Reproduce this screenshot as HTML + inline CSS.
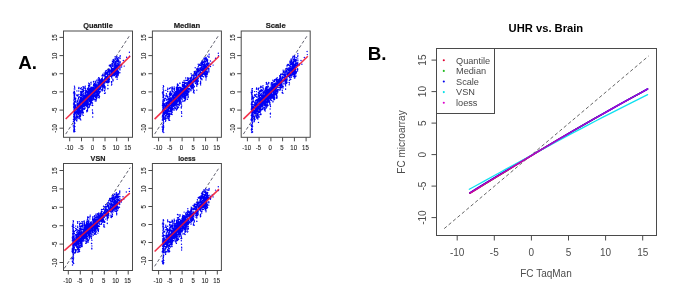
<!DOCTYPE html>
<html lang="en"><head><meta charset="utf-8"><title>Normalization comparison</title>
<style>html,body{margin:0;padding:0;background:#fff}svg{display:block}text{font-family:"Liberation Sans",Arial,sans-serif}.ax{stroke:#4a4a4a;stroke-width:1;fill:none}.tl{font-size:6.5px;fill:#222;stroke:#222;stroke-width:0.1}.tt{font-size:8px;font-weight:bold;fill:#222;stroke:#222;stroke-width:0.2}.bl{font-size:9.2px;fill:#484848}.ba{font-size:10px;fill:#4c4c4c}</style></head><body>
<svg width="685" height="296" viewBox="0 0 685 296">
<rect width="685" height="296" fill="#fff"/>
<g>
<line x1="65.7" y1="134.1" x2="130.3" y2="34.5" stroke="#505060" stroke-width="0.9" stroke-dasharray="3.2 2.2"/>
<path d="M90.2 103.0h0M90.4 99.8h0M90.3 104.3h0M90.6 99.3h0M97.4 87.1h0M97.3 89.8h0M97.6 87.7h0M97.5 88.2h0M94.3 89.2h0M94.1 89.5h0M94.4 85.5h0M94.5 89.3h0M79.7 101.8h0M80.0 100.6h0M79.8 105.8h0M80.1 101.3h0M81.9 108.1h0M81.8 109.1h0M81.9 110.1h0M81.9 108.3h0M96.9 84.6h0M97.0 80.3h0M96.9 81.0h0M96.8 80.3h0M74.3 111.5h0M74.0 107.3h0M74.0 104.4h0M74.1 111.4h0M95.4 92.4h0M95.4 93.1h0M95.5 95.0h0M95.5 89.7h0M94.9 95.9h0M95.0 95.6h0M94.9 96.4h0M95.0 95.9h0M86.3 95.2h0M86.1 91.2h0M86.3 97.0h0M86.2 98.9h0M82.0 91.2h0M81.9 94.8h0M81.9 93.3h0M81.8 96.1h0M81.3 87.8h0M81.2 93.3h0M81.3 92.0h0M81.2 98.4h0M80.6 108.3h0M80.7 107.5h0M80.7 107.7h0M80.6 106.2h0M85.8 101.5h0M85.6 97.6h0M85.6 103.5h0M85.7 102.4h0M87.1 96.1h0M87.2 99.4h0M87.2 95.4h0M87.4 95.6h0M88.6 95.2h0M88.5 93.0h0M88.6 97.8h0M88.5 95.6h0M100.2 91.1h0M100.2 92.1h0M100.2 92.0h0M100.4 89.0h0M94.8 85.7h0M94.7 83.7h0M94.9 90.2h0M94.8 86.4h0M90.3 102.8h0M90.0 95.9h0M90.4 100.9h0M90.4 101.5h0M100.0 84.7h0M100.1 82.4h0M100.1 83.4h0M100.0 83.6h0M79.7 115.9h0M79.5 108.6h0M79.6 110.3h0M79.7 110.3h0M78.2 103.1h0M78.0 105.8h0M78.2 106.2h0M78.1 103.5h0M90.0 96.5h0M90.1 99.4h0M90.0 97.0h0M89.9 96.7h0M75.0 112.8h0M75.3 112.0h0M74.9 114.4h0M75.1 110.6h0M74.9 116.7h0M74.9 111.6h0M74.8 106.5h0M74.8 112.3h0M87.5 99.6h0M87.6 93.8h0M87.4 95.9h0M87.4 99.0h0M86.3 101.0h0M86.3 104.4h0M86.2 106.1h0M86.1 103.5h0M98.1 88.1h0M98.1 89.9h0M98.1 90.5h0M98.0 89.3h0M90.5 103.8h0M90.5 100.2h0M90.4 99.9h0M90.5 102.1h0M87.5 106.1h0M87.4 106.4h0M87.5 103.5h0M87.3 99.9h0M87.0 103.7h0M87.0 105.8h0M87.0 102.2h0M87.1 106.4h0M80.3 88.7h0M74.4 120.5h0M74.3 117.1h0M74.2 121.2h0M74.3 117.7h0M78.9 94.5h0M78.9 87.5h0M79.2 96.6h0M79.0 97.3h0M92.2 102.6h0M92.2 100.4h0M92.3 104.9h0M92.2 102.9h0M79.3 103.8h0M79.1 107.9h0M79.1 101.7h0M79.3 102.1h0M83.8 104.1h0M83.7 102.8h0M83.7 105.4h0M83.7 104.0h0M74.0 109.0h0M74.2 110.7h0M74.1 109.4h0M74.1 110.9h0M95.8 85.7h0M95.9 84.9h0M95.8 88.4h0M95.8 85.4h0M77.9 96.1h0M78.0 95.7h0M78.2 99.9h0M77.9 100.0h0M81.0 99.9h0M81.1 100.2h0M81.1 106.3h0M81.0 105.4h0M87.4 100.3h0M87.3 95.2h0M87.4 98.8h0M87.6 101.0h0M96.3 89.9h0M96.3 90.5h0M96.1 90.8h0M96.2 94.5h0M90.7 93.4h0M90.7 97.9h0M90.7 95.6h0M90.7 98.2h0M93.4 98.0h0M93.4 97.6h0M93.3 96.9h0M93.3 95.5h0M76.4 107.8h0M76.3 109.2h0M76.4 112.8h0M76.4 107.9h0M88.1 95.1h0M88.2 97.2h0M88.0 89.8h0M88.4 90.9h0M87.4 101.7h0M87.3 103.1h0M87.2 104.8h0M87.3 104.4h0M96.7 91.2h0M96.8 92.5h0M96.9 92.5h0M96.9 94.3h0M83.4 101.6h0M83.5 97.4h0M83.3 98.0h0M83.5 100.3h0M89.6 97.9h0M89.6 97.2h0M89.7 94.2h0M89.6 98.8h0M75.7 112.3h0M75.4 117.2h0M75.7 113.0h0M75.4 112.3h0M84.2 99.5h0M84.0 103.7h0M84.0 103.2h0M84.1 98.0h0M82.5 106.0h0M82.3 106.7h0M82.5 105.8h0M82.4 105.3h0M77.9 103.4h0M77.9 103.8h0M77.9 106.9h0M77.7 106.4h0M95.6 89.3h0M95.5 90.6h0M95.4 90.5h0M95.3 88.0h0M83.8 95.1h0M83.8 87.0h0M84.0 88.5h0M83.9 90.5h0M99.6 88.7h0M99.6 87.8h0M99.8 87.9h0M99.7 89.2h0M89.4 99.2h0M89.6 99.1h0M89.5 94.4h0M89.5 97.4h0M89.8 99.7h0M89.7 98.2h0M89.7 100.4h0M89.8 97.2h0M90.7 92.0h0M90.8 87.3h0M90.8 94.9h0M90.7 90.4h0M91.8 98.6h0M91.6 101.6h0M91.5 99.8h0M91.7 100.4h0M77.8 110.2h0M77.8 108.5h0M77.9 116.5h0M77.8 107.9h0M85.4 92.2h0M85.5 88.8h0M85.5 90.3h0M85.5 88.4h0M80.3 100.4h0M80.2 98.9h0M80.1 100.9h0M80.2 103.9h0M84.7 101.5h0M84.5 101.6h0M84.6 99.3h0M84.7 108.0h0M76.6 116.2h0M76.4 112.7h0M76.7 118.8h0M76.5 117.3h0M99.4 91.3h0M99.4 93.0h0M99.5 96.4h0M99.4 92.1h0M79.6 105.2h0M79.7 105.5h0M79.5 106.8h0M79.5 107.4h0M81.9 89.5h0M81.9 95.2h0M82.0 102.1h0M81.7 95.6h0M97.0 88.0h0M96.9 86.4h0M96.8 87.8h0M96.9 89.5h0M91.5 89.9h0M91.3 93.4h0M91.3 91.3h0M91.4 93.3h0M77.5 101.9h0M77.5 95.1h0M77.3 105.9h0M77.4 100.9h0M96.3 94.0h0M96.1 95.6h0M96.1 92.8h0M96.3 95.9h0M98.9 79.3h0M97.6 95.3h0M97.7 93.6h0M97.8 92.2h0M97.7 91.9h0M88.9 87.0h0M88.9 90.0h0M88.8 85.7h0M88.9 91.2h0M77.7 113.3h0M78.0 112.9h0M77.8 113.5h0M77.7 111.2h0M78.9 112.4h0M79.0 114.1h0M78.8 108.6h0M78.9 111.1h0M98.3 93.7h0M98.4 94.8h0M98.3 94.4h0M98.3 95.4h0M88.3 104.8h0M88.4 102.6h0M88.5 107.7h0M88.4 107.5h0M78.8 91.0h0M78.6 97.4h0M78.8 91.1h0M78.7 88.5h0M97.2 96.4h0M97.0 96.5h0M97.1 95.3h0M97.3 91.8h0M90.9 97.6h0M90.8 95.5h0M90.9 93.3h0M90.8 96.9h0M88.9 98.2h0M88.9 94.0h0M89.0 98.1h0M89.0 97.0h0M83.8 103.6h0M83.8 102.7h0M83.9 100.4h0M83.9 101.9h0M84.7 97.7h0M84.9 96.1h0M84.8 99.1h0M84.7 100.1h0M80.4 100.2h0M80.3 104.4h0M80.2 97.1h0M80.3 104.2h0M74.8 113.1h0M74.9 107.3h0M74.7 109.4h0M75.0 113.0h0M96.8 97.0h0M97.1 97.0h0M96.9 98.0h0M96.9 97.5h0M86.2 105.5h0M86.3 103.2h0M86.3 102.1h0M86.4 102.4h0M88.4 103.1h0M88.4 99.1h0M88.3 97.5h0M88.4 97.2h0M82.4 102.1h0M82.4 103.0h0M82.4 102.4h0M82.4 104.6h0M93.7 92.5h0M93.7 87.9h0M93.7 92.8h0M93.6 92.2h0M74.7 105.5h0M74.4 107.5h0M74.5 115.3h0M74.7 107.1h0M83.5 103.8h0M83.7 104.0h0M83.8 100.2h0M83.6 101.1h0M75.0 114.6h0M74.5 112.1h0M74.9 111.8h0M74.9 112.9h0M77.3 104.1h0M77.1 103.6h0M77.2 105.0h0M77.1 105.5h0M99.5 81.7h0M99.3 81.3h0M99.4 82.5h0M99.5 78.3h0M91.1 97.6h0M91.2 98.9h0M91.3 98.7h0M91.1 98.1h0M87.6 92.0h0M87.7 88.4h0M87.7 93.4h0M87.6 92.4h0M97.0 80.9h0M96.8 84.6h0M97.0 84.6h0M96.9 84.3h0M83.1 101.3h0M82.9 99.4h0M82.9 102.6h0M82.9 99.3h0M89.5 89.4h0M89.6 86.1h0M89.7 85.8h0M89.6 89.6h0M91.9 89.1h0M91.9 93.5h0M92.0 94.8h0M91.9 95.7h0M83.4 96.8h0M83.4 99.9h0M83.2 102.3h0M83.2 99.8h0M87.7 101.9h0M87.6 96.8h0M87.6 98.5h0M87.7 96.8h0M94.0 96.3h0M94.0 99.8h0M94.0 95.7h0M93.9 98.3h0M78.0 111.1h0M77.9 114.1h0M77.9 108.3h0M77.7 112.1h0M98.5 85.8h0M98.4 86.4h0M98.5 86.6h0M98.5 84.9h0M74.1 113.2h0M74.3 114.7h0M74.1 112.7h0M74.1 113.5h0M93.8 92.1h0M93.7 92.8h0M93.8 93.2h0M93.9 92.9h0M95.1 89.7h0M95.4 87.7h0M95.3 90.0h0M95.4 85.9h0M77.6 109.0h0M77.4 106.9h0M77.4 104.7h0M77.7 105.8h0M85.0 104.0h0M84.8 102.4h0M85.0 99.7h0M84.9 101.4h0M95.2 81.2h0M95.4 82.0h0M74.3 98.6h0M74.3 97.0h0M74.3 96.2h0M74.4 95.3h0M90.3 91.9h0M90.4 93.9h0M90.4 93.1h0M90.4 92.2h0M87.4 96.5h0M87.6 97.4h0M87.3 98.9h0M87.3 94.6h0M93.1 90.8h0M93.1 95.0h0M93.1 92.2h0M92.9 93.0h0M80.0 101.7h0M79.8 107.7h0M79.8 106.6h0M79.8 105.7h0M79.1 106.0h0M79.2 107.4h0M79.2 102.2h0M79.2 105.6h0M83.6 93.1h0M83.5 90.6h0M83.6 95.3h0M83.4 91.5h0M78.5 105.6h0M78.7 107.7h0M78.5 111.8h0M78.6 107.3h0M83.0 86.8h0M83.0 89.0h0M83.2 87.3h0M98.6 97.3h0M99.0 97.4h0M99.1 95.4h0M98.9 93.8h0M89.0 99.8h0M89.1 101.0h0M89.2 98.7h0M88.9 104.2h0M82.9 106.3h0M82.9 107.3h0M82.9 106.2h0M82.9 103.2h0M81.1 107.1h0M81.0 110.9h0M81.1 111.3h0M81.0 105.2h0M98.9 86.4h0M99.0 85.7h0M99.0 84.8h0M98.9 89.4h0M85.8 102.6h0M85.6 102.5h0M85.5 102.1h0M85.7 105.7h0M99.7 83.6h0M99.8 83.8h0M99.7 80.5h0M99.8 81.5h0M87.5 99.6h0M87.4 97.9h0M87.5 97.7h0M87.7 102.6h0M87.4 103.2h0M87.7 99.6h0M87.7 104.3h0M87.5 100.6h0M97.4 86.6h0M97.7 91.3h0M97.5 93.1h0M97.7 91.5h0M93.5 87.5h0M93.5 88.1h0M93.5 85.5h0M93.5 81.5h0M89.3 95.4h0M89.3 96.3h0M89.2 97.1h0M89.2 98.3h0M85.3 86.1h0M85.2 96.2h0M85.1 93.1h0M85.1 87.3h0M97.1 85.0h0M97.0 80.6h0M97.0 80.8h0M97.0 83.1h0M84.7 103.7h0M84.8 105.4h0M84.9 101.1h0M84.8 102.5h0M98.4 90.6h0M98.2 87.5h0M98.5 90.4h0M98.3 89.6h0M75.8 98.3h0M75.7 102.1h0M75.5 99.0h0M75.7 100.3h0M85.3 100.8h0M85.4 95.3h0M85.1 98.9h0M85.4 100.1h0M87.6 98.2h0M87.7 96.5h0M87.4 96.4h0M87.6 99.6h0M99.0 81.1h0M80.6 98.2h0M80.6 95.6h0M80.6 95.6h0M80.6 93.1h0M95.2 89.0h0M95.1 87.9h0M95.0 89.7h0M95.0 85.1h0M91.9 91.8h0M91.8 90.0h0M91.7 93.9h0M91.7 91.2h0M92.8 93.8h0M92.8 88.8h0M92.8 91.4h0M92.7 93.7h0M90.7 94.0h0M90.5 93.9h0M90.4 97.6h0M90.4 93.3h0M99.4 79.4h0M99.6 80.0h0M99.6 80.8h0M82.7 112.8h0M82.7 110.7h0M82.6 109.7h0M82.8 108.6h0M84.4 102.1h0M84.6 97.3h0M84.3 97.8h0M84.4 100.0h0M79.4 109.4h0M79.2 103.9h0M79.1 103.9h0M79.2 108.1h0M75.3 110.5h0M75.3 106.3h0M75.3 113.4h0M75.4 111.8h0M79.6 105.2h0M79.6 106.2h0M79.5 105.8h0M79.5 109.5h0M98.1 79.0h0M96.0 86.2h0M95.9 89.6h0M95.9 89.0h0M96.1 88.7h0M76.9 104.6h0M77.0 106.7h0M76.9 110.5h0M77.0 106.7h0M89.9 95.6h0M89.9 98.6h0M89.8 96.9h0M89.8 94.1h0M86.6 92.2h0M86.4 96.5h0M86.6 91.7h0M86.6 91.9h0M89.5 93.8h0M89.8 92.8h0M89.6 93.3h0M89.6 90.4h0M91.3 98.7h0M91.2 99.1h0M91.3 96.8h0M91.3 100.8h0M82.2 108.0h0M82.1 106.1h0M82.1 108.0h0M82.0 108.6h0M99.1 96.1h0M99.2 97.3h0M99.2 97.9h0M86.2 102.4h0M86.3 100.4h0M86.3 99.5h0M86.3 97.4h0M90.5 91.4h0M90.5 93.1h0M90.5 93.4h0M90.5 93.0h0M90.6 92.9h0M90.7 92.5h0M90.9 93.3h0M90.6 94.9h0M78.7 110.2h0M78.7 112.2h0M78.6 113.6h0M78.9 111.7h0M75.6 105.0h0M75.6 111.6h0M75.7 105.3h0M75.8 107.0h0M84.7 99.2h0M84.9 98.1h0M84.8 99.4h0M84.8 100.9h0M94.1 92.9h0M94.0 96.0h0M94.2 91.7h0M94.1 93.2h0M95.4 89.6h0M95.5 87.6h0M95.5 95.9h0M95.4 88.2h0M93.2 94.0h0M93.3 92.8h0M93.2 93.2h0M93.1 92.0h0M76.8 116.3h0M76.8 120.9h0M76.9 119.8h0M98.0 92.1h0M97.8 87.4h0M98.0 89.1h0M98.0 89.0h0M95.1 94.6h0M95.0 87.8h0M95.2 93.1h0M95.0 96.5h0M96.9 87.8h0M96.9 87.6h0M97.0 87.4h0M97.1 87.8h0M87.8 99.5h0M87.7 96.0h0M87.6 99.2h0M87.6 100.1h0M97.9 85.2h0M98.0 85.8h0M97.9 82.5h0M98.0 82.2h0M75.2 113.5h0M75.1 113.8h0M75.2 111.5h0M75.1 107.7h0M74.6 115.4h0M74.7 114.4h0M74.8 113.7h0M74.8 118.5h0M74.4 110.1h0M74.6 110.9h0M74.4 112.8h0M74.6 109.5h0M80.6 102.8h0M80.5 100.7h0M80.7 105.9h0M80.5 104.0h0M80.4 100.0h0M80.3 108.4h0M80.5 102.7h0M80.5 104.5h0M78.9 117.0h0M78.8 118.3h0M79.0 118.1h0M78.8 114.8h0M88.8 96.6h0M89.0 98.8h0M89.0 95.6h0M88.9 97.1h0M74.8 117.1h0M74.9 115.7h0M75.0 119.3h0M75.0 113.7h0M89.6 94.8h0M89.3 96.4h0M89.5 96.7h0M89.4 99.9h0M78.4 98.5h0M78.3 106.1h0M78.4 103.7h0M78.2 100.0h0M91.6 94.2h0M91.7 90.7h0M91.7 91.8h0M91.7 93.5h0M74.6 102.1h0M74.6 97.7h0M74.5 99.2h0M74.4 94.4h0M82.1 101.9h0M82.0 107.3h0M82.2 104.6h0M82.1 104.1h0M98.7 80.9h0M98.6 80.8h0M98.6 77.6h0M88.0 91.0h0M88.1 89.0h0M88.1 88.0h0M88.0 89.5h0M95.3 100.9h0M95.4 94.9h0M95.2 97.3h0M95.2 101.1h0M91.2 91.9h0M91.2 88.2h0M91.2 93.6h0M91.3 89.4h0M90.2 96.2h0M89.8 94.5h0M90.0 100.3h0M90.0 99.7h0M79.0 110.3h0M78.9 106.8h0M78.9 107.0h0M79.1 111.0h0M89.0 93.6h0M89.0 92.4h0M89.0 92.1h0M89.1 93.9h0M75.0 112.6h0M75.1 108.8h0M75.0 113.7h0M75.0 112.1h0M95.0 86.6h0M94.9 86.8h0M95.0 86.8h0M94.9 85.0h0M99.2 85.7h0M99.1 85.1h0M99.1 83.0h0M99.2 84.1h0M96.5 96.3h0M96.2 100.9h0M96.6 97.5h0M96.4 98.7h0M75.3 119.2h0M75.2 118.8h0M83.0 106.1h0M82.7 107.6h0M82.8 104.9h0M82.9 105.8h0M82.2 99.3h0M82.3 105.9h0M82.3 107.0h0M82.5 104.1h0M76.8 95.5h0M76.9 95.6h0M77.0 94.8h0M76.9 90.9h0M90.3 92.4h0M90.5 93.2h0M90.4 95.1h0M90.5 89.2h0M95.0 86.2h0M95.0 88.0h0M95.0 86.9h0M94.9 87.9h0M82.1 97.9h0M82.2 102.1h0M82.2 104.6h0M82.1 103.5h0M96.6 92.6h0M96.6 92.2h0M96.8 90.1h0M96.8 88.8h0M94.9 86.8h0M94.9 87.2h0M94.9 89.6h0M95.0 91.2h0M77.4 104.6h0M77.3 107.7h0M77.3 109.6h0M77.3 107.2h0M94.0 88.7h0M94.2 93.0h0M94.0 88.0h0M94.2 89.5h0M117.9 64.0h0M118.0 63.8h0M117.9 60.1h0M118.0 60.8h0M104.2 75.7h0M104.2 75.1h0M104.2 73.0h0M111.7 84.1h0M111.8 81.8h0M111.5 85.1h0M111.7 77.9h0M112.9 63.2h0M113.1 64.8h0M112.8 65.4h0M112.9 66.3h0M112.3 61.1h0M112.6 61.5h0M112.3 63.6h0M102.1 78.4h0M102.0 79.5h0M102.1 75.4h0M102.2 79.7h0M113.4 62.3h0M113.5 60.0h0M113.4 66.0h0M113.5 61.6h0M112.8 79.3h0M112.9 74.6h0M113.1 80.8h0M112.9 80.0h0M116.7 67.5h0M116.6 66.7h0M116.6 67.6h0M116.8 70.4h0M116.2 70.6h0M116.2 75.8h0M116.3 71.2h0M116.3 73.8h0M107.0 81.1h0M106.6 77.3h0M106.8 81.6h0M106.9 78.7h0M114.6 64.5h0M114.6 67.6h0M114.7 67.3h0M114.8 66.5h0M117.5 69.8h0M117.4 69.7h0M117.7 74.3h0M117.7 69.1h0M118.1 65.5h0M117.9 68.4h0M118.2 68.8h0M118.1 66.5h0M100.9 83.5h0M100.9 82.8h0M100.6 87.8h0M100.7 87.7h0M113.4 69.8h0M113.2 72.6h0M113.1 68.6h0M113.3 72.2h0M104.5 85.9h0M104.5 88.0h0M104.5 87.0h0M104.5 85.4h0M111.5 75.5h0M111.5 75.8h0M111.4 71.4h0M111.5 74.7h0M107.9 85.4h0M107.9 88.7h0M107.9 85.1h0M107.9 85.4h0M105.5 87.1h0M105.4 87.0h0M105.3 93.0h0M105.3 88.9h0M109.5 74.4h0M109.4 81.6h0M109.4 79.5h0M109.2 77.1h0M113.2 59.4h0M113.5 62.4h0M113.5 60.4h0M107.9 72.4h0M107.8 74.8h0M107.8 80.3h0M107.7 75.4h0M102.8 86.4h0M102.8 84.9h0M103.0 84.0h0M102.9 79.6h0M113.6 74.8h0M113.5 74.9h0M113.4 73.9h0M113.5 73.9h0M116.8 57.0h0M116.9 57.9h0M116.9 56.4h0M116.7 57.6h0M107.8 82.2h0M107.8 80.4h0M107.7 79.6h0M107.9 80.3h0M111.0 65.5h0M111.0 65.0h0M110.8 66.9h0M111.1 66.6h0M104.6 80.6h0M104.5 82.4h0M104.5 78.2h0M104.5 78.3h0M105.3 74.6h0M105.0 76.3h0M105.2 76.7h0M105.4 77.3h0M106.8 73.2h0M106.9 71.9h0M106.8 76.5h0M106.7 72.9h0M109.4 73.0h0M109.4 69.1h0M109.3 65.7h0M109.4 65.2h0M102.0 86.0h0M102.0 87.0h0M101.7 89.8h0M101.8 86.3h0M115.1 56.7h0M115.4 61.5h0M115.3 58.1h0M115.4 59.3h0M111.7 72.3h0M111.7 76.3h0M111.8 73.8h0M111.8 76.8h0M106.2 79.8h0M106.2 81.5h0M106.3 82.3h0M106.3 78.6h0M101.7 78.9h0M101.6 81.8h0M101.8 79.2h0M101.8 83.3h0M115.5 67.7h0M115.5 65.6h0M115.4 74.5h0M115.6 69.2h0M102.9 85.6h0M102.9 86.2h0M102.8 88.5h0M102.8 85.0h0M103.0 83.8h0M102.9 89.9h0M103.0 87.0h0M102.8 86.1h0M105.6 76.5h0M105.6 78.7h0M105.7 72.5h0M105.7 74.8h0M106.3 70.4h0M116.8 73.6h0M117.0 72.4h0M116.7 71.8h0M116.9 73.4h0M112.9 71.0h0M112.6 71.4h0M112.5 74.6h0M112.6 71.5h0M104.1 81.9h0M104.0 80.8h0M104.0 81.0h0M104.0 81.3h0M108.9 82.2h0M109.2 80.3h0M108.9 81.6h0M108.9 79.8h0M117.9 72.1h0M117.9 70.5h0M117.9 70.9h0M118.0 73.2h0M107.8 77.0h0M107.6 79.1h0M107.8 73.7h0M107.7 77.8h0M114.4 71.8h0M114.3 70.6h0M114.4 68.8h0M114.4 71.1h0M102.2 89.6h0M102.0 90.8h0M102.2 89.3h0M102.2 90.9h0M114.7 66.1h0M114.7 66.3h0M114.7 64.1h0M114.9 63.5h0M115.5 69.2h0M115.7 70.5h0M115.6 69.8h0M115.7 69.0h0M116.8 58.4h0M116.7 60.5h0M116.8 61.9h0M116.7 58.9h0M113.9 73.3h0M113.8 71.5h0M113.8 70.6h0M113.6 69.3h0M107.6 75.5h0M107.8 76.8h0M107.6 78.6h0M107.6 79.6h0M101.6 83.0h0M101.4 84.7h0M101.6 85.7h0M101.5 82.6h0M110.7 75.3h0M110.5 75.2h0M110.7 75.2h0M110.5 74.0h0M115.5 71.9h0M115.5 72.4h0M115.5 73.9h0M115.4 70.6h0M104.1 79.8h0M103.8 82.6h0M104.1 83.2h0M104.0 85.4h0M105.5 73.8h0M105.4 71.2h0M105.5 73.0h0M111.0 71.6h0M111.1 69.6h0M110.9 71.3h0M110.9 70.1h0M115.1 58.8h0M115.4 59.1h0M118.1 75.6h0M118.3 72.3h0M118.3 74.2h0M118.0 75.7h0M102.9 85.9h0M102.7 85.8h0M102.9 85.8h0M102.7 81.5h0M103.8 87.3h0M104.0 83.1h0M104.0 86.2h0M104.1 86.4h0M116.4 67.3h0M116.3 70.9h0M116.2 68.7h0M116.2 66.6h0M113.1 75.7h0M113.0 73.9h0M113.1 75.4h0M112.9 72.1h0M114.7 73.0h0M114.6 75.1h0M114.9 68.7h0M114.7 71.3h0M120.1 58.6h0M120.2 55.8h0M120.0 58.0h0M120.1 56.4h0M118.8 64.0h0M119.1 65.5h0M119.1 62.8h0M118.9 65.5h0M117.1 79.2h0M117.2 76.9h0M117.1 74.3h0M117.1 77.6h0M115.7 62.9h0M115.7 61.9h0M115.8 62.6h0M115.9 66.8h0M108.1 70.3h0M108.0 71.2h0M108.2 70.6h0M108.1 71.7h0M113.2 72.8h0M113.1 71.1h0M113.1 72.9h0M113.2 72.7h0M115.5 73.1h0M115.6 77.0h0M115.6 74.4h0M115.6 73.4h0M115.4 63.2h0M115.4 63.3h0M115.5 62.1h0M115.4 63.9h0M114.7 71.7h0M114.6 71.4h0M114.8 69.4h0M114.6 74.0h0M109.2 80.1h0M109.0 80.5h0M109.2 78.5h0M109.0 79.6h0M107.9 77.5h0M107.7 74.5h0M107.8 76.1h0M107.9 74.6h0M108.6 78.7h0M108.6 79.5h0M108.6 82.2h0M108.4 82.6h0M100.9 82.5h0M101.0 82.7h0M100.8 83.1h0M101.0 84.3h0M117.0 66.9h0M117.0 68.4h0M117.1 63.8h0M117.1 65.3h0M111.3 73.2h0M110.9 72.8h0M111.2 71.6h0M111.2 74.7h0M107.8 79.2h0M107.8 82.9h0M108.0 81.8h0M107.9 81.1h0M114.4 69.6h0M114.7 66.0h0M114.6 65.8h0M114.7 65.8h0M107.9 88.4h0M116.9 67.2h0M116.7 68.4h0M116.8 66.8h0M116.8 60.6h0M118.6 61.1h0M118.5 60.2h0M118.7 61.8h0M118.6 61.9h0M108.0 75.2h0M107.9 76.4h0M108.1 76.5h0M108.0 77.7h0M102.7 84.4h0M102.9 82.9h0M103.0 81.6h0M103.1 80.9h0M115.4 66.6h0M115.4 70.6h0M115.4 70.2h0M115.5 71.8h0M120.0 65.5h0M120.0 68.0h0M120.0 65.6h0M120.1 61.6h0M103.2 83.0h0M103.0 82.0h0M103.3 83.9h0M103.1 85.3h0M114.5 75.1h0M114.5 75.6h0M114.6 73.3h0M114.6 71.6h0M116.7 76.9h0M116.7 75.6h0M116.6 75.2h0M116.9 75.8h0M118.7 57.7h0M102.9 83.8h0M102.7 80.8h0M102.7 83.8h0M102.7 81.0h0M102.1 75.9h0M102.2 75.8h0M119.9 68.1h0M119.9 69.4h0M120.1 64.0h0M120.1 67.1h0M102.6 83.5h0M102.4 78.2h0M102.6 80.9h0M102.6 81.7h0M103.8 81.8h0M103.7 80.6h0M103.7 81.2h0M103.7 82.4h0M111.8 69.3h0M111.8 68.3h0M111.8 68.8h0M111.7 71.9h0M109.2 72.1h0M109.2 74.6h0M109.1 71.7h0M109.2 75.0h0M115.4 65.5h0M115.3 68.0h0M115.3 67.6h0M115.2 68.7h0M104.1 86.5h0M103.9 84.5h0M104.1 84.4h0M104.2 83.3h0M118.7 73.1h0M118.6 72.6h0M118.6 71.8h0M118.5 71.9h0M115.7 72.6h0M115.5 72.1h0M115.4 70.2h0M115.5 71.4h0M101.4 83.0h0M101.5 85.8h0M101.7 85.6h0M101.6 84.5h0M101.0 79.4h0M106.4 73.8h0M106.4 77.7h0M106.5 72.3h0M106.6 74.0h0M106.5 82.6h0M106.5 81.1h0M106.6 77.4h0M106.6 77.8h0M109.4 72.9h0M109.3 74.0h0M109.3 70.7h0M109.5 70.2h0M101.4 79.2h0M101.3 81.8h0M101.4 81.0h0M101.6 79.6h0M98.6 91.9h0M98.7 85.4h0M98.6 84.0h0M98.6 88.9h0M91.1 91.4h0M91.2 92.0h0M91.4 88.6h0M91.1 92.6h0M93.1 98.6h0M92.8 98.5h0M92.9 99.6h0M93.0 97.9h0M101.2 81.4h0M101.2 81.3h0M101.0 81.1h0M101.2 80.0h0M88.4 96.3h0M88.8 95.9h0M88.5 92.2h0M88.5 93.9h0M86.1 99.9h0M86.1 99.0h0M86.1 103.1h0M86.3 98.4h0M81.7 113.0h0M81.8 110.4h0M81.7 112.0h0M81.7 107.5h0M90.0 105.3h0M89.8 104.9h0M89.8 103.1h0M90.0 103.8h0M98.3 89.1h0M98.3 89.4h0M98.5 87.4h0M98.3 88.5h0M95.4 95.4h0M95.2 99.3h0M95.5 96.7h0M95.4 96.8h0M84.1 99.8h0M84.1 104.5h0M84.1 103.7h0M84.2 102.0h0M84.8 104.9h0M84.5 103.4h0M84.7 104.0h0M84.5 109.2h0M86.6 94.3h0M86.5 98.4h0M86.9 97.0h0M86.7 99.3h0M91.4 93.5h0M91.3 90.1h0M91.5 94.0h0M91.2 92.7h0M88.5 90.2h0M88.7 91.9h0M88.4 93.6h0M88.5 92.0h0M91.0 99.8h0M90.9 97.1h0M90.9 98.9h0M91.0 97.1h0M91.4 95.9h0M91.5 97.4h0M91.4 96.4h0M91.4 95.1h0M87.9 93.8h0M88.1 92.8h0M88.0 91.3h0M87.9 99.2h0M89.2 98.9h0M89.5 97.4h0M89.5 96.1h0M89.4 98.7h0M90.7 92.1h0M90.8 94.8h0M91.0 96.4h0M90.8 93.6h0M89.1 89.3h0M89.2 93.0h0M89.3 91.9h0M89.2 91.1h0M92.6 97.1h0M92.6 95.6h0M92.8 93.7h0M92.7 96.4h0M100.7 82.3h0M100.5 86.7h0M100.6 80.3h0M100.7 82.7h0M93.1 96.5h0M93.2 96.1h0M93.2 93.6h0M93.2 96.8h0M90.1 95.1h0M90.0 92.8h0M89.9 88.4h0M90.0 94.1h0M80.0 100.5h0M79.7 102.3h0M79.7 100.1h0M79.9 102.1h0M91.9 102.2h0M91.9 99.9h0M91.8 99.9h0M92.0 103.0h0M78.3 104.8h0M78.4 111.4h0M78.2 108.3h0M78.3 109.2h0M81.3 98.7h0M81.4 100.4h0M81.3 98.9h0M81.4 101.1h0M93.8 82.9h0M93.7 84.5h0M93.8 86.0h0M93.7 85.0h0M88.8 93.0h0M88.8 97.9h0M88.8 96.5h0M88.8 92.7h0M79.6 106.2h0M79.6 101.1h0M79.5 104.4h0M79.6 102.7h0M87.4 107.7h0M87.5 109.3h0M87.5 110.2h0M87.5 111.1h0M85.5 100.7h0M85.5 97.5h0M85.7 99.6h0M85.7 100.0h0M93.5 91.9h0M93.5 93.4h0M93.5 96.4h0M93.5 91.2h0M102.9 75.0h0M102.8 79.8h0M102.9 76.1h0M102.9 74.2h0M91.0 99.8h0M91.0 97.8h0M90.9 98.0h0M90.9 102.7h0M85.2 102.6h0M85.1 102.0h0M85.1 100.6h0M85.1 101.8h0M82.7 101.7h0M82.7 100.4h0M82.8 100.8h0M82.8 99.0h0M89.6 84.9h0M89.3 83.7h0M88.5 107.1h0M83.1 91.4h0M83.0 90.1h0M83.0 89.6h0M83.0 94.3h0M90.4 101.3h0M90.4 100.0h0M90.3 103.3h0M90.3 104.6h0M82.9 98.8h0M83.0 99.9h0M82.9 96.5h0M83.0 99.5h0M96.0 85.2h0M96.3 87.6h0M96.4 89.9h0M96.3 88.5h0M95.9 92.5h0M95.8 89.2h0M95.9 89.3h0M95.8 88.0h0M96.1 99.8h0M96.1 99.6h0M96.2 96.5h0M86.7 110.8h0M86.9 103.6h0M86.8 102.1h0M86.8 111.7h0M92.6 90.2h0M92.7 91.0h0M92.8 87.3h0M92.6 89.0h0M89.0 99.8h0M89.1 96.3h0M89.0 98.2h0M89.0 98.1h0M87.4 103.8h0M87.3 98.5h0M87.4 105.1h0M87.4 100.1h0M82.2 104.4h0M81.9 100.2h0M81.9 102.7h0M82.0 100.5h0M81.1 94.3h0M81.3 97.4h0M81.2 95.6h0M81.4 94.8h0M94.5 92.4h0M94.4 93.7h0M94.3 95.5h0M94.4 95.6h0M88.6 87.7h0M88.5 85.8h0M88.6 85.2h0M88.6 83.1h0M91.0 84.1h0M91.1 84.0h0M91.1 82.2h0M90.9 82.6h0M95.6 91.4h0M95.5 90.7h0M95.6 90.7h0M95.5 90.0h0M79.6 109.0h0M79.5 107.3h0M79.6 103.8h0M79.5 109.1h0M84.9 102.8h0M85.2 103.2h0M85.1 104.1h0M85.2 105.5h0M90.7 92.7h0M90.8 94.1h0M90.9 96.3h0M90.7 94.1h0M92.1 105.2h0M92.1 103.2h0M87.4 103.6h0M87.5 105.5h0M87.5 102.1h0M87.6 103.7h0M95.5 83.9h0M95.7 82.6h0M95.7 87.0h0M95.8 85.2h0M90.9 94.5h0M91.0 98.5h0M90.9 96.0h0M91.0 97.5h0M82.6 102.9h0M82.5 100.2h0M82.6 101.9h0M82.4 103.1h0M84.2 102.7h0M84.3 102.3h0M84.2 99.9h0M84.3 101.6h0M94.2 91.8h0M94.2 90.1h0M94.3 90.3h0M94.4 89.7h0M92.4 88.1h0M92.4 89.3h0M92.4 91.7h0M92.5 91.2h0M78.5 110.3h0M78.4 113.3h0M78.4 106.2h0M78.7 109.4h0M97.4 92.6h0M97.6 93.2h0M97.7 88.8h0M97.6 91.4h0M93.1 93.8h0M93.2 94.3h0M93.3 94.6h0M93.3 96.1h0M87.6 89.6h0M87.4 91.4h0M87.3 89.1h0M87.5 89.3h0M88.1 100.8h0M88.0 102.4h0M88.0 97.5h0M88.2 103.9h0M83.0 102.2h0M83.1 100.7h0M83.0 103.4h0M83.1 103.4h0M104.6 91.0h0M104.7 90.4h0M104.5 93.4h0M104.5 90.5h0M88.5 95.7h0M88.7 97.0h0M88.6 96.1h0M88.7 98.4h0M98.9 90.6h0M99.0 94.1h0M99.1 92.4h0M99.0 91.5h0M85.9 101.4h0M85.9 102.4h0M85.8 103.7h0M85.7 104.5h0M90.7 93.3h0M90.7 90.2h0M90.7 91.8h0M90.4 93.8h0M79.7 110.7h0M79.7 115.7h0M79.8 115.2h0M80.0 113.0h0M87.5 101.4h0M87.4 105.1h0M87.4 105.6h0M87.5 102.0h0M95.4 90.4h0M95.5 91.9h0M95.5 84.5h0M95.2 87.3h0M82.3 98.0h0M82.4 95.8h0M82.3 98.3h0M82.3 92.2h0M95.9 92.5h0M95.9 90.9h0M96.1 89.7h0M95.9 90.8h0M91.6 87.2h0M91.4 93.9h0M91.6 92.6h0M91.5 89.4h0M83.4 105.2h0M83.6 104.4h0M83.6 105.7h0M83.4 101.2h0M86.8 97.4h0M86.8 95.1h0M86.7 94.1h0M86.8 95.4h0M86.8 98.4h0M86.9 99.1h0M86.8 100.4h0M86.9 101.1h0M89.5 95.1h0M89.3 93.8h0M89.3 93.0h0M89.3 96.0h0M86.5 90.8h0M86.5 94.0h0M86.6 94.7h0M86.5 96.9h0M84.7 99.8h0M84.8 96.3h0M84.8 97.8h0M84.7 95.4h0M87.9 93.1h0M88.1 90.3h0M87.8 93.9h0M87.9 93.7h0M83.8 108.4h0M83.6 106.4h0M83.6 105.3h0M83.5 106.1h0M82.1 105.2h0M82.1 102.8h0M82.1 105.1h0M82.1 101.9h0M89.5 107.1h0M89.3 105.9h0M94.9 91.0h0M94.9 87.5h0M94.8 91.1h0M94.8 90.6h0M80.6 110.7h0M80.5 116.4h0M80.7 111.8h0M80.6 115.6h0M89.7 95.2h0M89.6 94.3h0M89.7 95.5h0M89.6 100.9h0M85.8 101.7h0M85.9 101.7h0M85.8 105.0h0M85.9 98.1h0M83.8 102.9h0M83.9 99.4h0M83.8 103.0h0M83.9 96.7h0M86.7 100.8h0M86.6 99.9h0M86.7 103.5h0M86.7 100.4h0M85.1 104.0h0M85.2 103.1h0M85.2 108.0h0M85.1 108.3h0M91.8 90.9h0M91.9 94.2h0M91.9 92.3h0M92.0 91.6h0M88.3 93.0h0M88.3 91.1h0M88.4 93.4h0M88.3 89.2h0M85.2 92.3h0M85.4 97.2h0M85.4 93.9h0M85.3 94.0h0M93.1 96.2h0M93.0 93.1h0M93.2 90.8h0M93.1 94.1h0M88.8 91.0h0M88.7 93.0h0M88.8 93.7h0M88.7 94.5h0M89.3 91.5h0M89.2 93.5h0M89.3 91.4h0M89.4 89.5h0M83.3 101.7h0M83.2 104.0h0M83.3 108.9h0M83.2 103.2h0M88.9 107.0h0M88.9 104.2h0M89.0 100.5h0M89.2 101.4h0M95.3 87.7h0M95.2 86.3h0M95.3 87.4h0M95.4 90.0h0M84.3 101.4h0M84.4 104.7h0M84.5 105.7h0M84.4 106.3h0M89.5 95.0h0M89.4 95.2h0M89.5 94.1h0M89.3 96.3h0M79.6 104.8h0M79.6 107.3h0M79.5 108.7h0M79.8 111.6h0M93.4 97.2h0M93.4 93.8h0M93.5 89.8h0M93.3 96.8h0M83.2 115.4h0M83.2 112.0h0M83.2 113.1h0M83.3 112.5h0M79.1 106.6h0M79.2 110.3h0M79.1 108.3h0M79.2 104.6h0M89.4 89.4h0M89.3 92.8h0M89.4 94.2h0M89.3 92.3h0M96.1 96.4h0M96.3 96.0h0M96.2 97.4h0M96.2 97.5h0M80.8 88.6h0M80.8 92.5h0M80.6 94.8h0M80.7 91.5h0M83.2 101.0h0M83.3 100.3h0M83.2 101.2h0M83.4 102.6h0M85.4 92.9h0M85.2 94.0h0M85.3 93.3h0M85.2 93.8h0M83.0 107.1h0M83.1 106.0h0M83.1 109.5h0M82.9 106.6h0M116.4 76.1h0M116.4 73.5h0M116.4 73.5h0M116.5 75.7h0M112.1 72.5h0M112.3 73.7h0M112.1 75.3h0M112.2 72.0h0M112.5 69.7h0M112.6 68.6h0M112.5 70.7h0M112.5 70.3h0M117.0 68.9h0M117.0 71.2h0M117.2 68.3h0M117.1 69.7h0M112.2 63.2h0M112.3 65.0h0M112.4 66.6h0M112.5 64.8h0M116.7 67.6h0M116.7 65.9h0M116.4 70.0h0M116.6 67.3h0M111.7 71.1h0M111.7 71.3h0M111.7 74.1h0M111.6 75.3h0M110.9 70.8h0M110.9 72.1h0M110.8 76.2h0M110.7 76.0h0M108.8 69.5h0M108.5 69.5h0M108.7 69.9h0M108.8 71.2h0M121.5 64.6h0M121.6 67.0h0M121.6 65.0h0M121.7 65.0h0M114.0 60.2h0M114.1 62.7h0M114.0 61.2h0M113.9 60.4h0M116.0 65.0h0M115.9 63.0h0M115.9 64.4h0M116.1 65.7h0M114.9 69.0h0M114.9 67.2h0M114.9 66.4h0M114.8 65.9h0M115.4 68.2h0M115.7 67.1h0M115.5 67.6h0M115.6 68.7h0M115.2 63.4h0M115.1 63.0h0M115.1 60.9h0M115.2 67.6h0M111.4 67.5h0M111.3 70.8h0M111.5 69.8h0M111.4 68.5h0M109.6 75.8h0M109.6 70.1h0M109.5 71.7h0M109.4 72.8h0M111.5 68.8h0M111.4 64.9h0M111.4 69.5h0M111.5 69.3h0M110.3 71.0h0M110.4 75.1h0M110.4 75.3h0M110.4 76.2h0M117.7 58.4h0M117.7 60.2h0M117.8 61.2h0M117.5 60.2h0M118.0 66.8h0M117.9 68.3h0M117.8 67.3h0M117.9 66.6h0M111.6 82.6h0M111.7 77.6h0M111.8 84.2h0M111.4 81.7h0M110.1 66.1h0M110.2 65.1h0M113.8 67.9h0M113.7 70.6h0M113.7 70.8h0M113.9 73.6h0M120.0 69.9h0M119.9 72.7h0M119.9 69.0h0M120.0 68.3h0M104.9 83.1h0M105.1 79.4h0M105.3 81.6h0M105.3 81.7h0M116.9 71.3h0M117.1 71.2h0M116.9 70.5h0M116.8 67.2h0M118.7 61.5h0M118.7 64.8h0M118.5 65.4h0M118.9 64.8h0M74.7 96.9h0M74.2 93.6h0M74.5 98.2h0M74.1 107.6h0M73.6 116.7h0M74.4 115.8h0M74.4 91.5h0M74.1 106.5h0M74.1 99.7h0M74.4 127.0h0M74.1 117.7h0M74.4 104.6h0M74.2 98.3h0M73.4 119.5h0M74.2 106.2h0M74.1 117.9h0M74.0 130.8h0M74.4 119.7h0M74.1 105.8h0M74.5 113.4h0M74.7 110.1h0M74.3 101.6h0M73.7 114.6h0M74.0 132.1h0M74.6 129.4h0M74.2 126.2h0M74.0 92.1h0M74.2 109.0h0M74.5 118.8h0M74.4 112.1h0M74.5 108.7h0M74.0 130.3h0M74.2 127.2h0M74.2 125.0h0M74.3 106.9h0M73.5 92.9h0M74.2 99.1h0M73.8 106.5h0M74.8 123.5h0M74.9 117.7h0M74.9 126.5h0M74.6 92.5h0M74.1 115.9h0M74.6 126.7h0M74.2 92.4h0M74.5 126.5h0M73.9 100.3h0M74.1 123.8h0M74.4 128.1h0M74.9 114.8h0M74.3 121.0h0M75.1 93.9h0M75.3 101.5h0M73.8 102.6h0M74.3 101.1h0M73.9 114.6h0M74.2 119.4h0M74.1 98.0h0M74.3 128.5h0M74.6 95.7h0M74.6 114.6h0M74.4 105.9h0M74.3 92.3h0M74.3 104.3h0M74.3 95.3h0M74.5 96.0h0M74.3 119.3h0M74.5 122.4h0M73.8 131.5h0M74.6 114.6h0M74.9 131.4h0M74.3 125.9h0M73.8 119.8h0M74.8 89.0h0M74.2 115.9h0M73.2 125.9h0M74.2 94.5h0M74.5 104.9h0M74.4 115.9h0M74.7 112.6h0M74.5 115.1h0M74.3 88.9h0M73.5 104.0h0M73.9 105.6h0M74.3 117.9h0M74.5 130.2h0M73.9 103.0h0M74.0 127.2h0M74.5 123.3h0M73.6 130.0h0M73.6 107.6h0M74.2 131.2h0M74.4 92.9h0M74.1 101.1h0M73.4 121.4h0M74.3 104.8h0M73.8 92.6h0M74.5 98.1h0M74.2 113.9h0M74.4 114.8h0M74.5 104.0h0M74.1 95.2h0M74.6 115.0h0M74.7 112.2h0M74.4 86.1h0M74.8 106.5h0M74.0 108.1h0M74.6 123.2h0M74.4 119.3h0M73.9 128.0h0M74.2 91.3h0M74.1 117.2h0M74.1 118.7h0M74.3 104.4h0M74.7 87.2h0M74.2 98.7h0M74.3 102.9h0M73.7 114.8h0M74.3 111.5h0M74.7 107.1h0M80.1 102.7h0M80.3 116.5h0M80.2 107.3h0M80.3 113.4h0M79.8 108.5h0M80.2 109.8h0M80.2 118.9h0M80.0 104.0h0M80.2 112.2h0M79.8 116.2h0M80.7 115.1h0M80.4 100.7h0M80.8 101.9h0M80.0 108.2h0M79.9 113.3h0M80.3 105.6h0M79.8 117.6h0M80.3 100.9h0M80.1 118.4h0M80.2 119.2h0M80.3 113.0h0M80.3 111.0h0M80.8 119.9h0M80.4 114.0h0M79.9 101.0h0M80.5 105.2h0M82.1 114.3h0M82.4 100.3h0M82.1 108.9h0M82.2 98.6h0M82.7 109.7h0M82.3 109.7h0M82.2 106.3h0M82.3 105.6h0M82.3 112.0h0M82.7 107.3h0M82.1 104.2h0M82.1 110.4h0M82.5 102.2h0M82.0 105.0h0M82.3 103.4h0M82.6 104.3h0M82.4 110.6h0M82.3 104.0h0M82.2 111.8h0M82.2 112.1h0M76.8 112.7h0M77.0 119.1h0M77.4 117.5h0M77.3 111.2h0M76.8 102.1h0M76.7 120.5h0M77.2 112.0h0M76.3 120.5h0M76.8 111.0h0M76.9 110.5h0M76.6 112.6h0M76.6 120.6h0M77.1 109.1h0M76.4 112.1h0M76.6 111.2h0M76.7 108.4h0M77.0 104.6h0M76.5 114.7h0M77.3 104.7h0M76.9 118.4h0M76.9 113.9h0M76.8 117.1h0M92.6 103.1h0M92.8 105.6h0M92.4 110.0h0M92.6 112.2h0M92.8 113.5h0M92.7 117.1h0M92.7 117.0h0M129.4 52.2h0M129.6 56.3h0M126.6 57.3h0M117.2 59.0h0M118.1 59.7h0M116.2 61.7h0M118.8 60.3h0M117.4 61.9h0M120.2 62.3h0M124.2 66.1h0M123.3 60.5h0" stroke="#0000f4" stroke-width="1.4" stroke-linecap="round" fill="none"/>
<line x1="65.7" y1="119.0" x2="130.1" y2="56.1" stroke="#f01430" stroke-width="1.55" stroke-opacity="0.88"/>
<rect class="ax" x="63.5" y="31" width="69" height="106.3"/>
<path class="ax" d="M69.7 137.3v4M63.5 128.2h-4M81.5 137.3v4M63.5 110.1h-4M93.2 137.3v4M63.5 91.9h-4M105.0 137.3v4M63.5 73.7h-4M116.7 137.3v4M63.5 55.6h-4M128.4 137.3v4M63.5 37.4h-4"/>
<text class="tl" transform="translate(69.0 149.8) scale(0.93 1)" text-anchor="middle">-10</text>
<text class="tl" transform="translate(57.0 128.5) rotate(-90) scale(0.93 1)" text-anchor="middle">-10</text>
<text class="tl" transform="translate(80.8 149.8) scale(0.93 1)" text-anchor="middle">-5</text>
<text class="tl" transform="translate(57.0 110.4) rotate(-90) scale(0.93 1)" text-anchor="middle">-5</text>
<text class="tl" transform="translate(92.5 149.8) scale(0.93 1)" text-anchor="middle">0</text>
<text class="tl" transform="translate(57.0 92.2) rotate(-90) scale(0.93 1)" text-anchor="middle">0</text>
<text class="tl" transform="translate(104.2 149.8) scale(0.93 1)" text-anchor="middle">5</text>
<text class="tl" transform="translate(57.0 74.0) rotate(-90) scale(0.93 1)" text-anchor="middle">5</text>
<text class="tl" transform="translate(116.0 149.8) scale(0.93 1)" text-anchor="middle">10</text>
<text class="tl" transform="translate(57.0 55.9) rotate(-90) scale(0.93 1)" text-anchor="middle">10</text>
<text class="tl" transform="translate(127.7 149.8) scale(0.93 1)" text-anchor="middle">15</text>
<text class="tl" transform="translate(57.0 37.7) rotate(-90) scale(0.93 1)" text-anchor="middle">15</text>
<text class="tt" x="98.0" y="27.8" text-anchor="middle" textLength="29.5" lengthAdjust="spacingAndGlyphs">Quantile</text></g>
<g>
<line x1="154.6" y1="134.1" x2="219.2" y2="34.5" stroke="#505060" stroke-width="0.9" stroke-dasharray="3.2 2.2"/>
<path d="M179.1 102.1h0M179.3 104.2h0M179.2 104.8h0M179.5 98.3h0M186.3 87.0h0M186.2 88.4h0M186.5 88.9h0M186.4 87.8h0M183.2 88.7h0M183.0 89.0h0M183.3 85.1h0M183.4 89.3h0M168.6 101.2h0M168.9 102.7h0M168.7 106.1h0M169.0 102.9h0M170.8 105.8h0M170.7 108.8h0M170.8 110.2h0M170.8 108.9h0M185.8 83.1h0M185.9 83.0h0M185.8 80.5h0M185.7 78.0h0M163.2 110.7h0M162.9 107.4h0M162.9 103.6h0M163.0 109.1h0M184.3 89.6h0M184.3 95.9h0M184.4 94.6h0M184.4 92.5h0M183.8 94.2h0M183.9 95.5h0M183.8 97.3h0M183.9 95.8h0M175.2 93.5h0M175.0 93.2h0M175.2 94.6h0M175.1 99.1h0M170.9 94.9h0M170.8 93.5h0M170.8 93.2h0M170.7 94.6h0M170.2 87.7h0M170.1 94.0h0M170.2 91.4h0M170.1 95.9h0M169.5 106.6h0M169.6 106.2h0M169.6 106.8h0M169.5 104.4h0M174.7 101.1h0M174.5 98.2h0M174.5 104.0h0M174.6 102.0h0M176.0 96.0h0M176.1 98.6h0M176.1 95.6h0M176.3 95.3h0M177.5 96.8h0M177.4 92.4h0M177.5 95.4h0M177.4 95.1h0M189.1 91.0h0M189.1 91.9h0M189.1 90.8h0M189.3 89.2h0M183.7 86.0h0M183.6 82.1h0M183.8 88.7h0M183.7 86.4h0M179.2 103.3h0M178.9 97.2h0M179.3 100.2h0M179.3 100.3h0M188.9 85.3h0M189.0 82.5h0M189.0 83.5h0M188.9 82.4h0M168.6 115.2h0M168.4 107.2h0M168.5 110.4h0M168.6 111.5h0M167.1 102.4h0M166.9 107.3h0M167.1 106.7h0M167.0 102.5h0M178.9 95.6h0M179.0 97.9h0M178.9 97.4h0M178.8 97.9h0M163.9 114.5h0M164.2 111.9h0M163.8 115.0h0M164.0 108.3h0M163.8 116.4h0M163.8 111.3h0M163.7 107.9h0M163.7 111.7h0M176.4 100.8h0M176.5 93.4h0M176.3 96.1h0M176.3 99.8h0M175.2 101.0h0M175.2 104.1h0M175.1 104.8h0M175.0 101.3h0M187.0 87.7h0M187.0 91.8h0M187.0 88.6h0M186.9 91.1h0M179.4 102.0h0M179.4 101.2h0M179.3 101.6h0M179.4 103.6h0M176.4 105.2h0M176.3 105.6h0M176.4 101.8h0M176.2 99.5h0M175.9 102.4h0M175.9 104.2h0M175.9 103.1h0M176.0 106.8h0M169.2 88.6h0M163.3 118.3h0M163.2 116.0h0M163.1 119.3h0M163.2 118.0h0M167.8 96.5h0M167.8 89.5h0M168.1 98.0h0M167.9 98.0h0M181.1 102.6h0M181.1 102.5h0M181.2 106.9h0M181.1 102.2h0M168.2 105.1h0M168.0 107.0h0M168.0 102.0h0M168.2 101.2h0M172.7 102.7h0M172.6 103.2h0M172.6 104.3h0M172.6 105.1h0M162.9 109.5h0M163.1 107.8h0M163.0 109.2h0M163.0 111.0h0M184.7 87.5h0M184.8 85.5h0M184.7 88.5h0M184.7 85.8h0M166.8 96.0h0M166.9 95.2h0M167.1 100.0h0M166.8 99.4h0M169.9 100.1h0M170.0 98.7h0M170.0 107.7h0M169.9 102.8h0M176.3 100.4h0M176.2 95.1h0M176.3 98.8h0M176.5 99.4h0M185.2 91.8h0M185.2 90.0h0M185.0 90.9h0M185.1 95.2h0M179.6 94.4h0M179.6 97.6h0M179.6 96.6h0M179.6 95.1h0M182.3 99.9h0M182.3 97.1h0M182.2 96.5h0M182.2 94.2h0M165.3 105.8h0M165.2 110.7h0M165.3 112.5h0M165.3 106.4h0M177.0 95.9h0M177.1 93.9h0M176.9 90.1h0M177.3 90.3h0M176.3 100.4h0M176.2 103.4h0M176.1 105.1h0M176.2 104.3h0M185.6 90.9h0M185.7 93.5h0M185.8 92.8h0M185.8 95.4h0M172.3 102.2h0M172.4 96.1h0M172.2 97.1h0M172.4 101.7h0M178.5 98.5h0M178.5 98.3h0M178.6 93.4h0M178.5 99.8h0M164.6 110.3h0M164.3 117.5h0M164.6 114.2h0M164.3 110.6h0M173.1 100.0h0M172.9 103.2h0M172.9 102.4h0M173.0 100.1h0M171.4 107.7h0M171.2 105.3h0M171.4 103.6h0M171.3 105.5h0M166.8 103.2h0M166.8 103.5h0M166.8 106.9h0M166.6 104.8h0M184.5 90.6h0M184.4 91.9h0M184.3 92.0h0M184.2 86.9h0M172.7 91.7h0M172.7 87.9h0M172.9 88.9h0M172.8 89.0h0M188.5 88.5h0M188.5 89.2h0M188.7 86.2h0M188.6 89.3h0M178.3 98.4h0M178.5 96.9h0M178.4 94.1h0M178.4 97.7h0M178.7 99.3h0M178.6 98.6h0M178.6 97.5h0M178.7 97.9h0M179.6 91.6h0M179.7 87.3h0M179.7 94.8h0M179.6 91.2h0M180.7 98.0h0M180.5 100.3h0M180.4 97.8h0M180.6 97.5h0M166.7 112.6h0M166.7 110.1h0M166.8 116.0h0M166.7 109.1h0M174.3 92.9h0M174.4 88.4h0M174.4 89.7h0M174.4 90.2h0M169.2 101.2h0M169.1 100.3h0M169.0 99.9h0M169.1 101.8h0M173.6 103.0h0M173.4 103.0h0M173.5 98.5h0M173.6 106.2h0M165.5 115.5h0M165.3 113.2h0M165.6 118.4h0M165.4 116.2h0M188.3 92.4h0M188.3 91.3h0M188.4 96.8h0M188.3 94.0h0M168.5 104.8h0M168.6 106.7h0M168.4 106.2h0M168.4 105.6h0M170.8 92.2h0M170.8 94.9h0M170.9 98.6h0M170.6 95.6h0M185.9 88.5h0M185.8 88.0h0M185.7 88.1h0M185.8 90.4h0M180.4 91.0h0M180.2 93.9h0M180.2 91.4h0M180.3 92.4h0M166.4 102.8h0M166.4 93.7h0M166.2 103.8h0M166.3 100.0h0M185.2 94.4h0M185.0 93.5h0M185.0 93.6h0M185.2 93.1h0M187.8 78.0h0M186.5 95.3h0M186.6 94.4h0M186.7 90.0h0M186.6 90.9h0M177.8 87.4h0M177.8 88.4h0M177.7 85.8h0M177.8 91.2h0M166.6 113.1h0M166.9 113.3h0M166.7 114.5h0M166.6 111.3h0M167.8 114.7h0M167.9 113.5h0M167.7 108.0h0M167.8 109.9h0M187.2 93.4h0M187.3 94.9h0M187.2 94.0h0M187.2 94.2h0M177.2 105.1h0M177.3 102.2h0M177.4 108.5h0M177.3 107.0h0M167.7 88.1h0M167.5 97.0h0M167.7 91.5h0M167.6 89.6h0M186.1 93.2h0M185.9 96.9h0M186.0 93.2h0M186.2 93.4h0M179.8 96.8h0M179.7 94.8h0M179.8 94.8h0M179.7 97.9h0M177.8 98.8h0M177.8 95.1h0M177.9 96.5h0M177.9 96.1h0M172.7 104.4h0M172.7 104.9h0M172.8 100.1h0M172.8 99.8h0M173.6 95.8h0M173.8 97.1h0M173.7 99.8h0M173.6 98.4h0M169.3 100.0h0M169.2 103.9h0M169.1 98.0h0M169.2 104.5h0M163.7 112.6h0M163.8 109.2h0M163.6 109.7h0M163.9 111.9h0M185.7 99.3h0M186.0 97.0h0M185.8 97.3h0M185.8 98.1h0M175.1 105.3h0M175.2 103.2h0M175.2 100.4h0M175.3 102.3h0M177.3 101.1h0M177.3 97.9h0M177.2 100.1h0M177.3 96.7h0M171.3 104.7h0M171.3 103.5h0M171.3 103.9h0M171.3 102.9h0M182.6 93.2h0M182.6 89.5h0M182.6 91.8h0M182.5 90.7h0M163.6 106.7h0M163.3 108.3h0M163.4 114.7h0M163.6 108.3h0M172.4 103.6h0M172.6 104.2h0M172.7 101.5h0M172.5 101.1h0M163.9 116.7h0M163.4 112.5h0M163.8 112.9h0M163.8 115.3h0M166.2 103.8h0M166.0 104.5h0M166.1 104.6h0M166.0 105.6h0M188.4 79.6h0M188.2 81.0h0M188.3 82.4h0M188.4 78.6h0M180.0 98.5h0M180.1 98.3h0M180.2 99.7h0M180.0 97.3h0M176.5 91.3h0M176.6 87.5h0M176.6 95.2h0M176.5 91.5h0M185.9 80.1h0M185.7 83.3h0M185.9 86.0h0M185.8 83.0h0M172.0 101.2h0M171.8 98.5h0M171.8 103.9h0M171.8 99.4h0M178.4 90.2h0M178.5 87.4h0M178.6 87.6h0M178.5 90.1h0M180.8 87.6h0M180.8 92.7h0M180.9 94.1h0M180.8 96.1h0M172.3 96.5h0M172.3 99.8h0M172.1 99.7h0M172.1 101.7h0M176.6 99.8h0M176.5 97.5h0M176.5 99.1h0M176.6 94.5h0M182.9 96.4h0M182.9 101.5h0M182.9 96.4h0M182.8 96.5h0M166.9 111.8h0M166.8 111.9h0M166.8 109.9h0M166.6 112.1h0M187.4 82.9h0M187.3 84.1h0M187.4 86.2h0M187.4 87.3h0M163.0 111.7h0M163.2 114.1h0M163.0 111.3h0M163.0 112.8h0M182.7 93.7h0M182.6 94.4h0M182.7 92.9h0M182.8 93.2h0M184.0 87.4h0M184.3 89.5h0M184.2 88.5h0M184.3 86.4h0M166.5 111.2h0M166.3 107.7h0M166.3 104.7h0M166.6 105.9h0M173.9 104.7h0M173.7 101.4h0M173.9 99.8h0M173.8 104.8h0M184.1 80.4h0M184.3 82.1h0M163.2 96.4h0M163.2 95.6h0M163.2 94.0h0M163.3 94.2h0M179.2 90.5h0M179.3 93.4h0M179.3 91.8h0M179.3 92.4h0M176.3 96.1h0M176.5 98.0h0M176.2 98.3h0M176.2 95.9h0M182.0 91.6h0M182.0 93.9h0M182.0 92.1h0M181.8 93.3h0M168.9 102.8h0M168.7 105.6h0M168.7 107.3h0M168.7 104.7h0M168.0 105.0h0M168.1 108.8h0M168.1 103.8h0M168.1 106.1h0M172.5 91.0h0M172.4 91.9h0M172.5 95.6h0M172.3 91.0h0M167.4 106.8h0M167.6 107.8h0M167.4 110.2h0M167.5 109.8h0M171.9 89.2h0M171.9 87.8h0M172.1 86.9h0M187.5 99.2h0M187.9 95.7h0M188.0 95.6h0M187.8 95.1h0M177.9 100.2h0M178.0 98.1h0M178.1 97.7h0M177.8 104.8h0M171.8 105.8h0M171.8 107.5h0M171.8 103.9h0M171.8 100.9h0M170.0 107.4h0M169.9 111.2h0M170.0 108.8h0M169.9 105.4h0M187.8 86.7h0M187.9 85.7h0M187.9 84.4h0M187.8 88.0h0M174.7 101.4h0M174.5 103.2h0M174.4 103.8h0M174.6 107.7h0M188.6 82.6h0M188.7 83.3h0M188.6 82.0h0M188.7 82.2h0M176.4 100.6h0M176.3 96.3h0M176.4 99.3h0M176.6 101.2h0M176.3 105.1h0M176.6 98.0h0M176.6 103.2h0M176.4 100.5h0M186.3 88.7h0M186.6 91.6h0M186.4 92.6h0M186.6 91.5h0M182.4 86.7h0M182.4 84.2h0M182.4 85.5h0M182.4 85.4h0M178.2 95.9h0M178.2 93.8h0M178.1 97.6h0M178.1 95.1h0M174.2 87.0h0M174.1 93.9h0M174.0 91.9h0M174.0 89.1h0M186.0 86.4h0M185.9 83.0h0M185.9 82.9h0M185.9 83.3h0M173.6 104.1h0M173.7 105.5h0M173.8 102.1h0M173.7 103.9h0M187.3 90.1h0M187.1 88.4h0M187.4 90.2h0M187.2 88.2h0M164.7 98.7h0M164.6 104.2h0M164.4 100.9h0M164.6 99.9h0M174.2 101.4h0M174.3 94.6h0M174.0 97.1h0M174.3 97.5h0M176.5 98.2h0M176.6 97.1h0M176.3 95.7h0M176.5 97.8h0M187.9 79.3h0M169.5 99.3h0M169.5 96.3h0M169.5 94.2h0M169.5 94.0h0M184.1 89.3h0M184.0 87.9h0M183.9 88.5h0M183.9 82.5h0M180.8 92.3h0M180.7 92.2h0M180.6 94.1h0M180.6 91.2h0M181.7 94.6h0M181.7 90.7h0M181.7 90.4h0M181.6 96.2h0M179.6 94.3h0M179.4 94.6h0M179.3 95.3h0M179.3 95.2h0M188.3 81.1h0M188.5 81.9h0M188.5 78.3h0M171.6 113.1h0M171.6 109.1h0M171.5 108.9h0M171.7 111.9h0M173.3 99.9h0M173.5 98.2h0M173.2 98.8h0M173.3 98.5h0M168.3 110.2h0M168.1 103.2h0M168.0 106.3h0M168.1 109.9h0M164.2 109.0h0M164.2 105.9h0M164.2 112.3h0M164.3 109.9h0M168.5 104.0h0M168.5 106.6h0M168.4 105.3h0M168.4 108.0h0M187.0 80.4h0M184.9 87.2h0M184.8 91.5h0M184.8 87.0h0M185.0 89.4h0M165.8 106.9h0M165.9 107.2h0M165.8 110.3h0M165.9 107.1h0M178.8 96.2h0M178.8 97.2h0M178.7 97.2h0M178.7 94.9h0M175.5 94.4h0M175.3 99.6h0M175.5 93.4h0M175.5 91.8h0M178.4 93.5h0M178.7 93.5h0M178.5 92.5h0M178.5 91.0h0M180.2 98.6h0M180.1 100.4h0M180.2 98.2h0M180.2 99.5h0M171.1 107.3h0M171.0 107.2h0M171.0 108.0h0M170.9 106.3h0M188.0 95.6h0M188.1 97.3h0M188.1 97.5h0M175.1 100.5h0M175.2 102.9h0M175.2 99.3h0M175.2 97.9h0M179.4 93.1h0M179.4 92.5h0M179.4 93.7h0M179.4 93.3h0M179.5 92.7h0M179.6 92.9h0M179.8 93.8h0M179.5 96.1h0M167.6 111.3h0M167.6 113.7h0M167.5 113.1h0M167.8 111.9h0M164.5 105.2h0M164.5 110.1h0M164.6 105.3h0M164.7 107.8h0M173.6 100.5h0M173.8 97.1h0M173.7 99.9h0M173.7 102.6h0M183.0 93.2h0M182.9 94.0h0M183.1 91.8h0M183.0 93.1h0M184.3 89.1h0M184.4 87.8h0M184.4 93.0h0M184.3 88.9h0M182.1 96.1h0M182.2 92.0h0M182.1 95.2h0M182.0 92.2h0M165.7 117.1h0M165.7 118.8h0M165.8 120.2h0M186.9 91.2h0M186.7 85.9h0M186.9 89.3h0M186.9 90.7h0M184.0 94.4h0M183.9 88.5h0M184.1 94.2h0M183.9 97.2h0M185.8 88.2h0M185.8 87.7h0M185.9 89.9h0M186.0 87.6h0M176.7 99.9h0M176.6 96.0h0M176.5 99.6h0M176.5 101.6h0M186.8 84.5h0M186.9 85.4h0M186.8 82.7h0M186.9 83.0h0M164.1 112.4h0M164.0 112.2h0M164.1 112.8h0M164.0 106.2h0M163.5 117.5h0M163.6 114.9h0M163.7 111.9h0M163.7 117.1h0M163.3 111.4h0M163.5 110.9h0M163.3 112.2h0M163.5 110.1h0M169.5 103.9h0M169.4 101.1h0M169.6 104.1h0M169.4 103.7h0M169.3 99.7h0M169.2 107.0h0M169.4 103.6h0M169.4 103.7h0M167.8 118.6h0M167.7 117.6h0M167.9 117.6h0M167.7 116.6h0M177.7 96.0h0M177.9 98.2h0M177.9 95.1h0M177.8 98.2h0M163.7 116.5h0M163.8 116.3h0M163.9 117.3h0M163.9 113.9h0M178.5 96.5h0M178.2 97.2h0M178.4 97.1h0M178.3 100.2h0M167.3 99.7h0M167.2 106.8h0M167.3 102.5h0M167.1 99.8h0M180.5 94.6h0M180.6 90.2h0M180.6 91.9h0M180.6 92.6h0M163.5 100.9h0M163.5 97.2h0M163.4 99.8h0M163.3 97.1h0M171.0 100.9h0M170.9 107.6h0M171.1 104.1h0M171.0 104.3h0M187.6 80.3h0M187.5 80.6h0M187.5 78.0h0M176.9 91.1h0M177.0 89.6h0M177.0 86.3h0M176.9 92.5h0M184.2 101.0h0M184.3 96.4h0M184.1 97.4h0M184.1 100.6h0M180.1 92.1h0M180.1 89.6h0M180.1 92.8h0M180.2 89.8h0M179.1 96.9h0M178.7 94.8h0M178.9 99.3h0M178.9 98.9h0M167.9 108.1h0M167.8 105.0h0M167.8 109.3h0M168.0 110.5h0M177.9 91.6h0M177.9 92.5h0M177.9 92.7h0M178.0 92.6h0M163.9 112.9h0M164.0 110.8h0M163.9 114.2h0M163.9 111.5h0M183.9 85.4h0M183.8 86.1h0M183.9 88.7h0M183.8 86.3h0M188.1 86.4h0M188.0 86.5h0M188.0 84.3h0M188.1 85.3h0M185.4 96.5h0M185.1 99.9h0M185.5 96.3h0M185.3 98.7h0M164.2 118.9h0M164.1 119.2h0M171.9 105.4h0M171.6 107.1h0M171.7 104.3h0M171.8 105.7h0M171.1 99.7h0M171.2 106.0h0M171.2 107.9h0M171.4 102.4h0M165.7 98.2h0M165.8 96.0h0M165.9 96.2h0M165.8 90.4h0M179.2 91.9h0M179.4 93.8h0M179.3 95.6h0M179.4 92.7h0M183.9 87.2h0M183.9 88.6h0M183.9 84.2h0M183.8 89.7h0M171.0 98.8h0M171.1 103.1h0M171.1 105.3h0M171.0 103.8h0M185.5 92.7h0M185.5 93.2h0M185.7 90.5h0M185.7 89.3h0M183.8 86.2h0M183.8 88.5h0M183.8 91.2h0M183.9 91.8h0M166.3 107.0h0M166.2 108.2h0M166.2 110.4h0M166.2 105.6h0M182.9 86.7h0M183.1 91.5h0M182.9 89.6h0M183.1 89.4h0M206.8 64.5h0M206.9 63.1h0M206.8 58.8h0M206.9 59.8h0M193.1 75.7h0M193.1 75.8h0M193.1 75.0h0M200.6 84.9h0M200.7 82.3h0M200.4 83.5h0M200.6 76.9h0M201.8 63.6h0M202.0 64.2h0M201.7 64.4h0M201.8 64.7h0M201.2 63.0h0M201.5 62.3h0M201.2 62.5h0M191.0 78.9h0M190.9 79.5h0M191.0 77.5h0M191.1 78.7h0M202.3 63.0h0M202.4 64.8h0M202.3 66.2h0M202.4 61.8h0M201.7 78.9h0M201.8 74.1h0M202.0 79.8h0M201.8 78.6h0M205.6 68.0h0M205.5 66.6h0M205.5 69.0h0M205.7 69.9h0M205.1 70.1h0M205.1 73.9h0M205.2 71.5h0M205.2 74.3h0M195.9 80.7h0M195.5 79.5h0M195.7 81.1h0M195.8 78.9h0M203.5 64.7h0M203.5 68.6h0M203.6 68.4h0M203.7 65.6h0M206.4 71.6h0M206.3 69.1h0M206.6 74.5h0M206.6 67.5h0M207.0 66.9h0M206.8 66.4h0M207.1 69.9h0M207.0 66.7h0M189.8 85.5h0M189.8 81.7h0M189.5 88.4h0M189.6 85.1h0M202.3 68.8h0M202.1 72.1h0M202.0 67.5h0M202.2 72.9h0M193.4 84.6h0M193.4 87.4h0M193.4 88.1h0M193.4 85.2h0M200.4 76.2h0M200.4 74.8h0M200.3 72.7h0M200.4 75.7h0M196.8 83.6h0M196.8 90.1h0M196.8 84.5h0M196.8 85.8h0M194.4 86.7h0M194.3 86.1h0M194.2 93.0h0M194.2 90.5h0M198.4 75.3h0M198.3 81.2h0M198.3 78.6h0M198.1 78.2h0M202.1 61.0h0M202.4 63.8h0M202.4 61.6h0M196.8 71.4h0M196.7 75.0h0M196.7 80.1h0M196.6 75.5h0M191.7 85.3h0M191.7 85.7h0M191.9 85.0h0M191.8 80.2h0M202.5 74.9h0M202.4 74.7h0M202.3 73.5h0M202.4 76.1h0M205.7 59.4h0M205.8 57.9h0M205.8 57.8h0M205.6 58.0h0M196.7 82.5h0M196.7 80.2h0M196.6 79.9h0M196.8 81.4h0M199.9 64.9h0M199.9 64.5h0M199.7 68.3h0M200.0 64.3h0M193.5 80.6h0M193.4 82.0h0M193.4 77.8h0M193.4 79.1h0M194.2 75.8h0M193.9 76.8h0M194.1 76.8h0M194.3 78.4h0M195.7 74.4h0M195.8 72.1h0M195.7 75.2h0M195.6 73.6h0M198.3 71.8h0M198.3 69.1h0M198.2 64.3h0M198.3 66.5h0M190.9 86.3h0M190.9 87.3h0M190.6 89.6h0M190.7 86.2h0M204.0 58.9h0M204.3 60.7h0M204.2 57.9h0M204.3 59.2h0M200.6 71.8h0M200.6 75.1h0M200.7 72.1h0M200.7 77.8h0M195.1 79.3h0M195.1 81.8h0M195.2 82.8h0M195.2 78.0h0M190.6 82.0h0M190.5 83.1h0M190.7 78.6h0M190.7 82.8h0M204.4 69.1h0M204.4 68.8h0M204.3 73.5h0M204.5 68.9h0M191.8 86.8h0M191.8 85.9h0M191.7 88.1h0M191.7 85.1h0M191.9 84.6h0M191.8 85.8h0M191.9 85.8h0M191.7 85.6h0M194.5 78.3h0M194.5 81.6h0M194.6 73.5h0M194.6 74.9h0M195.2 67.8h0M205.7 71.0h0M205.9 72.5h0M205.6 71.5h0M205.8 72.9h0M201.8 72.8h0M201.5 70.2h0M201.4 72.8h0M201.5 72.8h0M193.0 83.9h0M192.9 79.9h0M192.9 78.7h0M192.9 82.7h0M197.8 84.3h0M198.1 78.8h0M197.8 83.8h0M197.8 77.5h0M206.8 71.5h0M206.8 68.7h0M206.8 69.3h0M206.9 74.3h0M196.7 77.4h0M196.5 74.8h0M196.7 75.5h0M196.6 77.2h0M203.3 71.5h0M203.2 68.7h0M203.3 67.9h0M203.3 69.7h0M191.1 90.0h0M190.9 90.7h0M191.1 89.9h0M191.1 88.8h0M203.6 65.4h0M203.6 64.4h0M203.6 66.7h0M203.8 61.7h0M204.4 67.9h0M204.6 68.7h0M204.5 69.8h0M204.6 70.4h0M205.7 59.2h0M205.6 60.9h0M205.7 61.9h0M205.6 58.7h0M202.8 74.5h0M202.7 70.8h0M202.7 69.8h0M202.5 67.8h0M196.5 76.6h0M196.7 77.8h0M196.5 80.5h0M196.5 80.5h0M190.5 80.7h0M190.3 82.5h0M190.5 86.4h0M190.4 83.1h0M199.6 76.3h0M199.4 75.8h0M199.6 75.7h0M199.4 75.3h0M204.4 71.4h0M204.4 73.9h0M204.4 74.1h0M204.3 70.1h0M193.0 83.2h0M192.7 83.0h0M193.0 84.8h0M192.9 85.0h0M194.4 72.6h0M194.3 71.4h0M194.4 72.3h0M199.9 72.9h0M200.0 68.7h0M199.8 69.6h0M199.8 70.5h0M204.0 58.4h0M204.3 58.5h0M207.0 73.0h0M207.2 74.5h0M207.2 74.2h0M206.9 76.2h0M191.8 85.8h0M191.6 85.1h0M191.8 84.9h0M191.6 82.1h0M192.7 87.8h0M192.9 84.3h0M192.9 88.7h0M193.0 85.8h0M205.3 67.3h0M205.2 70.4h0M205.1 70.7h0M205.1 66.4h0M202.0 75.2h0M201.9 74.5h0M202.0 76.4h0M201.8 70.3h0M203.6 73.9h0M203.5 76.9h0M203.8 71.2h0M203.6 74.1h0M209.0 57.2h0M209.1 54.2h0M208.9 57.3h0M209.0 56.1h0M207.7 65.4h0M208.0 68.2h0M208.0 63.4h0M207.8 64.4h0M206.0 79.9h0M206.1 78.0h0M206.0 75.0h0M206.0 76.9h0M204.6 61.3h0M204.6 61.0h0M204.7 63.0h0M204.8 65.2h0M197.0 70.5h0M196.9 71.6h0M197.1 69.5h0M197.0 68.7h0M202.1 73.2h0M202.0 72.9h0M202.0 67.4h0M202.1 73.3h0M204.4 72.6h0M204.5 74.7h0M204.5 72.1h0M204.5 74.2h0M204.3 62.8h0M204.3 64.7h0M204.4 61.2h0M204.3 64.6h0M203.6 72.1h0M203.5 70.0h0M203.7 71.6h0M203.5 70.7h0M198.1 80.4h0M197.9 78.3h0M198.1 80.1h0M197.9 77.8h0M196.8 77.2h0M196.6 72.8h0M196.7 75.3h0M196.8 74.9h0M197.5 79.6h0M197.5 79.3h0M197.5 82.7h0M197.3 81.3h0M189.8 81.1h0M189.9 82.3h0M189.7 83.1h0M189.9 84.3h0M205.9 66.3h0M205.9 67.1h0M206.0 65.2h0M206.0 65.3h0M200.2 73.0h0M199.8 73.5h0M200.1 72.7h0M200.1 74.7h0M196.7 79.2h0M196.7 81.6h0M196.9 81.4h0M196.8 83.0h0M203.3 71.8h0M203.6 65.8h0M203.5 66.5h0M203.6 67.7h0M196.8 86.2h0M205.8 64.7h0M205.6 66.9h0M205.7 66.5h0M205.7 61.4h0M207.5 60.8h0M207.4 61.5h0M207.6 62.6h0M207.5 61.0h0M196.9 73.1h0M196.8 73.4h0M197.0 76.7h0M196.9 75.4h0M191.6 84.6h0M191.8 81.8h0M191.9 80.1h0M192.0 80.6h0M204.3 67.3h0M204.3 69.7h0M204.3 70.4h0M204.4 72.2h0M208.9 65.7h0M208.9 70.0h0M208.9 64.1h0M209.0 62.9h0M192.1 84.8h0M191.9 84.0h0M192.2 86.9h0M192.0 86.5h0M203.4 74.0h0M203.4 76.7h0M203.5 72.8h0M203.5 73.0h0M205.6 75.3h0M205.6 75.4h0M205.5 75.1h0M205.8 74.4h0M207.6 56.1h0M191.8 83.0h0M191.6 82.7h0M191.6 86.0h0M191.6 81.4h0M191.0 77.9h0M191.1 73.8h0M208.8 68.2h0M208.8 69.0h0M209.0 63.2h0M209.0 64.0h0M191.5 81.8h0M191.3 77.2h0M191.5 81.6h0M191.5 81.0h0M192.7 84.0h0M192.6 79.4h0M192.6 82.1h0M192.6 82.1h0M200.7 68.8h0M200.7 68.1h0M200.7 65.6h0M200.6 72.6h0M198.1 71.7h0M198.1 72.1h0M198.0 72.2h0M198.1 74.3h0M204.3 65.9h0M204.2 67.1h0M204.2 67.9h0M204.1 69.0h0M193.0 86.1h0M192.8 82.9h0M193.0 86.8h0M193.1 85.4h0M207.6 73.0h0M207.5 72.0h0M207.5 72.2h0M207.4 72.1h0M204.6 73.5h0M204.4 69.7h0M204.3 71.3h0M204.4 73.0h0M190.3 80.3h0M190.4 83.8h0M190.6 83.4h0M190.5 85.8h0M189.9 78.2h0M195.3 73.3h0M195.3 78.2h0M195.4 71.8h0M195.5 74.7h0M195.4 83.5h0M195.4 80.8h0M195.5 79.7h0M195.5 77.1h0M198.3 72.0h0M198.2 74.3h0M198.2 68.2h0M198.4 70.9h0M190.3 80.1h0M190.2 81.7h0M190.3 81.1h0M190.5 79.7h0M187.5 90.5h0M187.6 86.2h0M187.5 84.5h0M187.5 87.4h0M180.0 91.2h0M180.1 88.7h0M180.3 89.6h0M180.0 90.3h0M182.0 98.7h0M181.7 98.3h0M181.8 99.1h0M181.9 97.1h0M190.1 82.9h0M190.1 81.4h0M189.9 80.9h0M190.1 80.7h0M177.3 93.1h0M177.7 95.7h0M177.4 95.8h0M177.4 95.5h0M175.0 102.3h0M175.0 98.1h0M175.0 103.0h0M175.2 98.3h0M170.6 114.1h0M170.7 109.5h0M170.6 110.0h0M170.6 110.0h0M178.9 104.6h0M178.7 107.1h0M178.7 101.8h0M178.9 104.6h0M187.2 89.1h0M187.2 88.6h0M187.4 87.9h0M187.2 88.7h0M184.3 94.2h0M184.1 98.4h0M184.4 96.1h0M184.3 94.6h0M173.0 101.5h0M173.0 104.2h0M173.0 102.0h0M173.1 101.7h0M173.7 105.5h0M173.4 104.6h0M173.6 104.5h0M173.4 108.6h0M175.5 95.1h0M175.4 95.8h0M175.8 97.2h0M175.6 98.4h0M180.3 93.8h0M180.2 91.5h0M180.4 92.9h0M180.1 94.8h0M177.4 88.6h0M177.6 93.3h0M177.3 96.1h0M177.4 90.9h0M179.9 99.9h0M179.8 98.0h0M179.8 97.6h0M179.9 95.2h0M180.3 95.7h0M180.4 95.6h0M180.3 95.7h0M180.3 93.4h0M176.8 94.8h0M177.0 92.9h0M176.9 92.6h0M176.8 100.1h0M178.1 99.5h0M178.4 96.7h0M178.4 95.5h0M178.3 99.8h0M179.6 92.6h0M179.7 94.7h0M179.9 95.8h0M179.7 93.5h0M178.0 90.2h0M178.1 92.8h0M178.2 90.8h0M178.1 92.5h0M181.5 96.0h0M181.5 95.4h0M181.7 94.5h0M181.6 95.9h0M189.6 80.7h0M189.4 85.0h0M189.5 81.2h0M189.6 82.2h0M182.0 96.5h0M182.1 94.5h0M182.1 93.5h0M182.1 95.8h0M179.0 93.4h0M178.9 92.7h0M178.8 88.7h0M178.9 95.5h0M168.9 101.0h0M168.6 102.9h0M168.6 102.3h0M168.8 103.2h0M180.8 101.9h0M180.8 101.5h0M180.7 101.5h0M180.9 103.2h0M167.2 105.4h0M167.3 111.6h0M167.1 106.6h0M167.2 110.1h0M170.2 98.9h0M170.3 101.3h0M170.2 97.6h0M170.3 101.4h0M182.7 82.4h0M182.6 82.5h0M182.7 84.8h0M182.6 85.7h0M177.7 93.1h0M177.7 97.3h0M177.7 95.7h0M177.7 92.2h0M168.5 105.3h0M168.5 99.3h0M168.4 103.6h0M168.5 102.4h0M176.3 109.5h0M176.4 110.0h0M176.4 109.5h0M176.4 109.2h0M174.4 100.2h0M174.4 98.3h0M174.6 97.6h0M174.6 97.1h0M182.4 92.2h0M182.4 91.8h0M182.4 96.6h0M182.4 91.7h0M191.8 75.2h0M191.7 77.8h0M191.8 76.1h0M191.8 76.1h0M179.9 99.7h0M179.9 96.8h0M179.8 97.4h0M179.8 103.0h0M174.1 101.0h0M174.0 100.8h0M174.0 98.4h0M174.0 102.0h0M171.6 99.7h0M171.6 100.4h0M171.7 100.3h0M171.7 98.9h0M178.5 85.1h0M178.2 85.2h0M177.4 108.7h0M172.0 93.7h0M171.9 90.8h0M171.9 88.6h0M171.9 94.6h0M179.3 101.6h0M179.3 100.7h0M179.2 103.1h0M179.2 105.4h0M171.8 98.7h0M171.9 101.3h0M171.8 97.6h0M171.9 100.6h0M184.9 83.7h0M185.2 87.5h0M185.3 87.4h0M185.2 88.4h0M184.8 91.1h0M184.7 91.0h0M184.8 88.7h0M184.7 90.5h0M185.0 99.2h0M185.0 100.8h0M185.1 95.5h0M175.6 108.4h0M175.8 103.0h0M175.7 103.9h0M175.7 107.9h0M181.5 90.1h0M181.6 89.7h0M181.7 88.3h0M181.5 88.8h0M177.9 98.5h0M178.0 96.1h0M177.9 96.7h0M177.9 98.0h0M176.3 104.2h0M176.2 100.8h0M176.3 105.2h0M176.3 100.8h0M171.1 105.3h0M170.8 100.1h0M170.8 104.1h0M170.9 100.9h0M170.0 94.3h0M170.2 99.2h0M170.1 95.4h0M170.3 98.2h0M183.4 93.8h0M183.3 93.0h0M183.2 94.8h0M183.3 97.1h0M177.5 87.3h0M177.4 84.5h0M177.5 85.3h0M177.5 83.9h0M179.9 83.4h0M180.0 83.2h0M180.0 83.2h0M179.8 83.3h0M184.5 91.0h0M184.4 90.7h0M184.5 90.0h0M184.4 93.7h0M168.5 108.1h0M168.4 108.8h0M168.5 104.8h0M168.4 110.8h0M173.8 103.4h0M174.1 101.6h0M174.0 102.8h0M174.1 106.1h0M179.6 92.4h0M179.7 92.8h0M179.8 96.3h0M179.6 93.6h0M181.0 104.3h0M181.0 103.8h0M176.3 102.7h0M176.4 104.1h0M176.4 101.8h0M176.5 104.1h0M184.4 84.5h0M184.6 82.2h0M184.6 83.8h0M184.7 84.3h0M179.8 92.6h0M179.9 98.9h0M179.8 93.3h0M179.9 97.5h0M171.5 101.6h0M171.4 102.5h0M171.5 102.7h0M171.3 104.6h0M173.1 101.1h0M173.2 102.8h0M173.1 100.7h0M173.2 100.2h0M183.1 91.7h0M183.1 89.3h0M183.2 89.4h0M183.3 89.3h0M181.3 89.1h0M181.3 88.8h0M181.3 91.9h0M181.4 89.4h0M167.4 109.5h0M167.3 113.6h0M167.3 106.3h0M167.6 111.6h0M186.3 91.2h0M186.5 91.3h0M186.6 90.6h0M186.5 92.3h0M182.0 91.9h0M182.1 94.2h0M182.2 96.7h0M182.2 97.3h0M176.5 88.7h0M176.3 87.8h0M176.2 91.3h0M176.4 89.8h0M177.0 101.5h0M176.9 102.1h0M176.9 96.1h0M177.1 103.8h0M171.9 102.7h0M172.0 99.7h0M171.9 102.4h0M172.0 104.8h0M193.5 90.0h0M193.6 91.5h0M193.4 92.6h0M193.4 89.9h0M177.4 97.7h0M177.6 96.4h0M177.5 93.8h0M177.6 97.4h0M187.8 91.2h0M187.9 92.7h0M188.0 92.6h0M187.9 91.7h0M174.8 100.3h0M174.8 102.2h0M174.7 102.5h0M174.6 103.1h0M179.6 93.3h0M179.6 91.6h0M179.6 90.8h0M179.3 92.7h0M168.6 110.9h0M168.6 115.3h0M168.7 116.3h0M168.9 113.5h0M176.4 102.0h0M176.3 105.5h0M176.3 105.4h0M176.4 100.5h0M184.3 89.7h0M184.4 91.7h0M184.4 84.9h0M184.1 87.5h0M171.2 98.6h0M171.3 94.5h0M171.2 98.3h0M171.2 94.2h0M184.8 90.4h0M184.8 92.7h0M185.0 90.5h0M184.8 90.7h0M180.5 87.5h0M180.3 93.3h0M180.5 93.5h0M180.4 90.2h0M172.3 105.2h0M172.5 101.9h0M172.5 104.3h0M172.3 101.5h0M175.7 98.0h0M175.7 95.4h0M175.6 95.4h0M175.7 96.5h0M175.7 99.2h0M175.8 100.2h0M175.7 100.0h0M175.8 101.5h0M178.4 95.0h0M178.2 95.0h0M178.2 92.3h0M178.2 96.7h0M175.4 92.6h0M175.4 92.5h0M175.5 93.4h0M175.4 95.7h0M173.6 97.5h0M173.7 94.7h0M173.7 98.3h0M173.6 94.7h0M176.8 92.7h0M177.0 89.6h0M176.7 92.7h0M176.8 93.5h0M172.7 109.3h0M172.5 107.2h0M172.5 103.2h0M172.4 107.3h0M171.0 105.3h0M171.0 100.9h0M171.0 103.6h0M171.0 101.6h0M178.4 104.5h0M178.2 107.5h0M183.8 90.9h0M183.8 87.9h0M183.7 90.4h0M183.7 90.4h0M169.5 113.3h0M169.4 114.5h0M169.6 114.0h0M169.5 115.4h0M178.6 95.6h0M178.5 93.0h0M178.6 95.6h0M178.5 100.4h0M174.7 100.0h0M174.8 100.4h0M174.7 105.3h0M174.8 98.8h0M172.7 103.3h0M172.8 97.5h0M172.7 102.3h0M172.8 96.3h0M175.6 101.7h0M175.5 100.5h0M175.6 102.3h0M175.6 101.9h0M174.0 105.6h0M174.1 106.8h0M174.1 109.0h0M174.0 110.2h0M180.7 87.8h0M180.8 93.0h0M180.8 92.3h0M180.9 91.1h0M177.2 94.4h0M177.2 91.7h0M177.3 91.4h0M177.2 88.7h0M174.1 93.0h0M174.3 98.9h0M174.3 95.7h0M174.2 94.8h0M182.0 94.1h0M181.9 95.0h0M182.1 89.4h0M182.0 94.5h0M177.7 91.4h0M177.6 93.1h0M177.7 92.3h0M177.6 94.3h0M178.2 91.5h0M178.1 95.0h0M178.2 94.3h0M178.3 89.3h0M172.2 101.3h0M172.1 104.7h0M172.2 108.2h0M172.1 105.4h0M177.8 107.8h0M177.8 106.6h0M177.9 101.2h0M178.1 100.5h0M184.2 85.9h0M184.1 84.9h0M184.2 87.0h0M184.3 88.9h0M173.2 101.2h0M173.3 106.3h0M173.4 106.2h0M173.3 105.1h0M178.4 93.7h0M178.3 96.5h0M178.4 94.4h0M178.2 96.1h0M168.5 105.0h0M168.5 108.7h0M168.4 110.2h0M168.7 111.3h0M182.3 97.3h0M182.3 94.1h0M182.4 88.6h0M182.2 96.6h0M172.1 114.5h0M172.1 110.5h0M172.1 112.0h0M172.2 112.2h0M168.0 107.3h0M168.1 111.6h0M168.0 107.9h0M168.1 104.3h0M178.3 89.8h0M178.2 93.5h0M178.3 90.9h0M178.2 91.5h0M185.0 94.5h0M185.2 97.4h0M185.1 98.5h0M185.1 97.6h0M169.7 88.4h0M169.7 93.0h0M169.5 94.7h0M169.6 88.6h0M172.1 99.9h0M172.2 100.8h0M172.1 101.1h0M172.3 103.2h0M174.3 93.8h0M174.1 94.4h0M174.2 94.1h0M174.1 92.9h0M171.9 108.6h0M172.0 106.1h0M172.0 110.0h0M171.8 106.2h0M205.3 76.6h0M205.3 71.5h0M205.3 73.6h0M205.4 75.4h0M201.0 72.9h0M201.2 75.0h0M201.0 75.6h0M201.1 72.9h0M201.4 70.1h0M201.5 67.6h0M201.4 70.4h0M201.4 69.3h0M205.9 71.3h0M205.9 72.2h0M206.1 69.4h0M206.0 67.9h0M201.1 63.6h0M201.2 63.5h0M201.3 67.1h0M201.4 65.7h0M205.6 66.5h0M205.6 66.1h0M205.3 71.1h0M205.5 67.3h0M200.6 69.6h0M200.6 72.8h0M200.6 72.8h0M200.5 75.9h0M199.8 71.8h0M199.8 72.3h0M199.7 75.1h0M199.6 75.7h0M197.7 70.7h0M197.4 68.3h0M197.6 69.8h0M197.7 71.3h0M210.4 61.0h0M210.5 66.5h0M210.5 64.3h0M210.6 64.4h0M202.9 62.2h0M203.0 62.5h0M202.9 61.9h0M202.8 62.5h0M204.9 64.6h0M204.8 64.2h0M204.8 66.5h0M205.0 67.9h0M203.8 69.4h0M203.8 67.3h0M203.8 65.6h0M203.7 66.9h0M204.3 69.1h0M204.6 66.8h0M204.4 67.5h0M204.5 68.5h0M204.1 63.0h0M204.0 62.8h0M204.0 61.0h0M204.1 67.0h0M200.3 67.9h0M200.2 71.7h0M200.4 70.0h0M200.3 69.0h0M198.5 74.4h0M198.5 69.7h0M198.4 71.5h0M198.3 70.8h0M200.4 68.5h0M200.3 65.3h0M200.3 69.0h0M200.4 68.9h0M199.2 70.3h0M199.3 73.7h0M199.3 74.5h0M199.3 76.9h0M206.6 60.9h0M206.6 59.1h0M206.7 60.2h0M206.4 60.7h0M206.9 66.8h0M206.8 68.1h0M206.7 65.1h0M206.8 66.7h0M200.5 81.2h0M200.6 78.8h0M200.7 83.6h0M200.3 83.3h0M199.0 65.4h0M199.1 65.4h0M202.7 68.1h0M202.6 69.5h0M202.6 69.9h0M202.8 73.1h0M208.9 68.5h0M208.8 71.1h0M208.8 70.0h0M208.9 71.9h0M193.8 81.6h0M194.0 79.2h0M194.2 81.1h0M194.2 80.8h0M205.8 72.2h0M206.0 73.3h0M205.8 72.3h0M205.7 67.3h0M207.6 63.1h0M207.6 64.3h0M207.4 65.4h0M207.8 64.1h0M163.6 97.7h0M163.1 93.9h0M163.4 97.6h0M163.0 109.5h0M162.5 115.7h0M163.3 115.9h0M163.3 91.2h0M163.0 106.2h0M163.0 97.3h0M163.3 128.3h0M163.0 116.0h0M163.3 104.4h0M163.1 97.6h0M162.3 116.9h0M163.1 105.2h0M163.0 117.7h0M162.9 130.7h0M163.3 121.1h0M163.0 104.7h0M163.4 113.5h0M163.6 111.5h0M163.2 101.5h0M162.6 114.1h0M162.9 130.4h0M163.5 127.4h0M163.1 124.8h0M162.9 91.8h0M163.1 109.0h0M163.4 117.7h0M163.3 110.7h0M163.4 108.8h0M162.9 128.9h0M163.1 125.9h0M163.1 124.8h0M163.2 106.6h0M162.4 92.8h0M163.1 100.3h0M162.7 104.1h0M163.7 122.8h0M163.8 119.0h0M163.8 127.0h0M163.5 92.8h0M163.0 117.2h0M163.5 125.4h0M163.1 94.0h0M163.4 126.7h0M162.8 101.3h0M163.0 124.5h0M163.3 128.6h0M163.8 115.3h0M163.2 120.3h0M164.0 95.3h0M164.2 103.5h0M162.7 102.9h0M163.2 101.6h0M162.8 115.6h0M163.1 120.6h0M163.0 97.8h0M163.2 129.8h0M163.5 96.5h0M163.5 112.8h0M163.3 105.1h0M163.2 94.0h0M163.2 105.0h0M163.2 94.2h0M163.4 97.3h0M163.2 117.6h0M163.4 122.9h0M162.7 131.8h0M163.5 114.4h0M163.8 132.6h0M163.2 125.3h0M162.7 118.6h0M163.7 90.8h0M163.1 114.2h0M162.1 126.9h0M163.1 95.4h0M163.4 104.1h0M163.3 115.2h0M163.6 109.7h0M163.4 114.5h0M163.2 89.2h0M162.4 105.2h0M162.8 106.9h0M163.2 120.1h0M163.4 129.8h0M162.8 103.7h0M162.9 127.2h0M163.4 123.6h0M162.5 129.7h0M162.5 110.2h0M163.1 131.6h0M163.3 93.0h0M163.0 101.8h0M162.3 119.9h0M163.2 103.8h0M162.7 93.3h0M163.4 98.1h0M163.1 113.7h0M163.3 117.7h0M163.4 105.9h0M163.0 94.7h0M163.5 114.6h0M163.6 112.0h0M163.3 85.6h0M163.7 103.2h0M162.9 108.0h0M163.5 121.2h0M163.3 117.8h0M162.8 128.3h0M163.1 87.8h0M163.0 117.7h0M163.0 120.6h0M163.2 105.1h0M163.6 86.5h0M163.1 99.8h0M163.2 102.5h0M162.6 116.0h0M163.2 111.6h0M163.6 106.5h0M169.0 103.3h0M169.2 116.9h0M169.1 107.7h0M169.2 115.3h0M168.7 109.0h0M169.1 108.9h0M169.1 118.0h0M168.9 104.1h0M169.1 112.9h0M168.7 115.2h0M169.6 116.2h0M169.3 102.5h0M169.7 102.7h0M168.9 110.6h0M168.8 114.4h0M169.2 105.4h0M168.7 120.1h0M169.2 103.8h0M169.0 119.0h0M169.1 119.5h0M169.2 113.1h0M169.2 111.4h0M169.7 120.4h0M169.3 113.2h0M168.8 102.5h0M169.4 104.3h0M171.0 114.2h0M171.3 101.9h0M171.0 108.3h0M171.1 100.0h0M171.6 110.5h0M171.2 109.7h0M171.1 105.9h0M171.2 106.0h0M171.2 109.7h0M171.6 105.3h0M171.0 105.7h0M171.0 112.0h0M171.4 102.5h0M170.9 103.2h0M171.2 102.7h0M171.5 104.9h0M171.3 111.3h0M171.2 103.6h0M171.1 113.5h0M171.1 110.9h0M165.7 113.2h0M165.9 118.2h0M166.3 118.3h0M166.2 111.2h0M165.7 103.3h0M165.6 119.2h0M166.1 113.6h0M165.2 119.0h0M165.7 111.2h0M165.8 110.6h0M165.5 111.8h0M165.5 121.2h0M166.0 108.6h0M165.3 111.2h0M165.5 110.6h0M165.6 108.6h0M165.9 105.7h0M165.4 113.5h0M166.2 103.3h0M165.8 117.5h0M165.8 112.8h0M165.7 118.8h0M181.5 104.1h0M181.7 106.0h0M181.3 108.0h0M181.5 111.8h0M181.7 113.2h0M181.6 116.1h0M181.6 116.2h0M218.3 53.2h0M218.5 55.7h0M215.5 58.3h0M206.1 57.5h0M207.0 59.4h0M205.1 61.5h0M207.7 59.9h0M206.3 63.6h0M209.1 63.1h0M213.1 65.1h0M212.2 62.1h0" stroke="#0000f4" stroke-width="1.4" stroke-linecap="round" fill="none"/>
<line x1="154.6" y1="119.1" x2="219.0" y2="56.2" stroke="#f01430" stroke-width="1.55" stroke-opacity="0.88"/>
<rect class="ax" x="152.4" y="31" width="69" height="106.3"/>
<path class="ax" d="M158.6 137.3v4M152.4 128.2h-4M170.3 137.3v4M152.4 110.1h-4M182.1 137.3v4M152.4 91.9h-4M193.8 137.3v4M152.4 73.7h-4M205.6 137.3v4M152.4 55.6h-4M217.3 137.3v4M152.4 37.4h-4"/>
<text class="tl" transform="translate(157.9 149.8) scale(0.93 1)" text-anchor="middle">-10</text>
<text class="tl" transform="translate(145.9 128.5) rotate(-90) scale(0.93 1)" text-anchor="middle">-10</text>
<text class="tl" transform="translate(169.7 149.8) scale(0.93 1)" text-anchor="middle">-5</text>
<text class="tl" transform="translate(145.9 110.4) rotate(-90) scale(0.93 1)" text-anchor="middle">-5</text>
<text class="tl" transform="translate(181.4 149.8) scale(0.93 1)" text-anchor="middle">0</text>
<text class="tl" transform="translate(145.9 92.2) rotate(-90) scale(0.93 1)" text-anchor="middle">0</text>
<text class="tl" transform="translate(193.2 149.8) scale(0.93 1)" text-anchor="middle">5</text>
<text class="tl" transform="translate(145.9 74.0) rotate(-90) scale(0.93 1)" text-anchor="middle">5</text>
<text class="tl" transform="translate(204.9 149.8) scale(0.93 1)" text-anchor="middle">10</text>
<text class="tl" transform="translate(145.9 55.9) rotate(-90) scale(0.93 1)" text-anchor="middle">10</text>
<text class="tl" transform="translate(216.7 149.8) scale(0.93 1)" text-anchor="middle">15</text>
<text class="tl" transform="translate(145.9 37.7) rotate(-90) scale(0.93 1)" text-anchor="middle">15</text>
<text class="tt" x="186.9" y="27.8" text-anchor="middle" textLength="26.5" lengthAdjust="spacingAndGlyphs">Median</text></g>
<g>
<line x1="243.4" y1="134.1" x2="308.0" y2="34.5" stroke="#505060" stroke-width="0.9" stroke-dasharray="3.2 2.2"/>
<path d="M267.9 100.7h0M268.1 99.8h0M268.0 105.2h0M268.3 99.4h0M275.1 87.2h0M275.0 90.4h0M275.3 89.1h0M275.2 87.6h0M272.0 87.6h0M271.8 89.3h0M272.1 87.1h0M272.2 88.4h0M257.4 101.9h0M257.7 100.9h0M257.5 106.7h0M257.8 102.3h0M259.6 106.5h0M259.5 108.6h0M259.6 110.1h0M259.6 107.9h0M274.6 86.1h0M274.7 84.1h0M274.6 79.7h0M274.5 80.9h0M252.0 109.5h0M251.7 106.6h0M251.7 104.9h0M251.8 109.5h0M273.1 90.6h0M273.1 94.2h0M273.2 95.7h0M273.2 90.0h0M272.6 94.9h0M272.7 96.1h0M272.6 95.3h0M272.7 97.0h0M264.0 93.8h0M263.8 93.7h0M264.0 97.8h0M263.9 97.0h0M259.7 92.0h0M259.6 93.8h0M259.6 96.2h0M259.5 95.5h0M259.0 87.9h0M258.9 93.2h0M259.0 92.0h0M258.9 98.4h0M258.3 107.6h0M258.4 108.7h0M258.4 106.5h0M258.3 105.0h0M263.5 102.7h0M263.3 97.2h0M263.3 103.0h0M263.4 101.3h0M264.8 95.3h0M264.9 98.8h0M264.9 95.1h0M265.1 96.6h0M266.3 97.0h0M266.2 91.8h0M266.3 96.8h0M266.2 96.0h0M277.9 91.9h0M277.9 90.9h0M277.9 90.8h0M278.1 90.6h0M272.5 85.0h0M272.4 82.6h0M272.6 88.3h0M272.5 85.8h0M268.0 102.5h0M267.7 97.1h0M268.1 100.8h0M268.1 100.8h0M277.7 85.3h0M277.8 81.1h0M277.8 83.7h0M277.7 82.5h0M257.4 115.2h0M257.2 108.4h0M257.3 111.4h0M257.4 110.5h0M255.9 103.3h0M255.7 107.4h0M255.9 105.5h0M255.8 104.6h0M267.7 97.3h0M267.8 98.3h0M267.7 96.0h0M267.6 98.1h0M252.7 112.0h0M253.0 112.5h0M252.6 115.1h0M252.8 109.5h0M252.6 114.9h0M252.6 112.1h0M252.5 108.3h0M252.5 113.1h0M265.2 101.0h0M265.3 94.3h0M265.1 95.7h0M265.1 97.8h0M264.0 99.7h0M264.0 104.0h0M263.9 104.3h0M263.8 102.6h0M275.8 86.0h0M275.8 88.1h0M275.8 85.9h0M275.7 89.0h0M268.2 101.3h0M268.2 100.9h0M268.1 100.3h0M268.2 102.3h0M265.2 106.3h0M265.1 104.5h0M265.2 103.1h0M265.0 99.1h0M264.7 103.1h0M264.7 107.5h0M264.7 102.3h0M264.8 105.8h0M258.0 88.9h0M252.1 119.4h0M252.0 117.3h0M251.9 120.8h0M252.0 119.6h0M256.6 94.3h0M256.6 87.9h0M256.9 97.3h0M256.7 99.8h0M269.9 103.6h0M269.9 98.6h0M270.0 104.3h0M269.9 102.5h0M257.0 104.6h0M256.8 107.1h0M256.8 102.3h0M257.0 100.2h0M261.5 102.9h0M261.4 105.3h0M261.4 106.7h0M261.4 104.8h0M251.7 109.9h0M251.9 109.8h0M251.8 109.7h0M251.8 108.6h0M273.5 86.5h0M273.6 87.0h0M273.5 88.5h0M273.5 87.1h0M255.6 96.2h0M255.7 95.6h0M255.9 100.3h0M255.6 100.8h0M258.7 100.2h0M258.8 100.0h0M258.8 106.2h0M258.7 104.5h0M265.1 100.5h0M265.0 95.8h0M265.1 98.7h0M265.3 100.6h0M274.0 92.5h0M274.0 90.8h0M273.8 90.7h0M273.9 95.4h0M268.4 92.2h0M268.4 98.0h0M268.4 96.3h0M268.4 97.7h0M271.1 98.7h0M271.1 96.8h0M271.0 98.1h0M271.0 95.6h0M254.1 108.3h0M254.0 110.4h0M254.1 112.8h0M254.1 105.4h0M265.8 96.9h0M265.9 96.5h0M265.7 90.2h0M266.1 89.2h0M265.1 102.4h0M265.0 104.6h0M264.9 105.2h0M265.0 103.5h0M274.4 92.3h0M274.5 94.8h0M274.6 94.0h0M274.6 93.5h0M261.1 100.9h0M261.2 95.9h0M261.0 97.5h0M261.2 100.9h0M267.3 97.8h0M267.3 97.5h0M267.4 95.1h0M267.3 99.3h0M253.4 112.5h0M253.1 116.4h0M253.4 114.9h0M253.1 111.2h0M261.9 99.2h0M261.7 103.6h0M261.7 103.3h0M261.8 100.7h0M260.2 106.2h0M260.0 105.0h0M260.2 105.7h0M260.1 107.1h0M255.6 103.8h0M255.6 104.7h0M255.6 108.2h0M255.4 107.1h0M273.3 89.1h0M273.2 91.2h0M273.1 90.0h0M273.0 87.5h0M261.5 93.9h0M261.5 87.0h0M261.7 90.0h0M261.6 90.7h0M277.3 89.4h0M277.3 87.3h0M277.5 86.3h0M277.4 90.3h0M267.1 98.6h0M267.3 98.3h0M267.2 94.2h0M267.2 95.4h0M267.5 99.6h0M267.4 98.3h0M267.4 100.7h0M267.5 98.3h0M268.4 93.1h0M268.5 86.2h0M268.5 93.9h0M268.4 89.4h0M269.5 97.2h0M269.3 98.3h0M269.2 98.3h0M269.4 101.2h0M255.5 111.8h0M255.5 111.5h0M255.6 116.1h0M255.5 109.8h0M263.1 92.4h0M263.2 88.2h0M263.2 91.6h0M263.2 89.3h0M258.0 99.6h0M257.9 98.9h0M257.8 101.2h0M257.9 105.3h0M262.4 102.1h0M262.2 100.9h0M262.3 98.5h0M262.4 108.6h0M254.3 116.8h0M254.1 113.2h0M254.4 120.0h0M254.2 116.0h0M277.1 92.7h0M277.1 93.4h0M277.2 97.0h0M277.1 91.1h0M257.3 104.8h0M257.4 106.0h0M257.2 105.7h0M257.2 107.1h0M259.6 91.0h0M259.6 98.1h0M259.7 100.3h0M259.4 96.1h0M274.7 88.7h0M274.6 86.1h0M274.5 88.1h0M274.6 89.5h0M269.2 91.2h0M269.0 95.3h0M269.0 91.9h0M269.1 94.5h0M255.2 101.3h0M255.2 94.7h0M255.0 105.5h0M255.1 102.4h0M274.0 94.3h0M273.8 96.2h0M273.8 93.3h0M274.0 94.7h0M276.6 79.4h0M275.3 94.6h0M275.4 93.1h0M275.5 90.3h0M275.4 92.4h0M266.6 86.7h0M266.6 88.9h0M266.5 87.1h0M266.6 89.4h0M255.4 112.7h0M255.7 112.7h0M255.5 113.9h0M255.4 112.0h0M256.6 114.9h0M256.7 112.7h0M256.5 107.4h0M256.6 110.4h0M276.0 93.4h0M276.1 95.0h0M276.0 94.9h0M276.0 94.4h0M266.0 105.4h0M266.1 102.3h0M266.2 108.0h0M266.1 104.6h0M256.5 89.2h0M256.3 96.6h0M256.5 91.6h0M256.4 89.1h0M274.9 93.7h0M274.7 96.6h0M274.8 94.1h0M275.0 93.5h0M268.6 98.5h0M268.5 93.5h0M268.6 93.4h0M268.5 95.4h0M266.6 99.9h0M266.6 93.9h0M266.7 97.9h0M266.7 97.5h0M261.5 101.3h0M261.5 103.6h0M261.6 100.6h0M261.6 100.1h0M262.4 95.3h0M262.6 95.9h0M262.5 102.1h0M262.4 98.8h0M258.1 102.0h0M258.0 105.3h0M257.9 96.9h0M258.0 105.2h0M252.5 114.9h0M252.6 109.4h0M252.4 109.8h0M252.7 109.8h0M274.5 99.5h0M274.8 98.8h0M274.6 98.9h0M274.6 97.5h0M263.9 105.0h0M264.0 103.2h0M264.0 103.8h0M264.1 103.3h0M266.1 104.7h0M266.1 98.3h0M266.0 99.6h0M266.1 99.7h0M260.1 103.0h0M260.1 101.9h0M260.1 102.7h0M260.1 104.4h0M271.4 92.8h0M271.4 88.1h0M271.4 93.9h0M271.3 89.7h0M252.4 105.1h0M252.1 110.0h0M252.2 113.6h0M252.4 106.5h0M261.2 104.7h0M261.4 102.9h0M261.5 101.6h0M261.3 103.2h0M252.7 117.5h0M252.2 111.2h0M252.6 113.8h0M252.6 113.9h0M255.0 104.4h0M254.8 104.3h0M254.9 103.9h0M254.8 105.5h0M277.2 80.8h0M277.0 83.2h0M277.1 82.4h0M277.2 77.7h0M268.8 99.3h0M268.9 98.6h0M269.0 99.8h0M268.8 97.1h0M265.3 92.2h0M265.4 88.5h0M265.4 92.5h0M265.3 92.6h0M274.7 83.5h0M274.5 84.8h0M274.7 85.2h0M274.6 81.5h0M260.8 101.0h0M260.6 99.0h0M260.6 103.0h0M260.6 98.8h0M267.2 90.6h0M267.3 86.4h0M267.4 86.3h0M267.3 89.8h0M269.6 90.7h0M269.6 92.2h0M269.7 93.6h0M269.6 95.6h0M261.1 94.1h0M261.1 99.7h0M260.9 101.8h0M260.9 100.6h0M265.4 100.7h0M265.3 95.5h0M265.3 99.2h0M265.4 94.2h0M271.7 97.6h0M271.7 100.5h0M271.7 96.6h0M271.6 98.1h0M255.7 110.6h0M255.6 113.1h0M255.6 110.0h0M255.4 112.4h0M276.2 84.9h0M276.1 84.9h0M276.2 86.4h0M276.2 85.2h0M251.8 111.9h0M252.0 114.7h0M251.8 112.7h0M251.8 114.4h0M271.5 93.0h0M271.4 96.5h0M271.5 91.6h0M271.6 94.2h0M272.8 88.8h0M273.1 88.0h0M273.0 88.9h0M273.1 84.2h0M255.3 109.2h0M255.1 107.2h0M255.1 102.3h0M255.4 107.4h0M262.7 107.0h0M262.5 103.0h0M262.7 100.7h0M262.6 102.9h0M272.9 80.3h0M273.1 83.2h0M252.0 97.2h0M252.0 94.9h0M252.0 96.8h0M252.1 95.1h0M268.0 90.7h0M268.1 91.5h0M268.1 92.6h0M268.1 92.2h0M265.1 98.0h0M265.3 96.0h0M265.0 97.4h0M265.0 97.2h0M270.8 93.2h0M270.8 95.6h0M270.8 93.1h0M270.6 93.2h0M257.7 101.8h0M257.5 105.1h0M257.5 106.1h0M257.5 105.6h0M256.8 105.9h0M256.9 107.5h0M256.9 104.3h0M256.9 106.0h0M261.3 91.3h0M261.2 93.1h0M261.3 95.2h0M261.1 89.6h0M256.2 107.8h0M256.4 106.6h0M256.2 111.3h0M256.3 107.0h0M260.7 86.8h0M260.7 90.3h0M260.9 86.2h0M276.3 97.7h0M276.7 97.0h0M276.8 98.4h0M276.6 98.0h0M266.7 99.3h0M266.8 99.3h0M266.9 98.9h0M266.6 104.0h0M260.6 107.7h0M260.6 107.7h0M260.6 105.8h0M260.6 102.8h0M258.8 106.5h0M258.7 111.8h0M258.8 108.0h0M258.7 108.1h0M276.6 84.1h0M276.7 86.9h0M276.7 84.5h0M276.6 87.7h0M263.5 102.6h0M263.3 102.8h0M263.2 103.1h0M263.4 107.8h0M277.4 83.1h0M277.5 82.1h0M277.4 82.2h0M277.5 83.6h0M265.2 99.8h0M265.1 95.7h0M265.2 96.7h0M265.4 99.9h0M265.1 103.8h0M265.4 99.3h0M265.4 105.5h0M265.2 98.3h0M275.1 88.8h0M275.4 91.6h0M275.2 92.3h0M275.4 91.5h0M271.2 86.4h0M271.2 85.2h0M271.2 84.3h0M271.2 83.1h0M267.0 94.9h0M267.0 96.7h0M266.9 96.3h0M266.9 98.9h0M263.0 85.8h0M262.9 94.9h0M262.8 90.5h0M262.8 87.3h0M274.8 87.2h0M274.7 80.0h0M274.7 80.7h0M274.7 84.7h0M262.4 104.9h0M262.5 106.2h0M262.6 104.7h0M262.5 103.3h0M276.1 90.4h0M275.9 86.6h0M276.2 90.1h0M276.0 87.4h0M253.5 97.7h0M253.4 101.4h0M253.2 100.0h0M253.4 98.5h0M263.0 103.0h0M263.1 96.9h0M262.8 98.8h0M263.1 97.9h0M265.3 100.3h0M265.4 97.6h0M265.1 96.2h0M265.3 98.5h0M276.7 79.9h0M258.3 99.9h0M258.3 95.0h0M258.3 94.4h0M258.3 92.7h0M272.9 89.5h0M272.8 85.9h0M272.7 89.0h0M272.7 84.9h0M269.6 93.3h0M269.5 90.2h0M269.4 92.7h0M269.4 92.4h0M270.5 90.4h0M270.5 90.5h0M270.5 90.5h0M270.4 92.9h0M268.4 95.2h0M268.2 94.7h0M268.1 96.6h0M268.1 95.4h0M277.1 81.2h0M277.3 81.1h0M277.3 79.4h0M260.4 114.0h0M260.4 110.1h0M260.3 109.5h0M260.5 110.1h0M262.1 102.1h0M262.3 100.5h0M262.0 96.8h0M262.1 99.1h0M257.1 108.0h0M256.9 102.1h0M256.8 102.9h0M256.9 108.8h0M253.0 110.3h0M253.0 106.8h0M253.0 111.2h0M253.1 108.5h0M257.3 105.3h0M257.3 106.2h0M257.2 105.2h0M257.2 108.0h0M275.8 79.2h0M273.7 86.7h0M273.6 89.3h0M273.6 87.5h0M273.8 87.9h0M254.6 106.9h0M254.7 107.5h0M254.6 111.2h0M254.7 107.3h0M267.6 95.4h0M267.6 97.9h0M267.5 98.2h0M267.5 95.3h0M264.3 91.4h0M264.1 97.3h0M264.3 91.7h0M264.3 91.1h0M267.2 94.5h0M267.5 93.3h0M267.3 92.8h0M267.3 90.9h0M269.0 98.8h0M268.9 98.1h0M269.0 94.9h0M269.0 101.9h0M259.9 108.0h0M259.8 105.3h0M259.8 105.7h0M259.7 107.1h0M276.8 98.0h0M276.9 96.7h0M276.9 95.8h0M263.9 101.5h0M264.0 101.1h0M264.0 97.0h0M264.0 99.9h0M268.2 94.5h0M268.2 93.7h0M268.2 93.8h0M268.2 94.8h0M268.3 91.4h0M268.4 93.7h0M268.6 94.2h0M268.3 96.4h0M256.4 111.3h0M256.4 113.1h0M256.3 113.0h0M256.6 112.9h0M253.3 104.6h0M253.3 110.1h0M253.4 107.6h0M253.5 106.8h0M262.4 98.7h0M262.6 98.0h0M262.5 99.4h0M262.5 101.9h0M271.8 93.1h0M271.7 95.7h0M271.9 91.7h0M271.8 94.6h0M273.1 87.4h0M273.2 89.6h0M273.2 96.6h0M273.1 88.6h0M270.9 95.7h0M271.0 92.2h0M270.9 93.6h0M270.8 92.4h0M254.5 117.7h0M254.5 119.5h0M254.6 120.0h0M275.7 91.8h0M275.5 86.2h0M275.7 89.8h0M275.7 89.9h0M272.8 94.4h0M272.7 88.9h0M272.9 95.5h0M272.7 97.2h0M274.6 87.8h0M274.6 88.1h0M274.7 87.3h0M274.8 88.0h0M265.5 99.8h0M265.4 97.8h0M265.3 99.9h0M265.3 100.7h0M275.6 85.5h0M275.7 83.5h0M275.6 84.4h0M275.7 83.0h0M252.9 111.6h0M252.8 110.9h0M252.9 112.1h0M252.8 107.8h0M252.3 117.6h0M252.4 114.1h0M252.5 113.6h0M252.5 117.6h0M252.1 109.8h0M252.3 111.4h0M252.1 113.1h0M252.3 110.6h0M258.3 103.3h0M258.2 102.0h0M258.4 104.6h0M258.2 101.6h0M258.1 98.9h0M258.0 107.2h0M258.2 102.9h0M258.2 103.4h0M256.6 118.0h0M256.5 116.2h0M256.7 117.5h0M256.5 116.5h0M266.5 95.1h0M266.7 98.8h0M266.7 97.0h0M266.6 97.8h0M252.5 116.0h0M252.6 115.8h0M252.7 118.0h0M252.7 115.3h0M267.3 95.2h0M267.0 96.9h0M267.2 98.4h0M267.1 102.3h0M256.1 100.9h0M256.0 104.5h0M256.1 103.4h0M255.9 100.6h0M269.3 93.5h0M269.4 90.4h0M269.4 92.7h0M269.4 93.0h0M252.3 102.2h0M252.3 97.9h0M252.2 101.8h0M252.1 96.3h0M259.8 102.3h0M259.7 107.9h0M259.9 106.0h0M259.8 103.7h0M276.4 81.2h0M276.3 80.5h0M276.3 78.6h0M265.7 89.9h0M265.8 88.0h0M265.8 87.1h0M265.7 90.9h0M273.0 101.4h0M273.1 97.0h0M272.9 97.0h0M272.9 101.9h0M268.9 91.7h0M268.9 89.8h0M268.9 90.8h0M269.0 89.9h0M267.9 96.7h0M267.5 93.6h0M267.7 102.7h0M267.7 98.1h0M256.7 109.6h0M256.6 104.4h0M256.6 109.1h0M256.8 108.8h0M266.7 93.0h0M266.7 92.5h0M266.7 93.1h0M266.8 94.5h0M252.7 113.1h0M252.8 109.7h0M252.7 113.9h0M252.7 111.3h0M272.7 86.0h0M272.6 85.6h0M272.7 88.6h0M272.6 84.4h0M276.9 84.8h0M276.8 83.2h0M276.8 83.7h0M276.9 82.1h0M274.2 95.7h0M273.9 99.6h0M274.3 97.5h0M274.1 98.2h0M253.0 117.7h0M252.9 120.0h0M260.7 107.0h0M260.4 107.6h0M260.5 103.0h0M260.6 105.2h0M259.9 98.3h0M260.0 105.8h0M260.0 106.7h0M260.2 103.2h0M254.5 97.1h0M254.6 95.3h0M254.7 94.8h0M254.6 91.6h0M268.0 94.0h0M268.2 92.7h0M268.1 95.8h0M268.2 92.1h0M272.7 86.2h0M272.7 90.0h0M272.7 86.8h0M272.6 87.9h0M259.8 98.9h0M259.9 103.0h0M259.9 105.3h0M259.8 104.4h0M274.3 94.3h0M274.3 95.6h0M274.5 92.1h0M274.5 88.8h0M272.6 86.2h0M272.6 90.8h0M272.6 90.5h0M272.7 91.7h0M255.1 106.2h0M255.0 107.3h0M255.0 107.6h0M255.0 107.3h0M271.7 88.6h0M271.9 93.4h0M271.7 89.0h0M271.9 90.3h0M295.6 63.7h0M295.7 64.0h0M295.6 59.7h0M295.7 60.1h0M281.9 77.3h0M281.9 73.9h0M281.9 74.2h0M289.4 82.7h0M289.5 80.2h0M289.2 84.7h0M289.4 76.8h0M290.6 62.0h0M290.8 64.0h0M290.5 66.4h0M290.6 64.4h0M290.0 62.9h0M290.3 61.8h0M290.0 62.3h0M279.8 79.9h0M279.7 78.9h0M279.8 76.8h0M279.9 78.2h0M291.1 62.4h0M291.2 63.3h0M291.1 66.8h0M291.2 62.0h0M290.5 79.3h0M290.6 75.6h0M290.8 79.6h0M290.6 79.1h0M294.4 67.6h0M294.3 69.0h0M294.3 68.1h0M294.5 69.9h0M293.9 68.9h0M293.9 72.7h0M294.0 71.2h0M294.0 72.8h0M284.7 80.2h0M284.3 80.1h0M284.5 80.0h0M284.6 78.8h0M292.3 63.9h0M292.3 68.6h0M292.4 67.3h0M292.5 66.7h0M295.2 70.4h0M295.1 70.7h0M295.4 72.3h0M295.4 68.3h0M295.8 64.1h0M295.6 67.5h0M295.9 69.6h0M295.8 67.0h0M278.6 85.3h0M278.6 82.4h0M278.3 89.4h0M278.4 87.3h0M291.1 69.9h0M290.9 73.0h0M290.8 70.1h0M291.0 73.3h0M282.2 86.1h0M282.2 86.8h0M282.2 86.9h0M282.2 85.0h0M289.2 75.1h0M289.2 75.7h0M289.1 72.7h0M289.2 76.2h0M285.6 85.6h0M285.6 88.9h0M285.6 84.6h0M285.6 85.9h0M283.2 86.8h0M283.1 86.3h0M283.0 93.3h0M283.0 88.1h0M287.2 76.8h0M287.1 82.3h0M287.1 79.6h0M286.9 77.9h0M290.9 60.0h0M291.2 64.5h0M291.2 58.9h0M285.6 72.8h0M285.5 74.1h0M285.5 78.9h0M285.4 75.3h0M280.5 84.3h0M280.5 85.8h0M280.7 86.4h0M280.6 78.3h0M291.3 75.5h0M291.2 77.4h0M291.1 74.7h0M291.2 76.3h0M294.5 57.1h0M294.6 58.3h0M294.6 55.9h0M294.4 56.7h0M285.5 81.9h0M285.5 80.2h0M285.4 80.4h0M285.6 81.3h0M288.7 64.7h0M288.7 64.8h0M288.5 68.1h0M288.8 64.7h0M282.3 79.9h0M282.2 81.9h0M282.2 80.1h0M282.2 78.4h0M283.0 75.0h0M282.7 76.8h0M282.9 77.3h0M283.1 77.1h0M284.5 72.8h0M284.6 74.9h0M284.5 74.1h0M284.4 74.9h0M287.1 71.3h0M287.1 68.2h0M287.0 66.1h0M287.1 65.2h0M279.7 87.1h0M279.7 87.4h0M279.4 87.1h0M279.5 85.4h0M292.8 58.0h0M293.1 61.8h0M293.0 58.1h0M293.1 56.2h0M289.4 73.1h0M289.4 74.8h0M289.5 73.5h0M289.5 77.7h0M283.9 77.8h0M283.9 81.4h0M284.0 84.1h0M284.0 79.9h0M279.4 80.8h0M279.3 83.7h0M279.5 79.9h0M279.5 82.6h0M293.2 68.7h0M293.2 66.8h0M293.1 73.6h0M293.3 67.6h0M280.6 85.9h0M280.6 84.9h0M280.5 86.9h0M280.5 85.1h0M280.7 83.8h0M280.6 89.0h0M280.7 87.7h0M280.5 86.9h0M283.3 77.6h0M283.3 80.7h0M283.4 71.2h0M283.4 74.4h0M284.0 71.7h0M294.5 73.2h0M294.7 73.2h0M294.4 72.4h0M294.6 73.0h0M290.6 73.7h0M290.3 70.7h0M290.2 73.3h0M290.3 71.2h0M281.8 81.6h0M281.7 79.5h0M281.7 79.0h0M281.7 81.5h0M286.6 83.2h0M286.9 80.4h0M286.6 81.0h0M286.6 79.3h0M295.6 71.5h0M295.6 69.5h0M295.6 71.2h0M295.7 73.9h0M285.5 76.9h0M285.3 75.8h0M285.5 75.4h0M285.4 75.8h0M292.1 72.8h0M292.0 70.9h0M292.1 69.0h0M292.1 69.1h0M279.9 90.3h0M279.7 90.1h0M279.9 89.3h0M279.9 89.0h0M292.4 65.6h0M292.4 66.1h0M292.4 67.5h0M292.6 62.2h0M293.2 69.2h0M293.4 68.6h0M293.3 71.3h0M293.4 70.4h0M294.5 59.4h0M294.4 59.9h0M294.5 64.5h0M294.4 59.4h0M291.6 71.2h0M291.5 69.5h0M291.5 71.5h0M291.3 68.7h0M285.3 74.6h0M285.5 77.0h0M285.3 79.2h0M285.3 80.7h0M279.3 83.2h0M279.1 82.6h0M279.3 85.3h0M279.2 82.2h0M288.4 75.6h0M288.2 72.8h0M288.4 76.2h0M288.2 74.6h0M293.2 73.4h0M293.2 72.6h0M293.2 74.7h0M293.1 72.0h0M281.8 81.2h0M281.5 82.5h0M281.8 81.6h0M281.7 84.2h0M283.2 74.1h0M283.1 70.1h0M283.2 72.2h0M288.7 70.6h0M288.8 70.1h0M288.6 69.3h0M288.6 70.9h0M292.8 57.2h0M293.1 59.3h0M295.8 73.0h0M296.0 73.3h0M296.0 75.9h0M295.7 76.5h0M280.6 86.5h0M280.4 86.0h0M280.6 87.2h0M280.4 84.4h0M281.5 87.6h0M281.7 84.1h0M281.7 87.6h0M281.8 86.6h0M294.1 68.8h0M294.0 69.9h0M293.9 69.9h0M293.9 65.5h0M290.8 75.2h0M290.7 74.5h0M290.8 77.0h0M290.6 71.1h0M292.4 74.0h0M292.3 74.8h0M292.6 71.9h0M292.4 72.9h0M297.8 58.9h0M297.9 55.7h0M297.7 56.7h0M297.8 53.7h0M296.5 64.1h0M296.8 65.5h0M296.8 62.8h0M296.6 63.2h0M294.8 78.1h0M294.9 77.2h0M294.8 75.0h0M294.8 75.3h0M293.4 61.5h0M293.4 63.3h0M293.5 62.4h0M293.6 65.3h0M285.8 73.1h0M285.7 71.4h0M285.9 71.1h0M285.8 70.2h0M290.9 72.9h0M290.8 73.9h0M290.8 70.3h0M290.9 73.3h0M293.2 73.2h0M293.3 76.6h0M293.3 73.0h0M293.3 74.8h0M293.1 62.4h0M293.1 63.4h0M293.2 60.0h0M293.1 63.5h0M292.4 71.1h0M292.3 71.1h0M292.5 70.3h0M292.3 73.5h0M286.9 78.8h0M286.7 79.3h0M286.9 79.0h0M286.7 76.7h0M285.6 76.6h0M285.4 74.8h0M285.5 75.4h0M285.6 76.6h0M286.3 80.8h0M286.3 79.7h0M286.3 82.3h0M286.1 80.3h0M278.6 80.9h0M278.7 83.1h0M278.5 82.6h0M278.7 81.9h0M294.7 66.5h0M294.7 67.3h0M294.8 65.3h0M294.8 65.5h0M289.0 71.3h0M288.6 72.4h0M288.9 72.8h0M288.9 73.7h0M285.5 78.8h0M285.5 80.4h0M285.7 83.7h0M285.6 82.8h0M292.1 69.9h0M292.4 67.9h0M292.3 65.1h0M292.4 69.4h0M285.6 89.3h0M294.6 67.4h0M294.4 68.0h0M294.5 66.7h0M294.5 61.0h0M296.3 60.9h0M296.2 60.3h0M296.4 63.8h0M296.3 60.4h0M285.7 76.2h0M285.6 75.3h0M285.8 76.5h0M285.7 77.0h0M280.4 84.0h0M280.6 83.5h0M280.7 78.3h0M280.8 81.0h0M293.1 66.2h0M293.1 68.7h0M293.1 69.5h0M293.2 72.4h0M297.7 63.4h0M297.7 69.7h0M297.7 65.3h0M297.8 62.6h0M280.9 83.4h0M280.7 81.6h0M281.0 85.0h0M280.8 85.2h0M292.2 74.6h0M292.2 75.1h0M292.3 71.9h0M292.3 72.2h0M294.4 78.0h0M294.4 76.3h0M294.3 75.6h0M294.6 73.4h0M296.4 57.8h0M280.6 83.0h0M280.4 81.4h0M280.4 82.9h0M280.4 80.4h0M279.8 75.7h0M279.9 75.7h0M297.6 68.8h0M297.6 70.1h0M297.8 64.2h0M297.8 64.6h0M280.3 81.1h0M280.1 78.5h0M280.3 81.9h0M280.3 81.4h0M281.5 82.2h0M281.4 80.3h0M281.4 80.8h0M281.4 80.9h0M289.5 70.5h0M289.5 68.0h0M289.5 65.5h0M289.4 73.0h0M286.9 72.2h0M286.9 72.3h0M286.8 71.2h0M286.9 74.4h0M293.1 65.9h0M293.0 67.8h0M293.0 66.3h0M292.9 67.3h0M281.8 84.4h0M281.6 83.7h0M281.8 87.3h0M281.9 85.6h0M296.4 72.8h0M296.3 72.4h0M296.3 71.5h0M296.2 72.1h0M293.4 70.4h0M293.2 70.4h0M293.1 70.5h0M293.2 72.9h0M279.1 82.0h0M279.2 83.6h0M279.4 84.8h0M279.3 84.1h0M278.7 79.6h0M284.1 74.0h0M284.1 74.7h0M284.2 71.5h0M284.3 75.9h0M284.2 83.1h0M284.2 80.6h0M284.3 77.3h0M284.3 77.7h0M287.1 73.1h0M287.0 73.3h0M287.0 69.7h0M287.2 69.9h0M279.1 79.3h0M279.0 79.9h0M279.1 80.3h0M279.3 79.9h0M276.3 90.4h0M276.4 84.3h0M276.3 85.2h0M276.3 88.6h0M268.8 91.6h0M268.9 91.0h0M269.1 88.0h0M268.8 89.8h0M270.8 98.1h0M270.5 97.4h0M270.6 99.7h0M270.7 99.1h0M278.9 80.9h0M278.9 82.9h0M278.7 82.8h0M278.9 79.9h0M266.1 94.6h0M266.5 96.3h0M266.2 94.0h0M266.2 95.0h0M263.8 101.0h0M263.8 97.7h0M263.8 104.0h0M264.0 97.8h0M259.4 116.9h0M259.5 109.4h0M259.4 112.4h0M259.4 109.0h0M267.7 105.0h0M267.5 104.2h0M267.5 100.2h0M267.7 101.4h0M276.0 91.6h0M276.0 88.5h0M276.2 87.2h0M276.0 90.5h0M273.1 96.0h0M272.9 98.3h0M273.2 95.0h0M273.1 96.3h0M261.8 100.1h0M261.8 103.3h0M261.8 104.0h0M261.9 101.9h0M262.5 103.7h0M262.2 103.5h0M262.4 105.2h0M262.2 106.4h0M264.3 95.4h0M264.2 96.0h0M264.6 96.2h0M264.4 98.8h0M269.1 91.7h0M269.0 89.4h0M269.2 93.1h0M268.9 94.9h0M266.2 90.6h0M266.4 93.0h0M266.1 94.1h0M266.2 91.1h0M268.7 99.1h0M268.6 97.5h0M268.6 98.8h0M268.7 98.4h0M269.1 95.4h0M269.2 95.8h0M269.1 95.3h0M269.1 94.9h0M265.6 93.1h0M265.8 92.2h0M265.7 93.3h0M265.6 100.6h0M266.9 97.9h0M267.2 97.1h0M267.2 94.9h0M267.1 99.6h0M268.4 90.8h0M268.5 93.4h0M268.7 93.6h0M268.5 94.5h0M266.8 91.6h0M266.9 91.1h0M267.0 90.4h0M266.9 92.2h0M270.3 96.7h0M270.3 95.3h0M270.5 96.0h0M270.4 96.1h0M278.4 81.3h0M278.2 84.9h0M278.3 80.0h0M278.4 81.8h0M270.8 95.6h0M270.9 94.4h0M270.9 93.3h0M270.9 95.3h0M267.8 93.7h0M267.7 91.6h0M267.6 87.7h0M267.7 95.3h0M257.7 100.1h0M257.4 99.6h0M257.4 101.8h0M257.6 100.8h0M269.6 101.9h0M269.6 100.7h0M269.5 102.3h0M269.7 103.2h0M256.0 105.9h0M256.1 112.6h0M255.9 108.9h0M256.0 107.4h0M259.0 98.4h0M259.1 100.4h0M259.0 98.5h0M259.1 101.0h0M271.5 82.7h0M271.4 83.5h0M271.5 84.7h0M271.4 88.0h0M266.5 92.7h0M266.5 96.6h0M266.5 96.8h0M266.5 91.5h0M257.3 107.4h0M257.3 101.9h0M257.2 101.9h0M257.3 101.6h0M265.1 110.6h0M265.2 108.8h0M265.2 109.2h0M265.2 111.0h0M263.2 99.6h0M263.2 95.8h0M263.4 96.3h0M263.4 97.3h0M271.2 92.1h0M271.2 94.2h0M271.2 95.7h0M271.2 92.3h0M280.6 76.7h0M280.5 79.0h0M280.6 74.1h0M280.6 75.0h0M268.7 100.0h0M268.7 97.8h0M268.6 97.4h0M268.6 100.9h0M262.9 101.9h0M262.8 101.0h0M262.8 98.5h0M262.8 102.5h0M260.4 101.1h0M260.4 102.0h0M260.5 99.1h0M260.5 99.6h0M267.3 84.6h0M267.0 83.5h0M266.2 107.1h0M260.8 91.6h0M260.7 91.4h0M260.7 87.7h0M260.7 95.0h0M268.1 101.5h0M268.1 101.7h0M268.0 102.1h0M268.0 105.6h0M260.6 100.5h0M260.7 101.5h0M260.6 95.2h0M260.7 99.4h0M273.7 84.3h0M274.0 86.3h0M274.1 90.1h0M274.0 88.9h0M273.6 93.5h0M273.5 90.6h0M273.6 88.4h0M273.5 90.4h0M273.8 98.7h0M273.8 99.7h0M273.9 94.9h0M264.4 108.9h0M264.6 103.3h0M264.5 102.9h0M264.5 110.1h0M270.3 91.1h0M270.4 89.7h0M270.5 87.6h0M270.3 88.7h0M266.7 96.9h0M266.8 97.4h0M266.7 99.6h0M266.7 97.2h0M265.1 105.3h0M265.0 101.4h0M265.1 105.7h0M265.1 100.2h0M259.9 103.2h0M259.6 98.7h0M259.6 103.2h0M259.7 102.8h0M258.8 96.6h0M259.0 100.0h0M258.9 96.1h0M259.1 96.9h0M272.2 91.4h0M272.1 94.6h0M272.0 97.3h0M272.1 97.2h0M266.3 88.2h0M266.2 84.1h0M266.3 86.7h0M266.3 82.5h0M268.7 83.7h0M268.8 82.5h0M268.8 82.4h0M268.6 82.8h0M273.3 89.7h0M273.2 90.7h0M273.3 90.9h0M273.2 92.6h0M257.3 110.1h0M257.2 106.6h0M257.3 104.8h0M257.2 111.1h0M262.6 103.4h0M262.9 102.3h0M262.8 103.0h0M262.9 106.8h0M268.4 92.1h0M268.5 92.5h0M268.6 96.6h0M268.4 93.7h0M269.8 104.7h0M269.8 103.4h0M265.1 104.0h0M265.2 105.1h0M265.2 100.7h0M265.3 105.1h0M273.2 83.1h0M273.4 81.3h0M273.4 84.1h0M273.5 84.3h0M268.6 94.6h0M268.7 98.5h0M268.6 95.5h0M268.7 96.6h0M260.3 103.4h0M260.2 102.8h0M260.3 102.4h0M260.1 102.4h0M261.9 104.5h0M262.0 103.8h0M261.9 100.8h0M262.0 101.4h0M271.9 91.6h0M271.9 90.8h0M272.0 89.2h0M272.1 89.4h0M270.1 88.8h0M270.1 89.9h0M270.1 90.0h0M270.2 89.0h0M256.2 109.1h0M256.1 113.3h0M256.1 106.0h0M256.4 109.0h0M275.1 92.7h0M275.3 94.4h0M275.4 88.7h0M275.3 91.8h0M270.8 93.6h0M270.9 95.0h0M271.0 93.4h0M271.0 96.8h0M265.3 90.6h0M265.1 90.0h0M265.0 89.9h0M265.2 90.4h0M265.8 101.2h0M265.7 101.6h0M265.7 96.8h0M265.9 103.7h0M260.7 102.1h0M260.8 102.6h0M260.7 102.2h0M260.8 105.7h0M282.3 90.2h0M282.4 92.3h0M282.2 92.7h0M282.2 92.5h0M266.2 97.2h0M266.4 98.2h0M266.3 93.4h0M266.4 98.2h0M276.6 90.6h0M276.7 94.3h0M276.8 92.2h0M276.7 91.8h0M263.6 101.8h0M263.6 102.0h0M263.5 103.0h0M263.4 102.7h0M268.4 92.3h0M268.4 91.7h0M268.4 90.3h0M268.1 94.4h0M257.4 110.6h0M257.4 113.8h0M257.5 116.0h0M257.7 113.0h0M265.2 102.1h0M265.1 103.5h0M265.1 103.4h0M265.2 99.7h0M273.1 91.7h0M273.2 91.5h0M273.2 85.2h0M272.9 88.2h0M260.0 97.7h0M260.1 94.2h0M260.0 99.8h0M260.0 94.5h0M273.6 91.2h0M273.6 92.3h0M273.8 89.2h0M273.6 90.5h0M269.3 89.7h0M269.1 92.5h0M269.3 90.4h0M269.2 89.8h0M261.1 106.4h0M261.3 103.5h0M261.3 106.5h0M261.1 101.8h0M264.5 96.7h0M264.5 96.5h0M264.4 96.0h0M264.5 96.9h0M264.5 99.6h0M264.6 100.7h0M264.5 100.9h0M264.6 100.5h0M267.2 94.6h0M267.0 96.8h0M267.0 93.4h0M267.0 96.3h0M264.2 91.9h0M264.2 92.9h0M264.3 95.1h0M264.2 96.9h0M262.4 99.5h0M262.5 95.1h0M262.5 96.3h0M262.4 95.7h0M265.6 93.2h0M265.8 90.2h0M265.5 94.2h0M265.6 91.9h0M261.5 109.5h0M261.3 107.1h0M261.3 105.0h0M261.2 106.4h0M259.8 105.1h0M259.8 100.7h0M259.8 103.7h0M259.8 101.7h0M267.2 105.6h0M267.0 106.8h0M272.6 90.4h0M272.6 87.1h0M272.5 88.4h0M272.5 91.2h0M258.3 112.7h0M258.2 114.8h0M258.4 112.6h0M258.3 115.3h0M267.4 96.2h0M267.3 94.5h0M267.4 95.0h0M267.3 99.0h0M263.5 101.4h0M263.6 103.0h0M263.5 102.5h0M263.6 98.2h0M261.5 102.9h0M261.6 97.1h0M261.5 101.7h0M261.6 96.7h0M264.4 100.6h0M264.3 100.1h0M264.4 103.9h0M264.4 100.2h0M262.8 105.2h0M262.9 105.2h0M262.9 108.5h0M262.8 109.6h0M269.5 89.3h0M269.6 94.3h0M269.6 91.6h0M269.7 91.6h0M266.0 94.9h0M266.0 91.9h0M266.1 91.1h0M266.0 89.6h0M262.9 92.4h0M263.1 97.5h0M263.1 95.4h0M263.0 95.2h0M270.8 93.8h0M270.7 95.6h0M270.9 90.7h0M270.8 93.3h0M266.5 92.0h0M266.4 92.5h0M266.5 90.4h0M266.4 92.8h0M267.0 91.7h0M266.9 94.5h0M267.0 92.8h0M267.1 89.0h0M261.0 101.6h0M260.9 104.1h0M261.0 109.5h0M260.9 104.0h0M266.6 106.8h0M266.6 105.4h0M266.7 99.7h0M266.9 101.2h0M273.0 87.8h0M272.9 83.7h0M273.0 86.6h0M273.1 89.7h0M262.0 102.1h0M262.1 105.4h0M262.2 105.3h0M262.1 106.1h0M267.2 96.0h0M267.1 97.7h0M267.2 94.8h0M267.0 96.1h0M257.3 104.8h0M257.3 108.5h0M257.2 107.9h0M257.5 110.7h0M271.1 96.9h0M271.1 95.9h0M271.2 90.3h0M271.0 96.7h0M260.9 114.0h0M260.9 110.8h0M260.9 110.6h0M261.0 114.5h0M256.8 109.8h0M256.9 110.9h0M256.8 108.9h0M256.9 105.3h0M267.1 89.6h0M267.0 92.8h0M267.1 91.7h0M267.0 92.6h0M273.8 95.9h0M274.0 97.8h0M273.9 98.8h0M273.9 96.7h0M258.5 88.4h0M258.5 92.6h0M258.3 95.3h0M258.4 89.8h0M260.9 99.5h0M261.0 98.2h0M260.9 99.0h0M261.1 102.0h0M263.1 93.6h0M262.9 94.4h0M263.0 93.7h0M262.9 92.0h0M260.7 108.9h0M260.8 103.7h0M260.8 109.0h0M260.6 107.7h0M294.1 74.9h0M294.1 72.7h0M294.1 74.0h0M294.2 75.3h0M289.8 73.0h0M290.0 75.4h0M289.8 74.8h0M289.9 73.9h0M290.2 70.9h0M290.3 69.4h0M290.2 68.5h0M290.2 70.0h0M294.7 69.9h0M294.7 72.2h0M294.9 68.5h0M294.8 70.1h0M289.9 61.2h0M290.0 66.6h0M290.1 65.2h0M290.2 67.9h0M294.4 66.2h0M294.4 66.8h0M294.1 67.3h0M294.3 67.9h0M289.4 69.4h0M289.4 73.8h0M289.4 72.2h0M289.3 74.4h0M288.6 74.2h0M288.6 73.8h0M288.5 75.7h0M288.4 75.5h0M286.5 69.9h0M286.2 68.4h0M286.4 70.1h0M286.5 70.5h0M299.2 64.2h0M299.3 65.0h0M299.3 64.4h0M299.4 63.9h0M291.7 63.5h0M291.8 62.9h0M291.7 60.6h0M291.6 61.3h0M293.7 65.3h0M293.6 64.2h0M293.6 65.1h0M293.8 66.0h0M292.6 70.5h0M292.6 68.1h0M292.6 66.9h0M292.5 65.1h0M293.1 69.3h0M293.4 66.5h0M293.2 68.1h0M293.3 68.7h0M292.9 63.2h0M292.8 62.3h0M292.8 63.1h0M292.9 66.8h0M289.1 67.6h0M289.0 70.4h0M289.2 69.5h0M289.1 68.1h0M287.3 75.3h0M287.3 69.0h0M287.2 72.9h0M287.1 71.4h0M289.2 68.2h0M289.1 65.3h0M289.1 68.4h0M289.2 69.1h0M288.0 69.7h0M288.1 74.5h0M288.1 73.8h0M288.1 74.5h0M295.4 60.3h0M295.4 62.1h0M295.5 61.5h0M295.2 59.9h0M295.7 65.6h0M295.6 68.0h0M295.5 67.5h0M295.6 65.3h0M289.3 80.3h0M289.4 80.4h0M289.5 83.1h0M289.1 82.4h0M287.8 64.5h0M287.9 65.0h0M291.5 68.0h0M291.4 70.0h0M291.4 71.1h0M291.6 70.8h0M297.7 69.1h0M297.6 71.1h0M297.6 69.5h0M297.7 68.9h0M282.6 80.6h0M282.8 78.1h0M283.0 80.5h0M283.0 83.1h0M294.6 71.7h0M294.8 73.7h0M294.6 70.6h0M294.5 68.7h0M296.4 62.9h0M296.4 63.6h0M296.2 66.8h0M296.6 63.4h0M252.4 97.3h0M251.9 95.6h0M252.2 98.7h0M251.8 108.0h0M251.3 115.6h0M252.1 116.5h0M252.1 90.3h0M251.8 106.1h0M251.8 98.4h0M252.1 127.7h0M251.8 118.1h0M252.1 103.2h0M251.9 97.0h0M251.1 119.4h0M251.9 107.8h0M251.8 118.2h0M251.7 130.2h0M252.1 119.8h0M251.8 106.5h0M252.2 113.8h0M252.4 110.5h0M252.0 101.0h0M251.4 115.1h0M251.7 129.4h0M252.3 129.4h0M251.9 125.3h0M251.7 92.5h0M251.9 109.8h0M252.2 118.1h0M252.1 111.4h0M252.2 109.3h0M251.7 129.7h0M251.9 126.4h0M251.9 126.2h0M252.0 108.0h0M251.2 92.3h0M251.9 98.4h0M251.5 108.6h0M252.5 122.8h0M252.6 117.7h0M252.6 126.2h0M252.3 92.3h0M251.8 115.0h0M252.3 125.6h0M251.9 92.8h0M252.2 126.4h0M251.6 102.2h0M251.8 126.3h0M252.1 128.3h0M252.6 116.8h0M252.0 120.0h0M252.8 96.3h0M253.0 102.1h0M251.5 103.8h0M252.0 102.2h0M251.6 115.9h0M251.9 121.2h0M251.8 99.4h0M252.0 129.5h0M252.3 96.6h0M252.3 112.8h0M252.1 105.3h0M252.0 92.9h0M252.0 103.3h0M252.0 94.4h0M252.2 97.0h0M252.0 117.7h0M252.2 121.7h0M251.5 132.1h0M252.3 115.1h0M252.6 132.0h0M252.0 124.4h0M251.5 118.5h0M252.5 90.9h0M251.9 113.4h0M250.9 125.0h0M251.9 96.4h0M252.2 104.9h0M252.1 114.3h0M252.4 110.9h0M252.2 114.0h0M252.0 89.1h0M251.2 104.1h0M251.6 106.3h0M252.0 116.5h0M252.2 131.4h0M251.6 103.6h0M251.7 128.4h0M252.2 123.1h0M251.3 129.8h0M251.3 109.2h0M251.9 132.5h0M252.1 93.1h0M251.8 103.8h0M251.1 120.1h0M252.0 104.7h0M251.5 93.7h0M252.2 96.3h0M251.9 113.2h0M252.1 116.0h0M252.2 102.5h0M251.8 94.7h0M252.3 115.3h0M252.4 112.5h0M252.1 88.7h0M252.5 104.4h0M251.7 107.4h0M252.3 123.8h0M252.1 118.2h0M251.6 126.4h0M251.9 90.8h0M251.8 117.3h0M251.8 120.0h0M252.0 105.2h0M252.4 88.6h0M251.9 97.9h0M252.0 103.8h0M251.4 115.4h0M252.0 110.8h0M252.4 107.0h0M257.8 104.7h0M258.0 115.1h0M257.9 107.3h0M258.0 113.4h0M257.5 110.9h0M257.9 109.7h0M257.9 117.8h0M257.7 104.5h0M257.9 113.1h0M257.5 115.8h0M258.4 116.8h0M258.1 101.2h0M258.5 104.4h0M257.7 110.7h0M257.6 113.3h0M258.0 105.6h0M257.5 117.8h0M258.0 104.0h0M257.8 119.0h0M257.9 119.0h0M258.0 113.4h0M258.0 111.2h0M258.5 122.4h0M258.1 113.4h0M257.6 100.9h0M258.2 104.5h0M259.8 114.7h0M260.1 100.5h0M259.8 107.1h0M259.9 101.3h0M260.4 111.3h0M260.0 109.9h0M259.9 104.8h0M260.0 107.2h0M260.0 111.1h0M260.4 105.3h0M259.8 106.5h0M259.8 111.1h0M260.2 102.8h0M259.7 104.3h0M260.0 103.5h0M260.3 104.5h0M260.1 112.4h0M260.0 103.5h0M259.9 110.9h0M259.9 111.6h0M254.5 110.4h0M254.7 117.5h0M255.1 119.3h0M255.0 109.0h0M254.5 102.7h0M254.4 119.0h0M254.9 113.5h0M254.0 121.8h0M254.5 112.6h0M254.6 110.7h0M254.3 112.0h0M254.3 121.2h0M254.8 107.6h0M254.1 113.1h0M254.3 111.5h0M254.4 108.2h0M254.7 104.5h0M254.2 113.4h0M255.0 103.2h0M254.6 117.4h0M254.6 113.8h0M254.5 118.2h0M270.3 105.0h0M270.5 106.5h0M270.1 109.0h0M270.3 113.4h0M270.5 113.1h0M270.4 114.1h0M270.4 116.9h0M307.1 51.5h0M307.3 54.6h0M304.3 57.5h0M294.9 57.2h0M295.8 59.6h0M293.9 62.0h0M296.5 60.0h0M295.1 63.7h0M297.9 60.8h0M301.9 64.2h0M301.0 60.5h0" stroke="#0000f4" stroke-width="1.4" stroke-linecap="round" fill="none"/>
<line x1="243.4" y1="119.1" x2="307.8" y2="56.2" stroke="#f01430" stroke-width="1.55" stroke-opacity="0.88"/>
<rect class="ax" x="241.2" y="31" width="69" height="106.3"/>
<path class="ax" d="M247.4 137.3v4M241.2 128.2h-4M259.1 137.3v4M241.2 110.1h-4M270.9 137.3v4M241.2 91.9h-4M282.6 137.3v4M241.2 73.7h-4M294.4 137.3v4M241.2 55.6h-4M306.1 137.3v4M241.2 37.4h-4"/>
<text class="tl" transform="translate(246.7 149.8) scale(0.93 1)" text-anchor="middle">-10</text>
<text class="tl" transform="translate(234.7 128.5) rotate(-90) scale(0.93 1)" text-anchor="middle">-10</text>
<text class="tl" transform="translate(258.4 149.8) scale(0.93 1)" text-anchor="middle">-5</text>
<text class="tl" transform="translate(234.7 110.4) rotate(-90) scale(0.93 1)" text-anchor="middle">-5</text>
<text class="tl" transform="translate(270.2 149.8) scale(0.93 1)" text-anchor="middle">0</text>
<text class="tl" transform="translate(234.7 92.2) rotate(-90) scale(0.93 1)" text-anchor="middle">0</text>
<text class="tl" transform="translate(281.9 149.8) scale(0.93 1)" text-anchor="middle">5</text>
<text class="tl" transform="translate(234.7 74.0) rotate(-90) scale(0.93 1)" text-anchor="middle">5</text>
<text class="tl" transform="translate(293.7 149.8) scale(0.93 1)" text-anchor="middle">10</text>
<text class="tl" transform="translate(234.7 55.9) rotate(-90) scale(0.93 1)" text-anchor="middle">10</text>
<text class="tl" transform="translate(305.4 149.8) scale(0.93 1)" text-anchor="middle">15</text>
<text class="tl" transform="translate(234.7 37.7) rotate(-90) scale(0.93 1)" text-anchor="middle">15</text>
<text class="tt" x="275.7" y="27.8" text-anchor="middle" textLength="20.0" lengthAdjust="spacingAndGlyphs">Scale</text></g>
<g>
<line x1="64.3" y1="268.4" x2="130.2" y2="167.6" stroke="#505060" stroke-width="0.9" stroke-dasharray="3.2 2.2"/>
<path d="M89.3 235.1h0M89.5 235.5h0M89.4 236.0h0M89.6 230.1h0M96.6 221.1h0M96.5 224.1h0M96.7 221.8h0M96.7 223.3h0M93.4 222.0h0M93.3 224.4h0M93.5 220.2h0M93.6 223.5h0M78.5 234.9h0M78.8 234.9h0M78.6 240.1h0M78.9 235.8h0M80.7 238.4h0M80.7 241.4h0M80.8 242.2h0M80.8 241.6h0M96.0 219.1h0M96.2 216.8h0M96.0 215.3h0M95.9 214.2h0M73.0 245.4h0M72.8 238.9h0M72.7 236.7h0M72.8 242.8h0M94.5 224.2h0M94.6 228.0h0M94.6 227.9h0M94.6 224.4h0M94.0 230.2h0M94.1 229.1h0M94.0 229.6h0M94.1 229.7h0M85.3 227.7h0M85.1 225.8h0M85.2 230.1h0M85.1 232.7h0M80.9 228.7h0M80.8 228.6h0M80.8 227.4h0M80.7 229.7h0M80.1 223.1h0M80.1 226.2h0M80.2 225.9h0M80.1 230.9h0M79.4 239.9h0M79.6 239.9h0M79.6 239.2h0M79.4 239.1h0M84.7 233.6h0M84.6 230.4h0M84.6 236.5h0M84.6 234.4h0M86.1 228.6h0M86.2 233.6h0M86.2 227.9h0M86.3 229.0h0M87.6 228.5h0M87.5 225.7h0M87.7 229.7h0M87.5 228.1h0M99.4 223.7h0M99.5 226.2h0M99.4 224.1h0M99.6 224.3h0M93.9 218.9h0M93.8 219.1h0M94.0 222.9h0M93.9 222.7h0M89.3 235.3h0M89.1 232.4h0M89.4 234.6h0M89.4 233.4h0M99.3 219.3h0M99.3 216.3h0M99.4 218.8h0M99.2 217.3h0M78.5 249.7h0M78.4 240.9h0M78.4 242.2h0M78.5 241.9h0M77.0 235.5h0M76.8 237.6h0M77.0 238.2h0M76.9 235.8h0M89.0 229.4h0M89.1 230.8h0M89.1 231.0h0M88.9 233.6h0M73.7 245.0h0M74.0 245.1h0M73.7 245.4h0M73.9 244.5h0M73.7 247.2h0M73.7 245.7h0M73.5 240.3h0M73.6 246.0h0M86.5 233.0h0M86.5 227.8h0M86.4 228.6h0M86.4 232.4h0M85.3 233.8h0M85.3 236.5h0M85.2 237.8h0M85.1 236.1h0M97.3 221.4h0M97.3 223.5h0M97.3 221.9h0M97.1 223.6h0M89.5 235.5h0M89.5 237.7h0M89.4 233.1h0M89.6 236.8h0M86.5 237.8h0M86.4 236.8h0M86.5 237.6h0M86.3 232.4h0M86.0 236.2h0M86.0 238.4h0M86.0 236.9h0M86.1 239.8h0M79.2 221.6h0M73.2 249.5h0M73.0 247.5h0M72.9 252.4h0M73.0 250.6h0M77.7 227.5h0M77.7 222.9h0M78.1 230.3h0M77.8 231.5h0M91.3 236.6h0M91.3 233.1h0M91.4 238.5h0M91.3 236.8h0M78.2 235.2h0M77.9 238.8h0M77.9 233.8h0M78.2 235.0h0M82.7 236.8h0M82.6 235.6h0M82.6 238.5h0M82.6 238.1h0M72.7 243.2h0M72.9 242.9h0M72.8 242.9h0M72.8 243.2h0M95.0 221.4h0M95.0 219.5h0M95.0 222.3h0M95.0 220.4h0M76.7 229.7h0M76.8 229.5h0M77.0 232.8h0M76.7 232.2h0M79.8 233.3h0M79.9 232.9h0M79.9 239.6h0M79.9 235.7h0M86.4 233.3h0M86.3 230.0h0M86.4 232.8h0M86.6 234.2h0M95.5 226.6h0M95.5 225.6h0M95.3 224.7h0M95.3 228.6h0M89.7 228.8h0M89.8 229.5h0M89.7 229.0h0M89.8 231.5h0M92.5 232.6h0M92.5 231.5h0M92.4 232.8h0M92.4 229.6h0M75.2 240.2h0M75.1 243.2h0M75.2 243.7h0M75.2 240.0h0M87.1 229.7h0M87.2 227.5h0M87.0 223.6h0M87.4 224.3h0M86.4 232.5h0M86.3 235.2h0M86.2 238.9h0M86.3 236.6h0M95.9 225.2h0M96.0 228.1h0M96.1 225.1h0M96.0 226.5h0M82.3 235.2h0M82.4 229.6h0M82.2 232.3h0M82.4 233.2h0M88.7 231.8h0M88.6 231.1h0M88.7 227.8h0M88.6 231.9h0M74.4 244.8h0M74.2 248.4h0M74.4 247.4h0M74.1 242.4h0M83.1 233.1h0M82.9 236.4h0M82.9 235.8h0M83.1 232.6h0M81.4 240.8h0M81.2 238.5h0M81.4 238.1h0M81.2 237.1h0M76.7 236.7h0M76.7 237.1h0M76.7 240.2h0M76.5 237.9h0M94.7 224.1h0M94.6 225.4h0M94.5 226.5h0M94.5 222.6h0M82.7 226.9h0M82.7 222.0h0M82.9 225.0h0M82.8 223.8h0M98.8 223.1h0M98.9 220.7h0M99.1 221.4h0M98.9 221.7h0M88.4 231.1h0M88.6 231.3h0M88.5 228.4h0M88.5 229.8h0M88.8 232.6h0M88.7 233.7h0M88.8 231.8h0M88.8 232.4h0M89.8 225.5h0M89.8 224.2h0M89.8 228.3h0M89.8 223.2h0M90.8 231.3h0M90.7 233.1h0M90.6 232.9h0M90.8 233.0h0M76.6 243.2h0M76.6 242.5h0M76.7 247.3h0M76.6 240.8h0M84.4 226.3h0M84.5 222.3h0M84.5 224.4h0M84.4 223.4h0M79.1 231.0h0M79.1 232.5h0M79.0 232.8h0M79.1 235.2h0M83.6 236.7h0M83.4 234.6h0M83.6 231.1h0M83.6 239.4h0M75.4 249.6h0M75.2 245.7h0M75.4 252.3h0M75.3 249.8h0M98.6 225.9h0M98.6 226.6h0M98.7 228.9h0M98.6 226.5h0M78.4 236.6h0M78.5 239.5h0M78.4 240.3h0M78.3 240.0h0M80.8 223.4h0M80.8 230.7h0M80.9 235.3h0M80.6 229.6h0M96.1 220.5h0M96.1 222.8h0M96.0 222.1h0M96.0 224.5h0M90.5 222.6h0M90.4 226.8h0M90.4 224.9h0M90.5 226.8h0M76.3 235.2h0M76.3 228.9h0M76.1 238.5h0M76.2 235.0h0M95.4 228.6h0M95.3 228.8h0M95.3 227.8h0M95.4 227.6h0M98.2 215.4h0M96.8 227.7h0M96.9 227.2h0M97.0 224.5h0M96.9 225.9h0M87.9 222.7h0M88.0 223.5h0M87.8 219.2h0M87.9 224.7h0M76.5 246.0h0M76.8 245.9h0M76.6 246.8h0M76.5 244.7h0M77.7 247.8h0M77.8 247.3h0M77.7 240.1h0M77.7 242.0h0M97.5 228.0h0M97.6 230.1h0M97.5 227.1h0M97.5 228.7h0M87.3 239.1h0M87.4 236.1h0M87.5 240.0h0M87.5 238.3h0M77.6 223.3h0M77.4 230.0h0M77.6 226.1h0M77.5 221.7h0M96.4 227.9h0M96.2 229.8h0M96.3 228.3h0M96.4 227.4h0M90.0 231.5h0M89.9 231.4h0M89.9 226.8h0M89.8 229.8h0M87.9 232.2h0M87.9 228.1h0M88.0 230.6h0M88.0 230.8h0M82.7 236.8h0M82.7 236.8h0M82.8 233.6h0M82.8 234.3h0M83.6 231.1h0M83.8 231.1h0M83.7 234.8h0M83.7 232.1h0M79.2 233.6h0M79.2 236.8h0M79.1 230.7h0M79.1 237.7h0M73.6 245.9h0M73.6 241.1h0M73.5 242.9h0M73.8 244.6h0M96.0 234.4h0M96.2 231.9h0M96.1 231.2h0M96.1 231.1h0M85.2 236.7h0M85.2 237.6h0M85.3 236.8h0M85.4 235.3h0M87.4 236.6h0M87.4 232.0h0M87.3 231.5h0M87.4 230.6h0M81.3 237.8h0M81.3 234.7h0M81.3 234.8h0M81.3 238.6h0M92.8 225.9h0M92.9 222.1h0M92.8 226.8h0M92.7 226.1h0M73.4 238.7h0M73.2 240.4h0M73.3 247.7h0M73.5 240.9h0M82.4 237.1h0M82.6 237.5h0M82.7 234.1h0M82.5 235.1h0M73.7 246.7h0M73.2 244.0h0M73.6 247.3h0M73.6 245.9h0M76.0 235.9h0M75.9 235.7h0M76.0 238.7h0M75.9 237.4h0M98.7 214.6h0M98.5 217.4h0M98.6 215.7h0M98.7 213.6h0M90.2 233.1h0M90.3 231.5h0M90.3 232.6h0M90.2 231.4h0M86.6 225.7h0M86.6 222.0h0M86.7 226.9h0M86.6 226.1h0M96.2 215.7h0M96.0 217.4h0M96.2 219.8h0M96.1 216.6h0M82.0 233.9h0M81.8 232.1h0M81.8 235.8h0M81.8 231.8h0M88.5 223.1h0M88.6 223.0h0M88.7 220.7h0M88.6 224.2h0M91.0 222.8h0M91.0 225.8h0M91.0 228.7h0M91.0 227.5h0M82.3 229.5h0M82.3 233.0h0M82.1 233.5h0M82.1 233.6h0M86.7 233.2h0M86.6 229.2h0M86.6 232.4h0M86.7 228.8h0M93.2 232.5h0M93.2 235.2h0M93.1 228.1h0M93.0 231.1h0M76.8 241.8h0M76.7 243.5h0M76.7 243.4h0M76.5 244.5h0M97.7 216.7h0M97.6 220.4h0M97.7 220.8h0M97.7 220.5h0M72.8 244.9h0M73.0 246.9h0M72.8 243.9h0M72.8 245.9h0M92.9 226.7h0M92.8 227.9h0M93.0 227.4h0M93.0 225.8h0M94.3 222.7h0M94.5 223.1h0M94.5 222.5h0M94.5 221.3h0M76.4 242.8h0M76.2 238.4h0M76.2 238.6h0M76.5 239.1h0M83.9 238.0h0M83.8 235.8h0M83.9 232.5h0M83.9 235.2h0M94.4 216.2h0M94.6 215.6h0M73.0 230.6h0M73.0 231.0h0M73.1 229.1h0M73.1 227.9h0M89.3 225.7h0M89.5 228.1h0M89.4 225.3h0M89.4 225.8h0M86.4 232.0h0M86.6 230.8h0M86.3 233.7h0M86.3 229.1h0M92.2 223.7h0M92.2 230.6h0M92.2 225.1h0M92.0 228.1h0M78.8 235.6h0M78.7 240.7h0M78.6 239.1h0M78.7 238.7h0M78.0 240.6h0M78.0 240.8h0M78.0 236.5h0M78.0 237.9h0M82.5 227.0h0M82.4 225.0h0M82.5 229.3h0M82.3 226.0h0M77.3 239.3h0M77.5 239.7h0M77.3 241.7h0M77.4 238.4h0M81.9 221.8h0M81.9 223.6h0M82.1 222.1h0M97.9 233.1h0M98.2 230.5h0M98.3 230.3h0M98.1 230.1h0M88.0 233.4h0M88.1 231.5h0M88.2 230.8h0M87.9 236.4h0M81.8 239.5h0M81.8 240.2h0M81.8 236.3h0M81.8 237.3h0M80.0 240.9h0M79.9 243.0h0M79.9 241.7h0M79.9 237.9h0M98.1 219.3h0M98.2 218.0h0M98.2 219.9h0M98.1 221.9h0M84.7 235.9h0M84.6 235.7h0M84.4 236.0h0M84.7 238.3h0M98.9 218.3h0M99.0 217.2h0M99.0 216.5h0M99.0 216.6h0M86.5 233.0h0M86.4 230.5h0M86.5 229.4h0M86.7 233.9h0M86.4 236.4h0M86.6 234.0h0M86.7 238.5h0M86.5 234.3h0M96.6 223.0h0M96.9 225.4h0M96.7 224.7h0M96.9 224.1h0M92.6 219.1h0M92.6 220.0h0M92.6 219.7h0M92.6 218.6h0M88.3 229.6h0M88.3 230.3h0M88.2 231.0h0M88.3 231.3h0M84.2 220.9h0M84.2 227.7h0M84.0 225.9h0M84.0 221.8h0M96.3 219.1h0M96.2 216.5h0M96.2 216.1h0M96.1 219.6h0M83.7 237.5h0M83.7 237.6h0M83.8 236.9h0M83.7 235.9h0M97.6 224.3h0M97.4 222.8h0M97.7 224.1h0M97.5 222.4h0M74.5 231.4h0M74.4 235.9h0M74.2 233.0h0M74.5 233.7h0M84.2 236.4h0M84.4 227.8h0M84.1 232.8h0M84.4 232.7h0M86.6 231.5h0M86.7 232.1h0M86.4 229.6h0M86.6 230.6h0M98.2 214.0h0M79.5 231.6h0M79.5 231.1h0M79.4 230.7h0M79.5 226.8h0M94.4 223.3h0M94.3 221.5h0M94.2 223.0h0M94.2 219.2h0M90.9 227.7h0M90.9 223.2h0M90.8 228.5h0M90.8 224.9h0M91.9 224.9h0M91.9 224.3h0M91.9 223.7h0M91.8 228.6h0M89.8 227.7h0M89.6 228.3h0M89.5 229.0h0M89.4 227.1h0M98.7 216.0h0M98.8 215.2h0M98.8 212.9h0M81.6 243.4h0M81.6 244.9h0M81.5 242.2h0M81.7 240.6h0M83.4 235.1h0M83.6 232.2h0M83.3 230.1h0M83.3 229.8h0M78.2 241.2h0M78.1 237.2h0M78.0 237.6h0M78.0 242.1h0M74.0 243.8h0M74.0 240.7h0M74.0 244.5h0M74.1 241.8h0M78.5 237.5h0M78.4 239.5h0M78.4 239.6h0M78.3 240.8h0M97.3 213.7h0M95.2 222.5h0M95.1 223.7h0M95.1 222.1h0M95.3 221.9h0M75.7 239.4h0M75.8 238.9h0M75.7 242.7h0M75.8 240.9h0M89.0 230.1h0M89.0 232.2h0M88.8 231.3h0M88.8 228.0h0M85.5 225.6h0M85.4 230.7h0M85.6 225.1h0M85.6 226.2h0M88.6 226.8h0M88.8 228.1h0M88.6 226.3h0M88.6 224.6h0M90.3 232.0h0M90.3 232.1h0M90.4 230.2h0M90.3 233.4h0M81.0 241.4h0M80.9 238.5h0M80.9 239.2h0M80.9 239.5h0M98.3 229.9h0M98.4 230.8h0M98.4 231.4h0M85.2 236.5h0M85.3 234.7h0M85.2 233.0h0M85.2 231.2h0M89.5 228.1h0M89.5 229.0h0M89.6 228.1h0M89.6 226.9h0M89.6 227.1h0M89.7 227.8h0M90.0 225.7h0M89.7 228.5h0M77.6 243.4h0M77.5 247.4h0M77.4 246.5h0M77.7 244.8h0M74.3 238.9h0M74.3 243.0h0M74.5 238.2h0M74.6 240.0h0M83.6 232.6h0M83.8 233.3h0M83.8 231.4h0M83.7 235.3h0M93.2 228.0h0M93.2 227.0h0M93.3 225.7h0M93.2 226.1h0M94.6 223.2h0M94.6 222.0h0M94.6 227.7h0M94.6 224.0h0M92.3 229.3h0M92.4 226.3h0M92.3 227.9h0M92.2 226.8h0M75.6 250.4h0M75.6 251.5h0M75.7 252.3h0M97.2 225.0h0M97.0 222.2h0M97.2 223.6h0M97.2 225.2h0M94.2 228.4h0M94.1 222.7h0M94.3 226.2h0M94.1 228.1h0M96.1 221.3h0M96.1 222.7h0M96.2 223.1h0M96.3 221.6h0M86.8 234.3h0M86.7 229.3h0M86.6 232.4h0M86.6 234.5h0M97.1 219.8h0M97.2 217.9h0M97.1 218.0h0M97.2 217.3h0M74.0 246.8h0M73.9 245.0h0M73.9 245.0h0M73.8 239.8h0M73.3 249.3h0M73.4 245.8h0M73.6 245.7h0M73.6 250.8h0M73.2 244.3h0M73.3 243.9h0M73.2 245.0h0M73.3 242.4h0M79.5 236.0h0M79.4 234.1h0M79.5 237.1h0M79.4 237.3h0M79.2 233.2h0M79.2 240.3h0M79.3 237.3h0M79.3 235.9h0M77.7 252.0h0M77.6 249.8h0M77.8 252.2h0M77.6 249.2h0M87.8 227.8h0M88.0 232.0h0M88.0 230.2h0M87.9 231.3h0M73.5 249.7h0M73.6 246.4h0M73.8 249.9h0M73.7 245.9h0M88.6 230.1h0M88.4 229.3h0M88.6 230.6h0M88.4 233.9h0M77.2 234.4h0M77.1 238.7h0M77.2 237.5h0M77.0 234.2h0M90.7 225.8h0M90.7 223.5h0M90.8 225.8h0M90.7 227.1h0M73.3 234.3h0M73.3 231.3h0M73.2 233.2h0M73.1 230.5h0M81.0 235.4h0M80.9 240.0h0M81.1 237.9h0M81.0 239.7h0M97.9 215.3h0M97.8 216.1h0M97.8 214.7h0M87.0 224.9h0M87.1 223.2h0M87.1 220.1h0M87.0 223.2h0M94.4 234.3h0M94.6 230.7h0M94.3 228.9h0M94.3 233.4h0M90.3 226.1h0M90.2 223.8h0M90.3 225.3h0M90.4 223.4h0M89.2 230.3h0M88.9 226.4h0M89.0 233.5h0M89.0 231.8h0M77.8 243.2h0M77.8 237.8h0M77.8 240.8h0M77.9 243.8h0M88.0 225.6h0M88.1 226.9h0M88.1 228.1h0M88.1 227.5h0M73.7 245.3h0M73.8 241.2h0M73.7 246.9h0M73.7 242.4h0M94.2 220.8h0M94.1 219.9h0M94.1 220.1h0M94.1 219.3h0M98.4 220.6h0M98.3 219.5h0M98.3 217.3h0M98.4 217.5h0M95.6 229.0h0M95.4 232.6h0M95.7 229.0h0M95.6 233.0h0M74.0 249.7h0M74.0 253.0h0M82.0 238.8h0M81.6 240.7h0M81.7 239.0h0M81.8 237.6h0M81.1 232.6h0M81.2 238.1h0M81.2 241.2h0M81.4 237.6h0M75.6 230.4h0M75.7 230.6h0M75.7 228.5h0M75.7 226.1h0M89.4 226.7h0M89.5 227.8h0M89.5 227.6h0M89.5 225.7h0M94.2 222.3h0M94.1 222.3h0M94.1 220.2h0M94.1 222.3h0M81.0 233.1h0M81.1 236.1h0M81.1 238.7h0M81.0 239.7h0M95.8 228.4h0M95.7 228.4h0M96.0 223.9h0M96.0 222.1h0M94.0 220.6h0M94.1 223.8h0M94.0 222.8h0M94.2 225.5h0M76.2 238.2h0M76.1 239.8h0M76.1 243.6h0M76.1 239.2h0M93.1 222.5h0M93.3 227.5h0M93.2 223.4h0M93.3 224.6h0M117.5 197.7h0M117.6 197.0h0M117.5 195.0h0M117.6 194.5h0M103.6 212.4h0M103.5 209.2h0M103.5 206.2h0M111.2 215.9h0M111.3 217.5h0M111.0 217.3h0M111.2 212.8h0M112.4 197.8h0M112.6 200.3h0M112.3 200.1h0M112.4 201.6h0M111.7 198.0h0M112.1 197.0h0M111.8 197.9h0M101.4 213.0h0M101.3 214.0h0M101.4 211.1h0M101.5 213.5h0M112.9 196.9h0M113.0 197.8h0M112.9 201.2h0M113.0 196.7h0M112.3 214.0h0M112.4 210.3h0M112.5 214.9h0M112.4 216.5h0M116.3 202.2h0M116.2 202.0h0M116.2 203.9h0M116.4 203.3h0M115.7 206.0h0M115.8 207.6h0M115.8 206.8h0M115.8 207.2h0M106.3 214.2h0M105.9 212.5h0M106.2 215.6h0M106.2 214.8h0M114.1 200.8h0M114.1 203.3h0M114.2 201.1h0M114.3 200.6h0M117.1 206.0h0M117.0 204.3h0M117.2 207.4h0M117.3 202.4h0M117.6 202.0h0M117.5 202.0h0M117.8 204.3h0M117.7 203.1h0M100.2 220.5h0M100.2 215.5h0M99.8 222.1h0M99.9 220.6h0M112.9 204.4h0M112.7 206.7h0M112.6 204.1h0M112.7 205.7h0M103.8 220.2h0M103.9 222.2h0M103.8 220.9h0M103.8 220.7h0M110.9 211.0h0M111.0 210.0h0M110.9 205.6h0M110.9 209.9h0M107.3 217.9h0M107.3 223.1h0M107.3 220.1h0M107.3 218.7h0M104.8 221.9h0M104.8 222.2h0M104.6 227.1h0M104.6 221.5h0M108.9 209.3h0M108.8 215.7h0M108.8 213.6h0M108.6 211.4h0M112.7 195.2h0M112.9 198.9h0M113.0 197.8h0M107.3 209.5h0M107.2 210.9h0M107.2 216.1h0M107.0 210.2h0M102.1 218.1h0M102.0 220.2h0M102.3 218.7h0M102.2 213.8h0M113.1 209.5h0M113.0 212.0h0M112.9 207.4h0M113.0 208.3h0M116.4 195.2h0M116.5 192.6h0M116.4 193.0h0M116.3 194.6h0M107.2 217.2h0M107.2 216.9h0M107.1 214.5h0M107.2 217.1h0M110.5 198.5h0M110.4 199.9h0M110.3 204.0h0M110.5 200.7h0M103.9 216.6h0M103.8 216.1h0M103.8 212.7h0M103.8 213.5h0M104.6 211.6h0M104.4 211.5h0M104.5 211.0h0M104.7 212.1h0M106.2 207.2h0M106.3 206.5h0M106.2 208.0h0M106.1 208.7h0M108.8 207.1h0M108.8 204.9h0M108.7 201.0h0M108.8 202.8h0M101.3 221.5h0M101.3 219.8h0M101.0 224.4h0M101.1 221.4h0M114.7 194.2h0M114.9 196.6h0M114.9 193.9h0M114.9 194.3h0M111.2 209.6h0M111.2 210.0h0M111.3 208.0h0M111.3 211.8h0M105.5 213.6h0M105.6 215.0h0M105.7 219.1h0M105.6 215.3h0M101.0 215.6h0M100.9 218.2h0M101.0 215.8h0M101.1 218.5h0M115.0 203.2h0M115.0 203.2h0M115.0 207.2h0M115.1 205.8h0M102.2 220.3h0M102.2 218.8h0M102.1 220.3h0M102.1 220.0h0M102.3 218.2h0M102.2 221.6h0M102.3 222.2h0M102.1 220.7h0M105.0 213.3h0M105.0 214.0h0M105.0 207.6h0M105.0 208.0h0M105.7 204.6h0M116.4 207.7h0M116.5 207.0h0M116.2 208.8h0M116.4 208.8h0M112.3 207.9h0M112.1 205.9h0M112.0 207.1h0M112.1 209.0h0M103.4 216.9h0M103.3 213.6h0M103.4 215.3h0M103.3 214.1h0M108.3 217.8h0M108.6 211.6h0M108.4 215.0h0M108.3 212.8h0M117.4 205.9h0M117.5 203.6h0M117.5 207.0h0M117.6 208.6h0M107.1 213.0h0M107.0 211.0h0M107.2 210.7h0M107.1 211.0h0M113.9 206.1h0M113.8 206.0h0M113.9 203.6h0M113.9 204.7h0M101.5 223.5h0M101.3 224.1h0M101.5 224.1h0M101.5 223.9h0M114.2 199.9h0M114.2 202.3h0M114.2 202.4h0M114.4 198.5h0M115.1 203.7h0M115.3 205.3h0M115.1 203.4h0M115.3 207.5h0M116.4 194.9h0M116.2 196.8h0M116.3 197.4h0M116.2 192.9h0M113.4 208.2h0M113.3 206.1h0M113.3 204.6h0M113.1 202.3h0M106.9 212.5h0M107.1 211.6h0M107.0 213.3h0M107.0 215.2h0M100.8 218.7h0M100.7 216.7h0M100.9 220.2h0M100.8 217.1h0M110.1 211.0h0M110.0 208.7h0M110.1 211.1h0M110.0 209.7h0M115.0 208.3h0M115.0 207.1h0M115.0 208.6h0M115.0 206.2h0M103.4 215.2h0M103.1 219.2h0M103.5 217.2h0M103.3 219.4h0M104.9 209.4h0M104.8 206.6h0M104.9 210.1h0M110.5 207.1h0M110.5 204.5h0M110.3 207.8h0M110.3 205.0h0M114.6 194.6h0M114.9 194.3h0M117.7 208.9h0M117.8 207.5h0M117.9 209.0h0M117.6 210.6h0M102.2 220.0h0M102.0 219.4h0M102.2 221.5h0M102.0 217.6h0M103.1 221.6h0M103.3 219.2h0M103.3 220.6h0M103.4 219.1h0M115.9 203.6h0M115.8 206.3h0M115.7 203.9h0M115.7 202.2h0M112.6 209.9h0M112.5 211.7h0M112.6 211.0h0M112.4 205.3h0M114.2 209.3h0M114.2 210.1h0M114.4 204.5h0M114.2 206.9h0M119.7 192.6h0M119.8 190.9h0M119.7 192.0h0M119.7 193.9h0M118.4 200.3h0M118.8 203.0h0M118.7 196.3h0M118.5 199.5h0M116.7 213.2h0M116.7 213.4h0M116.7 211.0h0M116.7 214.7h0M115.2 196.2h0M115.3 197.4h0M115.3 198.1h0M115.4 202.0h0M107.5 206.2h0M107.4 205.3h0M107.6 205.8h0M107.4 204.0h0M112.7 208.7h0M112.6 206.9h0M112.6 205.2h0M112.7 208.4h0M115.0 208.0h0M115.1 211.2h0M115.1 208.9h0M115.2 208.7h0M114.9 199.2h0M114.9 200.2h0M115.0 196.7h0M114.9 200.2h0M114.2 207.9h0M114.1 204.9h0M114.3 204.3h0M114.1 207.8h0M108.6 213.8h0M108.4 213.3h0M108.7 214.2h0M108.4 213.4h0M107.3 210.9h0M107.0 209.8h0M107.1 210.9h0M107.3 210.2h0M108.0 214.5h0M108.0 214.9h0M108.0 217.0h0M107.8 213.7h0M100.2 216.8h0M100.2 217.1h0M100.1 218.0h0M100.2 217.1h0M116.6 202.5h0M116.6 202.5h0M116.7 199.5h0M116.6 201.7h0M110.8 208.6h0M110.4 208.8h0M110.6 206.8h0M110.6 209.9h0M107.2 214.1h0M107.2 216.2h0M107.4 217.4h0M107.3 215.6h0M113.9 203.5h0M114.2 203.7h0M114.1 202.2h0M114.2 202.6h0M107.3 223.5h0M116.5 201.8h0M116.3 202.5h0M116.4 201.3h0M116.4 196.0h0M118.2 197.6h0M118.1 196.4h0M118.3 197.8h0M118.2 196.4h0M107.4 210.4h0M107.3 211.3h0M107.5 211.2h0M107.4 210.3h0M102.0 218.0h0M102.2 218.8h0M102.3 214.6h0M102.4 216.5h0M114.9 202.2h0M114.9 205.6h0M114.9 204.6h0M115.0 207.5h0M119.7 200.1h0M119.7 203.1h0M119.6 202.8h0M119.8 198.3h0M102.5 216.1h0M102.3 216.2h0M102.6 217.6h0M102.4 219.7h0M114.0 210.5h0M114.0 209.7h0M114.1 206.5h0M114.1 205.1h0M116.2 209.7h0M116.3 211.5h0M116.2 209.4h0M116.5 211.7h0M118.3 193.6h0M102.1 218.4h0M102.0 216.0h0M102.0 218.8h0M102.0 213.8h0M101.4 211.5h0M101.5 209.5h0M119.6 202.9h0M119.6 204.3h0M119.8 200.0h0M119.7 200.7h0M101.8 215.5h0M101.7 212.2h0M101.9 216.3h0M101.9 215.5h0M103.1 216.2h0M103.0 214.3h0M103.0 215.2h0M103.0 214.4h0M111.2 204.8h0M111.3 201.5h0M111.3 204.7h0M111.1 206.1h0M108.6 207.7h0M108.6 205.5h0M108.5 208.0h0M108.6 208.8h0M115.0 201.9h0M114.8 204.5h0M114.9 201.8h0M114.7 202.1h0M103.4 220.8h0M103.2 216.1h0M103.4 220.8h0M103.5 217.6h0M118.3 208.5h0M118.2 208.0h0M118.2 206.9h0M118.1 208.3h0M115.2 206.5h0M115.1 208.1h0M115.0 206.7h0M115.1 207.7h0M100.7 216.9h0M100.7 218.3h0M101.0 219.3h0M100.8 219.3h0M100.3 213.6h0M105.7 208.0h0M105.8 210.7h0M105.9 206.2h0M105.9 209.3h0M105.8 216.1h0M105.8 215.5h0M105.9 212.0h0M106.0 211.8h0M108.8 207.3h0M108.7 210.3h0M108.7 205.8h0M108.9 206.9h0M100.6 213.6h0M100.6 215.4h0M100.7 215.8h0M100.8 214.7h0M97.8 223.2h0M98.0 218.2h0M97.8 220.1h0M97.8 221.1h0M90.2 224.4h0M90.2 225.5h0M90.4 222.4h0M90.1 225.2h0M92.2 230.8h0M91.9 231.1h0M92.0 234.6h0M92.1 232.4h0M100.5 216.9h0M100.4 216.5h0M100.2 216.8h0M100.4 214.7h0M87.4 229.8h0M87.8 229.8h0M87.5 228.1h0M87.5 229.2h0M85.0 233.7h0M85.1 233.0h0M85.0 236.2h0M85.2 230.2h0M80.6 247.6h0M80.7 243.5h0M80.5 245.5h0M80.6 240.6h0M89.1 237.4h0M88.9 239.5h0M88.8 234.6h0M89.0 235.4h0M97.5 224.1h0M97.5 223.1h0M97.7 222.9h0M97.5 222.5h0M94.5 227.4h0M94.4 231.5h0M94.6 230.1h0M94.6 229.0h0M83.0 233.4h0M83.0 236.6h0M83.0 238.5h0M83.1 235.9h0M83.7 235.8h0M83.4 238.2h0M83.7 236.0h0M83.5 241.0h0M85.6 227.2h0M85.5 228.7h0M85.9 230.9h0M85.7 230.5h0M90.5 226.9h0M90.4 224.3h0M90.6 228.2h0M90.3 228.8h0M87.5 224.1h0M87.7 228.2h0M87.4 228.7h0M87.5 223.8h0M90.1 234.0h0M89.9 232.9h0M90.0 233.0h0M90.1 231.1h0M90.5 228.3h0M90.5 229.2h0M90.4 229.2h0M90.5 227.7h0M86.9 224.0h0M87.1 227.3h0M87.0 227.7h0M86.9 233.9h0M88.2 232.0h0M88.5 231.2h0M88.5 230.9h0M88.4 234.5h0M89.8 226.4h0M89.8 228.7h0M90.0 230.0h0M89.8 229.2h0M88.2 224.2h0M88.2 225.7h0M88.3 222.2h0M88.2 226.1h0M91.7 230.4h0M91.7 229.5h0M91.9 228.4h0M91.8 230.2h0M99.9 215.6h0M99.8 220.9h0M99.8 215.0h0M100.0 215.4h0M92.2 232.0h0M92.3 228.9h0M92.3 226.4h0M92.3 227.9h0M89.1 228.4h0M89.1 225.7h0M89.0 221.3h0M89.0 227.7h0M78.8 234.0h0M78.5 235.3h0M78.6 234.1h0M78.7 235.4h0M91.0 236.4h0M91.0 233.9h0M90.9 234.1h0M91.1 237.2h0M77.1 238.6h0M77.2 244.9h0M77.1 241.7h0M77.1 239.8h0M80.2 230.9h0M80.3 232.4h0M80.2 232.4h0M80.3 234.5h0M92.9 216.7h0M92.8 217.6h0M92.9 220.5h0M92.8 219.6h0M87.8 228.1h0M87.8 230.7h0M87.8 231.0h0M87.9 225.2h0M78.4 238.7h0M78.5 232.8h0M78.3 235.2h0M78.5 235.4h0M86.4 242.6h0M86.4 241.5h0M86.5 243.0h0M86.5 242.7h0M84.5 232.8h0M84.5 231.4h0M84.6 231.2h0M84.7 229.9h0M92.6 226.0h0M92.6 226.3h0M92.6 229.3h0M92.6 227.1h0M102.2 211.6h0M102.1 214.1h0M102.1 209.6h0M102.2 209.6h0M90.0 233.0h0M90.0 231.9h0M90.0 231.9h0M90.0 235.7h0M84.1 234.4h0M84.1 235.3h0M84.1 233.8h0M84.1 234.0h0M81.6 234.3h0M81.6 234.5h0M81.7 231.4h0M81.7 234.1h0M88.6 217.2h0M88.3 217.6h0M87.5 241.0h0M82.0 225.9h0M81.9 226.2h0M81.9 225.5h0M81.9 226.3h0M89.4 235.0h0M89.5 233.0h0M89.4 235.1h0M89.4 238.3h0M81.8 232.0h0M81.9 233.5h0M81.8 228.9h0M81.9 233.0h0M95.2 217.6h0M95.5 221.5h0M95.6 223.1h0M95.5 222.2h0M95.0 225.8h0M95.0 223.4h0M95.1 220.4h0M95.0 224.0h0M95.3 233.0h0M95.3 232.2h0M95.3 230.6h0M85.7 241.0h0M85.9 236.0h0M85.8 236.9h0M85.7 243.2h0M91.7 224.6h0M91.8 224.3h0M91.9 221.8h0M91.6 223.1h0M88.0 231.7h0M88.1 230.6h0M88.0 232.7h0M88.0 231.0h0M86.4 235.9h0M86.3 234.1h0M86.4 237.4h0M86.4 233.9h0M81.1 236.5h0M80.8 233.5h0M80.8 236.5h0M80.9 234.6h0M80.0 229.4h0M80.1 231.5h0M80.0 228.7h0M80.2 229.0h0M93.6 225.4h0M93.5 227.5h0M93.4 230.1h0M93.5 229.9h0M87.6 223.2h0M87.5 219.8h0M87.6 218.1h0M87.6 217.0h0M90.0 217.1h0M90.2 215.1h0M90.1 216.5h0M89.9 218.9h0M94.7 224.9h0M94.6 224.0h0M94.8 222.5h0M94.6 226.8h0M78.4 241.8h0M78.4 239.2h0M78.4 238.5h0M78.3 243.7h0M83.9 238.7h0M84.2 235.0h0M84.0 239.1h0M84.1 238.5h0M89.8 224.5h0M89.8 226.3h0M89.9 229.4h0M89.8 226.7h0M91.2 236.6h0M91.1 235.8h0M86.4 234.5h0M86.4 237.4h0M86.5 235.2h0M86.6 238.3h0M94.7 218.7h0M94.9 217.5h0M94.8 217.3h0M95.0 218.4h0M89.9 227.6h0M90.0 232.1h0M89.9 231.1h0M90.0 231.1h0M81.5 235.2h0M81.4 235.2h0M81.4 238.4h0M81.3 238.2h0M83.2 235.6h0M83.2 236.3h0M83.1 233.6h0M83.2 234.9h0M93.3 225.0h0M93.4 226.6h0M93.4 225.4h0M93.5 223.0h0M91.5 223.1h0M91.5 224.2h0M91.5 224.2h0M91.6 223.3h0M77.3 243.2h0M77.2 245.1h0M77.2 238.9h0M77.5 243.2h0M96.6 224.9h0M96.8 227.3h0M96.9 222.7h0M96.8 226.4h0M92.2 227.9h0M92.3 228.8h0M92.4 228.3h0M92.4 230.4h0M86.5 223.8h0M86.4 224.0h0M86.3 224.9h0M86.4 222.9h0M87.1 232.1h0M87.0 233.9h0M87.0 229.4h0M87.2 236.2h0M81.9 235.6h0M82.0 235.3h0M81.9 236.5h0M82.0 236.4h0M103.9 225.2h0M104.0 226.0h0M103.8 226.8h0M103.9 224.5h0M87.5 230.8h0M87.7 230.6h0M87.6 228.2h0M87.7 230.3h0M98.1 226.0h0M98.2 226.2h0M98.3 225.5h0M98.2 225.8h0M84.9 232.4h0M84.9 235.6h0M84.8 236.1h0M84.7 235.5h0M89.8 226.3h0M89.7 224.4h0M89.8 225.3h0M89.5 227.0h0M78.5 243.8h0M78.5 247.3h0M78.6 248.7h0M78.8 246.2h0M86.5 234.9h0M86.4 235.8h0M86.4 237.6h0M86.5 233.2h0M94.6 223.7h0M94.6 226.1h0M94.6 218.5h0M94.4 221.9h0M81.2 233.3h0M81.3 229.7h0M81.2 233.1h0M81.2 226.5h0M95.1 224.7h0M95.1 226.3h0M95.2 224.0h0M95.1 224.5h0M90.6 222.3h0M90.4 226.2h0M90.7 224.5h0M90.5 223.3h0M82.3 237.1h0M82.5 236.4h0M82.5 238.6h0M82.3 235.2h0M85.8 231.2h0M85.7 228.6h0M85.6 227.3h0M85.8 229.3h0M85.8 233.2h0M85.8 233.6h0M85.8 233.3h0M85.8 233.3h0M88.5 227.8h0M88.3 229.7h0M88.3 227.3h0M88.3 229.6h0M85.5 225.3h0M85.5 227.3h0M85.6 226.0h0M85.4 230.9h0M83.6 231.4h0M83.7 228.9h0M83.8 230.6h0M83.7 230.8h0M86.9 227.9h0M87.1 223.6h0M86.8 227.7h0M86.9 226.2h0M82.7 241.0h0M82.5 239.0h0M82.5 237.2h0M82.4 239.0h0M81.0 236.4h0M81.0 235.6h0M81.0 236.9h0M81.0 234.1h0M88.5 240.4h0M88.3 241.0h0M94.0 225.0h0M94.1 221.0h0M94.0 224.6h0M93.9 224.6h0M79.5 245.7h0M79.4 246.4h0M79.5 245.7h0M79.5 249.7h0M88.8 228.3h0M88.6 227.3h0M88.7 228.5h0M88.6 232.2h0M84.7 232.5h0M84.9 234.3h0M84.8 236.8h0M84.9 234.2h0M82.7 236.7h0M82.9 229.9h0M82.7 233.6h0M82.8 229.2h0M85.7 233.8h0M85.6 232.0h0M85.6 237.0h0M85.7 234.4h0M84.1 238.6h0M84.1 238.0h0M84.1 240.7h0M84.0 240.9h0M90.9 224.0h0M91.0 227.0h0M91.0 222.9h0M91.1 227.8h0M87.3 228.9h0M87.3 225.3h0M87.4 225.0h0M87.3 221.2h0M84.2 225.0h0M84.3 230.8h0M84.3 229.3h0M84.2 228.5h0M92.2 227.5h0M92.1 227.8h0M92.3 225.0h0M92.2 225.8h0M87.8 226.6h0M87.7 225.8h0M87.8 226.0h0M87.8 228.0h0M88.3 225.3h0M88.3 228.0h0M88.3 226.7h0M88.5 222.5h0M82.2 234.9h0M82.1 236.1h0M82.2 240.3h0M82.1 238.4h0M88.0 242.4h0M88.0 236.3h0M88.0 233.3h0M88.2 234.8h0M94.4 222.2h0M94.4 221.1h0M94.4 223.0h0M94.5 221.0h0M83.3 233.4h0M83.4 238.3h0M83.4 236.8h0M83.3 240.8h0M88.5 227.8h0M88.5 229.6h0M88.5 228.6h0M88.4 229.7h0M78.4 238.5h0M78.4 240.7h0M78.3 240.1h0M78.6 243.2h0M92.5 230.0h0M92.5 226.6h0M92.6 225.7h0M92.4 228.8h0M82.1 246.5h0M82.1 244.9h0M82.1 243.7h0M82.2 246.3h0M77.9 240.3h0M78.0 243.8h0M78.0 243.4h0M78.0 237.5h0M88.4 221.7h0M88.3 227.4h0M88.5 225.2h0M88.3 224.2h0M95.3 228.5h0M95.5 228.9h0M95.4 233.5h0M95.3 229.9h0M79.6 223.8h0M79.7 224.3h0M79.4 228.7h0M79.6 225.0h0M82.1 232.5h0M82.2 231.8h0M82.1 234.1h0M82.3 235.5h0M84.3 225.9h0M84.2 226.0h0M84.2 228.0h0M84.1 227.2h0M81.9 241.3h0M82.0 237.6h0M82.0 242.2h0M81.8 241.1h0M115.9 209.9h0M116.0 208.1h0M116.0 209.1h0M116.1 210.1h0M111.6 208.2h0M111.7 207.8h0M111.6 208.5h0M111.7 205.9h0M112.0 204.1h0M112.1 204.3h0M111.9 203.6h0M112.0 205.5h0M116.6 204.3h0M116.5 206.1h0M116.7 204.9h0M116.7 205.2h0M111.7 198.7h0M111.8 199.2h0M111.9 200.7h0M112.0 201.9h0M116.2 203.3h0M116.2 201.4h0M116.0 204.9h0M116.1 203.7h0M111.1 205.5h0M111.1 208.6h0M111.1 208.8h0M111.1 210.9h0M110.4 206.4h0M110.4 207.3h0M110.2 209.5h0M110.1 211.3h0M108.2 207.5h0M107.9 202.7h0M108.1 206.5h0M108.2 205.1h0M121.2 199.6h0M121.3 202.1h0M121.2 200.1h0M121.3 200.8h0M113.5 195.2h0M113.6 199.3h0M113.5 196.1h0M113.4 197.5h0M115.6 200.5h0M115.4 198.3h0M115.4 201.3h0M115.7 201.4h0M114.4 203.8h0M114.4 202.4h0M114.5 201.1h0M114.4 201.8h0M114.9 206.3h0M115.3 203.0h0M115.1 202.7h0M115.1 202.8h0M114.7 199.2h0M114.7 197.3h0M114.7 197.2h0M114.8 201.5h0M110.8 202.7h0M110.7 207.3h0M110.9 204.0h0M110.8 204.8h0M109.0 209.2h0M109.0 203.2h0M108.9 208.0h0M108.8 206.3h0M111.0 203.5h0M110.8 201.4h0M110.8 204.3h0M110.9 205.4h0M109.7 203.9h0M109.8 211.0h0M109.9 210.2h0M109.8 209.2h0M117.3 194.8h0M117.3 197.2h0M117.3 197.0h0M117.1 196.9h0M117.6 199.5h0M117.4 202.5h0M117.4 203.8h0M117.5 200.8h0M111.1 216.1h0M111.2 211.9h0M111.2 216.6h0M110.9 215.3h0M109.6 200.0h0M109.7 198.5h0M113.3 202.5h0M113.2 205.0h0M113.2 204.9h0M113.4 208.7h0M119.7 204.6h0M119.5 207.3h0M119.6 201.8h0M119.6 204.3h0M104.3 217.5h0M104.4 213.2h0M104.6 215.5h0M104.7 216.0h0M116.5 206.9h0M116.6 208.9h0M116.4 205.0h0M116.4 202.7h0M118.3 197.2h0M118.3 199.6h0M118.1 202.9h0M118.5 200.8h0M73.5 230.3h0M72.9 228.3h0M73.2 231.8h0M72.8 241.1h0M72.3 248.9h0M73.2 248.2h0M73.1 225.9h0M72.8 239.9h0M72.9 229.0h0M73.1 258.4h0M72.8 250.5h0M73.1 235.2h0M72.9 229.3h0M72.1 250.1h0M72.9 238.9h0M72.8 250.3h0M72.7 262.2h0M73.2 253.0h0M72.8 238.2h0M73.2 247.3h0M73.4 243.9h0M73.1 234.7h0M72.4 248.2h0M72.7 262.3h0M73.3 259.4h0M72.9 258.6h0M72.7 224.7h0M73.0 242.4h0M73.2 251.3h0M73.1 244.2h0M73.2 241.4h0M72.7 262.1h0M72.9 258.6h0M72.9 257.8h0M73.0 241.3h0M72.2 226.2h0M72.9 233.2h0M72.5 238.9h0M73.5 255.0h0M73.6 251.3h0M73.6 257.9h0M73.3 227.0h0M72.8 248.7h0M73.4 255.2h0M72.9 225.0h0M73.2 258.6h0M72.7 233.7h0M72.8 257.1h0M73.2 260.6h0M73.7 247.5h0M73.0 251.9h0M73.9 227.4h0M74.0 237.2h0M72.5 236.1h0M73.0 234.8h0M72.6 248.1h0M73.0 253.3h0M72.8 231.3h0M73.0 262.0h0M73.4 230.8h0M73.4 245.7h0M73.1 239.3h0M73.0 226.8h0M73.1 239.7h0M73.1 230.0h0M73.2 229.8h0M73.0 250.9h0M73.2 254.7h0M72.5 265.0h0M73.3 246.2h0M73.7 263.5h0M73.1 256.0h0M72.5 252.4h0M73.5 225.0h0M72.9 245.8h0M71.9 258.8h0M72.9 228.0h0M73.2 237.4h0M73.2 248.0h0M73.5 243.4h0M73.2 246.5h0M73.1 223.0h0M72.3 237.8h0M72.6 238.5h0M73.1 250.8h0M73.3 262.3h0M72.6 236.2h0M72.8 262.5h0M73.2 256.4h0M72.3 261.2h0M72.3 240.8h0M72.9 262.7h0M73.1 225.7h0M72.8 234.4h0M72.1 251.5h0M73.0 237.3h0M72.5 226.2h0M73.3 231.9h0M73.0 245.9h0M73.1 247.2h0M73.3 237.0h0M72.8 226.8h0M73.3 248.2h0M73.5 245.5h0M73.2 220.7h0M73.5 239.0h0M72.8 241.0h0M73.4 254.5h0M73.1 252.1h0M72.6 258.1h0M73.0 224.5h0M72.8 249.2h0M72.8 250.8h0M73.0 239.6h0M73.4 221.5h0M72.9 233.0h0M73.1 236.3h0M72.5 248.8h0M73.0 241.9h0M73.4 240.7h0M79.0 236.2h0M79.1 247.8h0M79.1 239.9h0M79.2 247.3h0M78.7 242.9h0M79.1 241.1h0M79.0 250.0h0M78.9 237.7h0M79.1 246.1h0M78.7 247.9h0M79.5 247.6h0M79.2 234.5h0M79.6 233.9h0M78.9 245.3h0M78.8 244.7h0M79.2 239.5h0M78.6 251.8h0M79.2 238.3h0M78.9 250.8h0M79.0 250.3h0M79.2 246.1h0M79.1 243.8h0M79.6 251.5h0M79.3 247.1h0M78.7 233.5h0M79.4 237.6h0M81.0 246.5h0M81.3 235.9h0M81.0 239.1h0M81.1 233.1h0M81.6 243.5h0M81.1 241.5h0M81.1 236.8h0M81.1 241.9h0M81.2 244.7h0M81.6 239.9h0M81.0 239.0h0M81.0 242.8h0M81.4 232.7h0M80.9 233.5h0M81.2 236.2h0M81.5 236.8h0M81.3 243.0h0M81.2 237.0h0M81.1 246.0h0M81.1 244.2h0M75.5 245.0h0M75.8 250.3h0M76.2 250.8h0M76.1 244.0h0M75.6 234.8h0M75.5 252.7h0M76.0 245.6h0M75.1 252.5h0M75.6 243.5h0M75.6 242.6h0M75.4 245.5h0M75.4 252.5h0M75.9 241.7h0M75.2 245.9h0M75.4 243.9h0M75.5 241.3h0M75.8 237.1h0M75.3 245.0h0M76.1 238.1h0M75.6 250.9h0M75.7 245.6h0M75.6 250.0h0M91.7 236.7h0M91.9 240.3h0M91.5 243.5h0M91.7 243.4h0M91.9 245.9h0M91.8 248.9h0M91.8 248.3h0M129.2 188.4h0M129.4 191.4h0M126.3 192.0h0M116.7 194.3h0M117.7 196.3h0M115.8 197.9h0M118.4 194.6h0M117.0 198.2h0M119.9 196.5h0M123.9 199.1h0M123.0 196.8h0" stroke="#0000f4" stroke-width="1.4" stroke-linecap="round" fill="none"/>
<line x1="64.3" y1="250.6" x2="129.9" y2="193.1" stroke="#f01430" stroke-width="1.55" stroke-opacity="0.88"/>
<rect class="ax" x="63.5" y="163.5" width="69" height="107"/>
<path class="ax" d="M68.3 270.5v4M63.5 262.5h-4M80.3 270.5v4M63.5 244.1h-4M92.3 270.5v4M63.5 225.7h-4M104.3 270.5v4M63.5 207.3h-4M116.3 270.5v4M63.5 188.9h-4M128.2 270.5v4M63.5 170.5h-4"/>
<text class="tl" transform="translate(67.6 283.0) scale(0.93 1)" text-anchor="middle">-10</text>
<text class="tl" transform="translate(57.0 262.8) rotate(-90) scale(0.93 1)" text-anchor="middle">-10</text>
<text class="tl" transform="translate(79.6 283.0) scale(0.93 1)" text-anchor="middle">-5</text>
<text class="tl" transform="translate(57.0 244.4) rotate(-90) scale(0.93 1)" text-anchor="middle">-5</text>
<text class="tl" transform="translate(91.6 283.0) scale(0.93 1)" text-anchor="middle">0</text>
<text class="tl" transform="translate(57.0 226.0) rotate(-90) scale(0.93 1)" text-anchor="middle">0</text>
<text class="tl" transform="translate(103.6 283.0) scale(0.93 1)" text-anchor="middle">5</text>
<text class="tl" transform="translate(57.0 207.6) rotate(-90) scale(0.93 1)" text-anchor="middle">5</text>
<text class="tl" transform="translate(115.6 283.0) scale(0.93 1)" text-anchor="middle">10</text>
<text class="tl" transform="translate(57.0 189.2) rotate(-90) scale(0.93 1)" text-anchor="middle">10</text>
<text class="tl" transform="translate(127.5 283.0) scale(0.93 1)" text-anchor="middle">15</text>
<text class="tl" transform="translate(57.0 170.8) rotate(-90) scale(0.93 1)" text-anchor="middle">15</text>
<text class="tt" x="98.0" y="160.6" text-anchor="middle" textLength="14.8" lengthAdjust="spacingAndGlyphs">VSN</text></g>
<g>
<line x1="154.6" y1="266.3" x2="219.2" y2="167.6" stroke="#505060" stroke-width="0.9" stroke-dasharray="3.2 2.2"/>
<path d="M179.1 232.9h0M179.3 234.5h0M179.2 236.9h0M179.5 231.2h0M186.3 220.1h0M186.2 221.0h0M186.5 221.1h0M186.4 219.7h0M183.2 219.6h0M183.0 222.0h0M183.3 217.4h0M183.4 221.4h0M168.6 233.8h0M168.9 233.6h0M168.7 239.2h0M169.0 234.4h0M170.8 239.2h0M170.7 240.5h0M170.8 243.4h0M170.8 239.9h0M185.8 217.5h0M185.9 216.1h0M185.8 213.8h0M185.7 213.9h0M163.2 244.5h0M162.9 239.3h0M162.9 235.9h0M163.0 243.4h0M184.3 224.8h0M184.3 226.9h0M184.4 224.7h0M184.4 223.8h0M183.8 228.2h0M183.9 228.6h0M183.8 228.7h0M183.9 227.7h0M175.2 226.7h0M175.0 223.7h0M175.2 229.6h0M175.1 231.3h0M170.9 227.1h0M170.8 227.2h0M170.8 227.8h0M170.7 228.1h0M170.2 221.9h0M170.1 225.6h0M170.2 224.8h0M170.1 230.6h0M169.5 240.6h0M169.6 241.2h0M169.6 239.0h0M169.5 237.4h0M174.7 234.6h0M174.5 229.3h0M174.5 233.9h0M174.6 234.1h0M176.0 228.4h0M176.1 230.8h0M176.1 227.5h0M176.3 227.5h0M177.5 229.2h0M177.4 223.4h0M177.5 228.6h0M177.4 228.5h0M189.1 223.0h0M189.1 223.3h0M189.1 221.8h0M189.3 222.5h0M183.7 217.5h0M183.6 215.8h0M183.8 221.3h0M183.7 218.7h0M179.2 234.6h0M178.9 229.4h0M179.3 231.3h0M179.3 233.2h0M188.9 216.1h0M189.0 212.3h0M189.0 214.4h0M188.9 215.0h0M168.6 248.3h0M168.4 242.2h0M168.5 242.6h0M168.6 240.0h0M167.1 236.2h0M166.9 239.5h0M167.1 237.3h0M167.0 235.4h0M178.9 230.3h0M179.0 229.9h0M178.9 229.1h0M178.8 231.7h0M163.9 244.5h0M164.2 246.0h0M163.8 246.1h0M164.0 242.3h0M163.8 248.5h0M163.8 246.1h0M163.7 240.1h0M163.7 245.2h0M176.4 232.5h0M176.5 227.2h0M176.3 228.5h0M176.3 230.9h0M175.2 234.3h0M175.2 237.2h0M175.1 237.2h0M175.0 235.3h0M187.0 220.3h0M187.0 220.7h0M187.0 221.2h0M186.9 221.7h0M179.4 236.8h0M179.4 234.6h0M179.3 232.4h0M179.4 236.1h0M176.4 236.6h0M176.3 239.5h0M176.4 234.5h0M176.2 232.8h0M175.9 236.3h0M175.9 238.7h0M175.9 235.4h0M176.0 240.2h0M169.2 221.6h0M163.3 251.4h0M163.2 248.5h0M163.1 252.5h0M163.2 249.2h0M167.8 229.0h0M167.8 221.8h0M168.1 229.6h0M167.9 230.6h0M181.1 236.0h0M181.1 231.3h0M181.2 236.8h0M181.1 235.9h0M168.2 235.0h0M168.0 240.5h0M168.0 234.6h0M168.2 233.9h0M172.7 235.8h0M172.6 235.8h0M172.6 236.7h0M172.6 238.0h0M162.9 242.5h0M163.1 241.6h0M163.0 242.1h0M163.0 242.0h0M184.7 219.4h0M184.8 217.7h0M184.7 223.1h0M184.7 217.4h0M166.8 229.5h0M166.9 228.5h0M167.1 230.3h0M166.8 232.6h0M169.9 234.1h0M170.0 230.3h0M170.0 239.6h0M169.9 236.9h0M176.3 233.5h0M176.2 227.5h0M176.3 231.2h0M176.5 233.1h0M185.2 224.1h0M185.2 223.7h0M185.0 222.8h0M185.1 226.9h0M179.6 226.6h0M179.6 230.5h0M179.6 229.3h0M179.6 228.5h0M182.3 231.8h0M182.3 230.8h0M182.2 229.7h0M182.2 228.0h0M165.3 239.9h0M165.2 242.1h0M165.3 242.2h0M165.3 240.4h0M177.0 228.5h0M177.1 227.9h0M176.9 223.8h0M177.3 223.2h0M176.3 233.0h0M176.2 236.5h0M176.1 236.7h0M176.2 237.3h0M185.6 223.7h0M185.7 225.5h0M185.8 222.8h0M185.8 228.4h0M172.3 233.1h0M172.4 226.8h0M172.2 230.5h0M172.4 232.4h0M178.5 230.7h0M178.5 231.2h0M178.6 227.6h0M178.5 231.8h0M164.6 244.3h0M164.3 250.6h0M164.6 246.4h0M164.3 245.1h0M173.1 232.4h0M172.9 235.4h0M172.9 235.3h0M173.0 232.8h0M171.4 239.6h0M171.2 240.1h0M171.4 235.0h0M171.3 238.2h0M166.8 235.6h0M166.8 237.0h0M166.8 240.0h0M166.6 237.9h0M184.5 223.0h0M184.4 225.3h0M184.3 224.4h0M184.2 221.1h0M172.7 225.8h0M172.7 221.0h0M172.9 222.2h0M172.8 223.6h0M188.5 219.8h0M188.5 220.9h0M188.7 220.1h0M188.6 222.2h0M178.3 230.9h0M178.5 232.3h0M178.4 227.1h0M178.4 227.2h0M178.7 231.8h0M178.6 230.1h0M178.6 232.4h0M178.7 231.8h0M179.6 224.7h0M179.7 219.2h0M179.7 228.6h0M179.6 223.3h0M180.7 229.7h0M180.5 232.9h0M180.4 231.9h0M180.6 232.0h0M166.7 244.0h0M166.7 242.1h0M166.8 247.5h0M166.7 241.7h0M174.3 225.0h0M174.4 220.5h0M174.4 224.3h0M174.4 221.9h0M169.2 233.4h0M169.1 230.5h0M169.0 233.0h0M169.1 234.7h0M173.6 233.2h0M173.4 233.2h0M173.5 230.6h0M173.6 240.4h0M165.5 248.0h0M165.3 246.6h0M165.6 249.3h0M165.4 248.7h0M188.3 224.0h0M188.3 226.8h0M188.4 228.5h0M188.3 224.6h0M168.5 238.4h0M168.6 238.4h0M168.4 239.2h0M168.4 239.7h0M170.8 222.5h0M170.8 226.6h0M170.9 234.1h0M170.6 227.6h0M185.9 220.4h0M185.8 218.7h0M185.7 222.7h0M185.8 222.3h0M180.4 221.5h0M180.2 227.0h0M180.2 222.9h0M180.3 226.1h0M166.4 233.2h0M166.4 227.5h0M166.2 237.8h0M166.3 234.1h0M185.2 226.7h0M185.0 226.7h0M185.0 226.0h0M185.2 228.0h0M187.8 208.7h0M186.5 228.6h0M186.6 226.8h0M186.7 223.9h0M186.6 225.4h0M177.8 220.0h0M177.8 221.7h0M177.7 220.1h0M177.8 222.8h0M166.6 246.5h0M166.9 245.9h0M166.7 245.5h0M166.6 245.3h0M167.8 245.8h0M167.9 245.6h0M167.7 239.7h0M167.8 242.7h0M187.2 227.1h0M187.3 230.0h0M187.2 227.1h0M187.2 227.1h0M177.2 238.0h0M177.3 236.2h0M177.4 239.4h0M177.3 240.2h0M167.7 221.1h0M167.5 230.0h0M167.7 226.2h0M167.6 219.9h0M186.1 226.5h0M185.9 228.6h0M186.0 227.6h0M186.2 226.2h0M179.8 230.1h0M179.7 227.8h0M179.8 225.0h0M179.7 230.6h0M177.8 230.6h0M177.8 228.4h0M177.9 231.1h0M177.9 231.2h0M172.7 234.5h0M172.7 237.0h0M172.8 233.6h0M172.8 234.4h0M173.6 230.1h0M173.8 230.9h0M173.7 233.8h0M173.6 231.9h0M169.3 234.5h0M169.2 239.2h0M169.1 230.1h0M169.2 235.6h0M163.7 245.7h0M163.8 241.1h0M163.6 242.7h0M163.9 244.6h0M185.7 231.4h0M186.0 231.5h0M185.8 229.8h0M185.8 231.3h0M175.1 237.0h0M175.2 237.3h0M175.2 234.4h0M175.3 234.3h0M177.3 236.6h0M177.3 230.4h0M177.2 231.2h0M177.3 228.7h0M171.3 237.0h0M171.3 235.2h0M171.3 235.9h0M171.3 236.1h0M182.6 226.3h0M182.6 221.0h0M182.6 225.5h0M182.5 224.5h0M163.6 238.0h0M163.3 240.0h0M163.4 246.0h0M163.6 239.3h0M172.4 237.5h0M172.6 238.1h0M172.7 234.4h0M172.5 235.3h0M163.9 248.0h0M163.4 243.6h0M163.8 243.8h0M163.8 246.3h0M166.2 237.5h0M166.0 235.1h0M166.1 238.0h0M166.0 237.7h0M188.4 212.5h0M188.2 214.5h0M188.3 215.4h0M188.4 210.9h0M180.0 230.8h0M180.1 230.5h0M180.2 229.4h0M180.0 233.7h0M176.5 225.0h0M176.6 221.6h0M176.6 225.9h0M176.5 224.8h0M185.9 214.1h0M185.7 218.0h0M185.9 217.8h0M185.8 215.3h0M172.0 233.9h0M171.8 231.8h0M171.8 236.1h0M171.8 231.1h0M178.4 224.5h0M178.5 219.0h0M178.6 219.5h0M178.5 223.7h0M180.8 220.7h0M180.8 225.0h0M180.9 226.4h0M180.8 228.8h0M172.3 228.0h0M172.3 233.1h0M172.1 233.2h0M172.1 233.1h0M176.6 233.6h0M176.5 228.3h0M176.5 232.2h0M176.6 227.1h0M182.9 230.2h0M182.9 233.9h0M182.9 228.2h0M182.8 230.1h0M166.9 244.0h0M166.8 244.3h0M166.8 242.2h0M166.6 244.1h0M187.4 219.2h0M187.3 219.5h0M187.4 220.0h0M187.4 219.8h0M163.0 244.7h0M163.2 246.2h0M163.0 242.8h0M163.0 245.2h0M182.7 224.2h0M182.6 228.1h0M182.7 225.2h0M182.8 225.7h0M184.0 221.3h0M184.3 222.1h0M184.2 220.2h0M184.3 218.9h0M166.5 242.0h0M166.3 240.3h0M166.3 236.2h0M166.6 239.7h0M173.9 238.0h0M173.7 235.3h0M173.9 233.2h0M173.8 234.9h0M184.1 212.1h0M184.3 215.7h0M163.2 230.3h0M163.2 229.2h0M163.2 228.9h0M163.3 228.0h0M179.2 222.0h0M179.3 226.0h0M179.3 224.3h0M179.3 224.5h0M176.3 229.8h0M176.5 231.7h0M176.2 230.0h0M176.2 228.0h0M182.0 224.8h0M182.0 225.6h0M182.0 224.6h0M181.8 226.8h0M168.9 235.3h0M168.7 238.5h0M168.7 239.3h0M168.7 238.5h0M168.0 240.7h0M168.1 240.0h0M168.1 235.2h0M168.1 238.6h0M172.5 226.7h0M172.4 225.0h0M172.5 228.5h0M172.3 220.6h0M167.4 240.6h0M167.6 241.3h0M167.4 242.8h0M167.5 240.0h0M171.9 221.4h0M171.9 221.8h0M172.1 220.1h0M187.5 232.0h0M187.9 231.6h0M188.0 229.4h0M187.8 228.8h0M177.9 234.1h0M178.0 230.5h0M178.1 232.0h0M177.8 234.6h0M171.8 238.6h0M171.8 240.1h0M171.8 237.4h0M171.8 235.4h0M170.0 239.5h0M169.9 241.8h0M170.0 242.1h0M169.9 237.9h0M187.8 219.9h0M187.9 218.4h0M187.9 216.9h0M187.8 222.3h0M174.7 234.9h0M174.5 238.0h0M174.4 236.6h0M174.6 239.1h0M188.6 215.3h0M188.7 215.2h0M188.6 215.3h0M188.7 214.9h0M176.4 231.7h0M176.3 230.0h0M176.4 229.2h0M176.6 232.3h0M176.3 235.8h0M176.6 232.9h0M176.6 236.6h0M176.4 233.8h0M186.3 222.0h0M186.6 225.3h0M186.4 224.0h0M186.6 224.0h0M182.4 220.0h0M182.4 218.6h0M182.4 217.6h0M182.4 216.9h0M178.2 229.6h0M178.2 229.0h0M178.1 230.9h0M178.1 230.9h0M174.2 219.2h0M174.1 225.8h0M174.0 223.9h0M174.0 221.9h0M186.0 218.2h0M185.9 214.3h0M185.9 213.0h0M185.9 218.0h0M173.6 235.5h0M173.7 237.8h0M173.8 236.9h0M173.7 234.7h0M187.3 223.1h0M187.1 220.3h0M187.4 222.5h0M187.2 221.3h0M164.7 231.5h0M164.6 235.6h0M164.4 231.5h0M164.6 232.0h0M174.2 235.2h0M174.3 229.2h0M174.0 232.0h0M174.3 229.8h0M176.5 232.6h0M176.6 228.5h0M176.3 229.3h0M176.5 230.7h0M187.9 211.4h0M169.5 232.0h0M169.5 229.2h0M169.5 228.0h0M169.5 224.9h0M184.1 223.0h0M184.0 217.9h0M183.9 221.7h0M183.9 218.2h0M180.8 224.9h0M180.7 221.5h0M180.6 227.2h0M180.6 223.7h0M181.7 223.6h0M181.7 222.4h0M181.7 221.2h0M181.6 226.2h0M179.6 228.2h0M179.4 226.3h0M179.3 228.9h0M179.3 226.0h0M188.3 212.7h0M188.5 214.8h0M188.5 212.2h0M171.6 244.8h0M171.6 242.7h0M171.5 240.6h0M171.7 242.3h0M173.3 232.4h0M173.5 230.2h0M173.2 231.5h0M173.3 231.8h0M168.3 240.9h0M168.1 236.4h0M168.0 236.6h0M168.1 240.8h0M164.2 242.6h0M164.2 238.7h0M164.2 245.1h0M164.3 242.3h0M168.5 238.7h0M168.5 240.7h0M168.4 238.4h0M168.4 241.0h0M187.0 212.3h0M184.9 220.7h0M184.8 220.3h0M184.8 222.0h0M185.0 220.8h0M165.8 239.3h0M165.9 239.9h0M165.8 242.3h0M165.9 240.3h0M178.8 228.1h0M178.8 231.4h0M178.7 228.6h0M178.7 225.4h0M175.5 226.0h0M175.3 230.0h0M175.5 224.0h0M175.5 223.9h0M178.4 227.1h0M178.7 225.6h0M178.5 224.7h0M178.5 224.0h0M180.2 232.3h0M180.1 232.2h0M180.2 229.4h0M180.2 232.5h0M171.1 241.2h0M171.0 239.4h0M171.0 239.7h0M170.9 238.9h0M188.0 229.0h0M188.1 229.3h0M188.1 229.3h0M175.1 233.7h0M175.2 235.4h0M175.2 231.0h0M175.2 229.8h0M179.4 225.0h0M179.4 225.8h0M179.4 227.5h0M179.4 225.5h0M179.5 225.6h0M179.6 226.3h0M179.8 227.5h0M179.5 229.2h0M167.6 244.5h0M167.6 244.5h0M167.5 245.1h0M167.8 245.7h0M164.5 239.7h0M164.5 243.9h0M164.6 237.9h0M164.7 240.8h0M173.6 231.5h0M173.8 232.4h0M173.7 232.7h0M173.7 233.8h0M183.0 225.2h0M182.9 227.8h0M183.1 225.8h0M183.0 227.2h0M184.3 220.5h0M184.4 221.0h0M184.4 227.7h0M184.3 222.1h0M182.1 227.9h0M182.2 224.9h0M182.1 225.6h0M182.0 227.0h0M165.7 248.5h0M165.7 252.6h0M165.8 252.8h0M186.9 225.1h0M186.7 220.8h0M186.9 221.0h0M186.9 222.4h0M184.0 228.8h0M183.9 221.2h0M184.1 227.0h0M183.9 228.9h0M185.8 221.4h0M185.8 220.6h0M185.9 219.6h0M186.0 221.0h0M176.7 230.8h0M176.6 230.2h0M176.5 232.6h0M176.5 232.6h0M186.8 217.3h0M186.9 216.4h0M186.8 214.2h0M186.9 215.7h0M164.1 245.4h0M164.0 244.3h0M164.1 244.1h0M164.0 240.1h0M163.5 248.1h0M163.6 245.2h0M163.7 246.2h0M163.7 250.5h0M163.3 243.2h0M163.5 244.4h0M163.3 245.1h0M163.5 242.3h0M169.5 234.6h0M169.4 235.3h0M169.6 239.0h0M169.4 235.9h0M169.3 230.4h0M169.2 241.6h0M169.4 236.8h0M169.4 234.4h0M167.8 251.7h0M167.7 250.8h0M167.9 250.6h0M167.7 249.5h0M177.7 227.9h0M177.9 228.7h0M177.9 228.0h0M177.8 229.2h0M163.7 249.1h0M163.8 248.4h0M163.9 250.0h0M163.9 246.4h0M178.5 227.3h0M178.2 227.5h0M178.4 230.0h0M178.3 232.8h0M167.3 231.4h0M167.2 237.5h0M167.3 237.3h0M167.1 232.3h0M180.5 226.5h0M180.6 222.8h0M180.6 223.8h0M180.6 224.9h0M163.5 232.1h0M163.5 228.4h0M163.4 232.3h0M163.3 229.4h0M171.0 233.6h0M170.9 239.6h0M171.1 237.3h0M171.0 237.9h0M187.6 213.3h0M187.5 214.2h0M187.5 211.0h0M176.9 221.8h0M177.0 222.1h0M177.0 221.6h0M176.9 222.9h0M184.2 233.6h0M184.3 228.9h0M184.1 229.5h0M184.1 233.8h0M180.1 222.8h0M180.1 222.8h0M180.1 225.3h0M180.2 223.0h0M179.1 230.4h0M178.7 226.2h0M178.9 233.0h0M178.9 233.2h0M167.9 243.1h0M167.8 236.8h0M167.8 239.1h0M168.0 242.4h0M177.9 224.9h0M177.9 225.5h0M177.9 226.1h0M178.0 226.9h0M163.9 242.5h0M164.0 244.6h0M163.9 243.9h0M163.9 243.7h0M183.9 218.3h0M183.8 219.3h0M183.9 220.6h0M183.8 219.0h0M188.1 219.1h0M188.0 215.7h0M188.0 214.8h0M188.1 215.8h0M185.4 228.5h0M185.1 234.5h0M185.5 229.6h0M185.3 231.1h0M164.2 249.5h0M164.1 252.4h0M171.9 238.1h0M171.6 239.4h0M171.7 236.7h0M171.8 238.5h0M171.1 231.3h0M171.2 238.3h0M171.2 240.9h0M171.4 234.7h0M165.7 227.2h0M165.8 229.7h0M165.9 226.4h0M165.8 225.2h0M179.2 225.6h0M179.4 223.9h0M179.3 227.5h0M179.4 222.8h0M183.9 219.4h0M183.9 220.6h0M183.9 219.3h0M183.8 219.7h0M171.0 230.8h0M171.1 234.3h0M171.1 238.5h0M171.0 237.4h0M185.5 226.6h0M185.5 225.5h0M185.7 222.3h0M185.7 222.5h0M183.8 218.0h0M183.8 222.6h0M183.8 220.7h0M183.9 223.1h0M166.3 236.8h0M166.2 240.3h0M166.2 242.9h0M166.2 240.6h0M182.9 220.7h0M183.1 226.2h0M182.9 219.8h0M183.1 221.8h0M206.8 195.5h0M206.9 197.4h0M206.8 193.3h0M206.9 192.9h0M193.1 208.5h0M193.1 209.5h0M193.1 205.5h0M200.6 216.4h0M200.7 214.1h0M200.4 216.8h0M200.6 210.9h0M201.8 195.7h0M202.0 196.0h0M201.7 197.6h0M201.8 197.3h0M201.2 196.6h0M201.5 193.8h0M201.2 197.2h0M191.0 211.6h0M190.9 213.3h0M191.0 208.9h0M191.1 210.7h0M202.3 195.0h0M202.4 197.3h0M202.3 198.8h0M202.4 193.7h0M201.7 211.8h0M201.8 208.9h0M202.0 211.6h0M201.8 213.1h0M205.6 199.5h0M205.5 200.8h0M205.5 200.1h0M205.7 201.6h0M205.1 203.1h0M205.1 206.6h0M205.2 204.2h0M205.2 204.8h0M195.9 213.1h0M195.5 211.5h0M195.7 215.2h0M195.8 211.9h0M203.5 198.2h0M203.5 200.9h0M203.6 202.2h0M203.7 197.5h0M206.4 201.9h0M206.3 201.8h0M206.6 206.6h0M206.6 201.8h0M207.0 197.9h0M206.8 199.6h0M207.1 202.8h0M207.0 198.8h0M189.8 217.3h0M189.8 214.4h0M189.5 221.3h0M189.6 218.9h0M202.3 202.8h0M202.1 205.2h0M202.0 202.3h0M202.2 203.8h0M193.4 218.3h0M193.4 219.8h0M193.4 218.9h0M193.4 217.9h0M200.4 209.9h0M200.4 207.9h0M200.3 204.9h0M200.4 208.9h0M196.8 217.3h0M196.8 221.4h0M196.8 218.1h0M196.8 217.4h0M194.4 221.3h0M194.3 220.1h0M194.2 225.3h0M194.2 222.1h0M198.4 206.2h0M198.3 214.0h0M198.3 211.6h0M198.1 210.5h0M202.1 192.8h0M202.4 195.9h0M202.4 192.3h0M196.8 205.8h0M196.7 207.8h0M196.7 211.6h0M196.6 210.0h0M191.7 216.6h0M191.7 218.0h0M191.9 217.1h0M191.8 213.7h0M202.5 207.7h0M202.4 209.5h0M202.3 207.1h0M202.4 207.0h0M205.7 192.0h0M205.8 192.0h0M205.8 189.0h0M205.6 190.9h0M196.7 216.9h0M196.7 214.3h0M196.6 212.0h0M196.8 213.5h0M199.9 196.7h0M199.9 197.4h0M199.7 201.0h0M200.0 198.8h0M193.5 214.3h0M193.4 215.2h0M193.4 212.0h0M193.4 212.5h0M194.2 208.8h0M193.9 209.6h0M194.1 209.6h0M194.3 209.2h0M195.7 206.9h0M195.8 204.5h0M195.7 206.5h0M195.6 207.0h0M198.3 203.4h0M198.3 203.8h0M198.2 197.7h0M198.3 198.1h0M190.9 220.3h0M190.9 222.0h0M190.6 222.3h0M190.7 220.5h0M204.0 189.7h0M204.3 195.4h0M204.2 191.2h0M204.3 190.7h0M200.6 206.1h0M200.6 208.4h0M200.7 206.1h0M200.7 208.6h0M195.1 212.6h0M195.1 213.5h0M195.2 217.1h0M195.2 211.9h0M190.6 213.9h0M190.5 216.0h0M190.7 210.7h0M190.7 215.3h0M204.4 203.5h0M204.4 201.2h0M204.3 206.9h0M204.5 199.7h0M191.8 219.5h0M191.8 218.0h0M191.7 220.8h0M191.7 219.3h0M191.9 215.8h0M191.8 221.6h0M191.9 219.0h0M191.7 218.2h0M194.5 208.6h0M194.5 213.2h0M194.6 204.1h0M194.6 206.6h0M195.2 204.3h0M205.7 203.0h0M205.9 203.3h0M205.6 206.4h0M205.8 206.5h0M201.8 206.8h0M201.5 204.2h0M201.4 205.7h0M201.5 204.5h0M193.0 216.3h0M192.9 212.5h0M192.9 213.2h0M192.9 213.8h0M197.8 214.9h0M198.1 212.0h0M197.8 213.0h0M197.8 211.3h0M206.8 203.6h0M206.8 201.2h0M206.8 204.9h0M206.9 205.7h0M196.7 210.8h0M196.5 209.6h0M196.7 208.4h0M196.6 209.1h0M203.3 204.9h0M203.2 203.0h0M203.3 202.1h0M203.3 202.8h0M191.1 221.9h0M190.9 224.1h0M191.1 224.1h0M191.1 224.0h0M203.6 197.3h0M203.6 200.0h0M203.6 199.2h0M203.8 196.1h0M204.4 201.5h0M204.6 203.2h0M204.5 201.8h0M204.6 203.0h0M205.7 191.2h0M205.6 193.0h0M205.7 194.2h0M205.6 192.4h0M202.8 206.2h0M202.7 203.0h0M202.7 204.7h0M202.5 200.8h0M196.5 207.8h0M196.7 209.8h0M196.5 212.9h0M196.5 212.5h0M190.5 216.3h0M190.3 214.4h0M190.5 219.2h0M190.4 214.6h0M199.6 206.2h0M199.4 207.3h0M199.6 208.8h0M199.4 208.0h0M204.4 206.9h0M204.4 205.5h0M204.4 205.8h0M204.3 205.0h0M193.0 214.3h0M192.7 215.3h0M193.0 215.5h0M192.9 218.0h0M194.4 207.0h0M194.3 204.3h0M194.4 205.3h0M199.9 204.4h0M200.0 201.7h0M199.8 202.6h0M199.8 204.8h0M204.0 190.5h0M204.3 192.2h0M207.0 206.6h0M207.2 206.2h0M207.2 206.4h0M206.9 208.4h0M191.8 218.4h0M191.6 219.4h0M191.8 217.7h0M191.6 214.9h0M192.7 218.6h0M192.9 216.9h0M192.9 220.3h0M193.0 218.9h0M205.3 200.3h0M205.2 203.0h0M205.1 201.3h0M205.1 198.6h0M202.0 206.2h0M201.9 206.5h0M202.0 210.1h0M201.8 203.9h0M203.6 207.2h0M203.5 209.4h0M203.8 204.8h0M203.6 206.0h0M209.0 189.6h0M209.1 188.4h0M208.9 190.4h0M209.0 189.4h0M207.7 197.6h0M208.0 198.8h0M208.0 195.8h0M207.8 198.5h0M206.0 211.7h0M206.1 207.9h0M206.0 207.5h0M206.0 210.3h0M204.6 195.0h0M204.6 195.5h0M204.7 195.4h0M204.8 197.4h0M197.0 205.3h0M196.9 204.0h0M197.1 203.9h0M197.0 202.5h0M202.1 206.2h0M202.0 204.8h0M202.0 202.9h0M202.1 206.5h0M204.4 205.4h0M204.5 208.2h0M204.5 206.3h0M204.5 206.9h0M204.3 196.6h0M204.3 196.1h0M204.4 195.1h0M204.3 196.2h0M203.6 203.8h0M203.5 203.5h0M203.7 204.3h0M203.5 205.2h0M198.1 211.8h0M197.9 212.4h0M198.1 212.3h0M197.9 209.9h0M196.8 209.7h0M196.6 208.0h0M196.7 209.6h0M196.8 209.0h0M197.5 213.1h0M197.5 213.5h0M197.5 215.6h0M197.3 212.1h0M189.8 215.9h0M189.9 216.3h0M189.7 215.4h0M189.9 217.0h0M205.9 197.2h0M205.9 201.8h0M206.0 198.8h0M206.0 198.9h0M200.2 204.7h0M199.8 204.6h0M200.1 204.2h0M200.1 206.5h0M196.7 210.5h0M196.7 215.7h0M196.9 214.9h0M196.8 213.4h0M203.3 203.6h0M203.6 199.0h0M203.5 197.9h0M203.6 199.3h0M196.8 221.3h0M205.8 197.2h0M205.6 199.8h0M205.7 199.3h0M205.7 195.3h0M207.5 195.3h0M207.4 194.5h0M207.6 193.3h0M207.5 195.6h0M196.9 208.9h0M196.8 206.9h0M197.0 208.7h0M196.9 211.8h0M191.6 217.5h0M191.8 215.7h0M191.9 211.5h0M192.0 215.9h0M204.3 200.5h0M204.3 201.3h0M204.3 202.5h0M204.4 206.0h0M208.9 198.3h0M208.9 202.8h0M208.9 197.4h0M209.0 195.8h0M192.1 214.7h0M191.9 213.9h0M192.2 217.8h0M192.0 218.7h0M203.4 207.5h0M203.4 207.5h0M203.5 204.0h0M203.5 203.1h0M205.6 208.8h0M205.6 207.9h0M205.5 208.7h0M205.8 209.0h0M207.6 190.0h0M191.8 216.3h0M191.6 215.8h0M191.6 217.6h0M191.6 213.9h0M191.0 209.5h0M191.1 207.1h0M208.8 201.7h0M208.8 202.5h0M209.0 195.8h0M209.0 198.6h0M191.5 213.9h0M191.3 212.3h0M191.5 214.6h0M191.5 213.9h0M192.7 215.6h0M192.6 213.5h0M192.6 214.3h0M192.6 213.7h0M200.7 200.2h0M200.7 200.9h0M200.7 198.2h0M200.6 204.7h0M198.1 206.0h0M198.1 205.1h0M198.0 203.9h0M198.1 206.5h0M204.3 199.3h0M204.2 199.1h0M204.2 200.7h0M204.1 201.1h0M193.0 219.1h0M192.8 215.4h0M193.0 218.6h0M193.1 216.7h0M207.6 207.4h0M207.5 205.0h0M207.5 204.9h0M207.4 204.5h0M204.6 205.1h0M204.4 202.9h0M204.3 205.2h0M204.4 206.2h0M190.3 215.7h0M190.4 215.8h0M190.6 216.8h0M190.5 218.0h0M189.9 211.5h0M195.3 206.3h0M195.3 209.1h0M195.4 206.5h0M195.5 207.7h0M195.4 215.1h0M195.4 213.1h0M195.5 211.1h0M195.5 209.5h0M198.3 203.3h0M198.2 207.5h0M198.2 202.0h0M198.4 205.1h0M190.3 211.9h0M190.2 214.4h0M190.3 213.9h0M190.5 213.2h0M187.5 222.8h0M187.6 217.0h0M187.5 218.7h0M187.5 220.5h0M180.0 223.5h0M180.1 223.3h0M180.3 220.9h0M180.0 223.2h0M182.0 230.3h0M181.7 230.0h0M181.8 232.1h0M181.9 229.9h0M190.1 213.2h0M190.1 215.2h0M189.9 215.0h0M190.1 213.7h0M177.3 228.5h0M177.7 230.0h0M177.4 226.1h0M177.4 228.1h0M175.0 231.0h0M175.0 232.5h0M175.0 235.9h0M175.2 230.3h0M170.6 247.1h0M170.7 241.6h0M170.6 244.2h0M170.6 241.9h0M178.9 235.8h0M178.7 239.6h0M178.7 234.7h0M178.9 236.3h0M187.2 220.1h0M187.2 221.1h0M187.4 219.4h0M187.2 219.9h0M184.3 228.0h0M184.1 229.3h0M184.4 229.0h0M184.3 229.3h0M173.0 232.3h0M173.0 234.7h0M173.0 236.7h0M173.1 233.8h0M173.7 236.2h0M173.4 235.5h0M173.6 236.0h0M173.4 238.4h0M175.5 227.0h0M175.4 226.5h0M175.8 230.9h0M175.6 230.6h0M180.3 224.5h0M180.2 222.6h0M180.4 227.3h0M180.1 226.0h0M177.4 222.5h0M177.6 227.0h0M177.3 227.9h0M177.4 224.2h0M179.9 231.4h0M179.8 231.6h0M179.8 232.0h0M179.9 229.3h0M180.3 228.2h0M180.4 227.1h0M180.3 228.9h0M180.3 226.0h0M176.8 223.5h0M177.0 225.2h0M176.9 224.6h0M176.8 232.8h0M178.1 231.2h0M178.4 228.6h0M178.4 229.9h0M178.3 232.9h0M179.6 226.5h0M179.7 227.0h0M179.9 227.7h0M179.7 227.4h0M178.0 223.4h0M178.1 225.6h0M178.2 221.6h0M178.1 224.4h0M181.5 229.9h0M181.5 226.8h0M181.7 227.3h0M181.6 228.4h0M189.6 213.6h0M189.4 216.9h0M189.5 212.8h0M189.6 215.3h0M182.0 228.9h0M182.1 227.0h0M182.1 225.4h0M182.1 228.2h0M179.0 225.7h0M178.9 225.5h0M178.8 221.4h0M178.9 227.6h0M168.9 233.7h0M168.6 235.0h0M168.6 233.7h0M168.8 234.3h0M180.8 235.1h0M180.8 234.3h0M180.7 233.9h0M180.9 236.1h0M167.2 237.2h0M167.3 243.4h0M167.1 239.5h0M167.2 240.1h0M170.2 229.6h0M170.3 235.0h0M170.2 230.5h0M170.3 234.2h0M182.7 215.1h0M182.6 216.5h0M182.7 218.1h0M182.6 219.2h0M177.7 225.7h0M177.7 229.8h0M177.7 228.8h0M177.7 225.9h0M168.5 236.8h0M168.5 232.1h0M168.4 234.0h0M168.5 235.2h0M176.3 241.1h0M176.4 239.9h0M176.4 243.4h0M176.4 243.3h0M174.4 232.3h0M174.4 229.3h0M174.6 229.0h0M174.6 229.4h0M182.4 224.2h0M182.4 227.0h0M182.4 228.7h0M182.4 223.4h0M191.8 209.1h0M191.7 210.8h0M191.8 210.1h0M191.8 208.0h0M179.9 233.0h0M179.9 229.7h0M179.8 230.0h0M179.8 234.6h0M174.1 233.8h0M174.0 234.1h0M174.0 231.4h0M174.0 235.7h0M171.6 233.0h0M171.6 231.8h0M171.7 232.8h0M171.7 232.0h0M178.5 217.4h0M178.2 214.9h0M177.4 240.6h0M172.0 226.0h0M171.9 224.9h0M171.9 221.2h0M171.9 226.3h0M179.3 233.3h0M179.3 233.1h0M179.2 234.6h0M179.2 236.8h0M171.8 231.0h0M171.9 234.7h0M171.8 231.1h0M171.9 233.9h0M184.9 216.9h0M185.2 221.1h0M185.3 222.2h0M185.2 220.8h0M184.8 225.7h0M184.7 223.6h0M184.8 219.9h0M184.7 223.1h0M185.0 231.5h0M185.0 232.4h0M185.1 228.7h0M175.6 241.0h0M175.8 236.0h0M175.7 237.4h0M175.7 242.1h0M181.5 224.0h0M181.6 221.8h0M181.7 218.9h0M181.5 220.5h0M177.9 229.7h0M178.0 228.0h0M177.9 229.7h0M177.9 229.8h0M176.3 237.3h0M176.2 234.2h0M176.3 238.6h0M176.3 232.7h0M171.1 236.9h0M170.8 233.8h0M170.8 237.8h0M170.9 234.9h0M170.0 227.4h0M170.2 230.9h0M170.1 226.9h0M170.3 230.2h0M183.4 224.6h0M183.3 226.4h0M183.2 227.6h0M183.3 227.0h0M177.5 220.2h0M177.4 217.6h0M177.5 218.0h0M177.5 214.5h0M179.9 215.0h0M180.0 215.7h0M180.0 214.8h0M179.8 216.5h0M184.5 223.6h0M184.4 222.7h0M184.5 223.1h0M184.4 225.0h0M168.5 241.6h0M168.4 239.5h0M168.5 235.9h0M168.4 242.8h0M173.8 236.4h0M174.1 236.3h0M174.0 237.8h0M174.1 238.1h0M179.6 225.3h0M179.7 226.7h0M179.8 228.8h0M179.6 225.6h0M181.0 238.5h0M181.0 235.8h0M176.3 234.8h0M176.4 237.0h0M176.4 234.9h0M176.5 236.9h0M184.4 216.8h0M184.6 216.1h0M184.6 218.4h0M184.7 218.3h0M179.8 226.0h0M179.9 232.1h0M179.8 226.6h0M179.9 230.2h0M171.5 234.7h0M171.4 235.9h0M171.5 234.5h0M171.3 235.3h0M173.1 234.8h0M173.2 236.4h0M173.1 232.0h0M173.2 235.2h0M183.1 224.7h0M183.1 223.2h0M183.2 223.8h0M183.3 222.2h0M181.3 221.8h0M181.3 222.0h0M181.3 224.1h0M181.4 221.4h0M167.4 241.2h0M167.3 246.1h0M167.3 239.8h0M167.6 242.6h0M186.3 225.3h0M186.5 224.9h0M186.6 221.4h0M186.5 224.5h0M182.0 224.7h0M182.1 226.8h0M182.2 229.3h0M182.2 229.7h0M176.5 221.7h0M176.3 220.5h0M176.2 223.3h0M176.4 223.3h0M177.0 232.2h0M176.9 234.5h0M176.9 228.3h0M177.1 235.4h0M171.9 235.4h0M172.0 234.5h0M171.9 235.3h0M172.0 236.7h0M193.5 223.1h0M193.6 224.5h0M193.4 224.6h0M193.4 225.0h0M177.4 229.1h0M177.6 229.4h0M177.5 227.4h0M177.6 231.9h0M187.8 223.7h0M187.9 226.3h0M188.0 222.5h0M187.9 224.5h0M174.8 233.3h0M174.8 235.6h0M174.7 234.7h0M174.6 235.2h0M179.6 224.7h0M179.6 225.0h0M179.6 222.7h0M179.3 226.8h0M168.6 242.7h0M168.6 247.0h0M168.7 247.7h0M168.9 245.6h0M176.4 235.6h0M176.3 237.0h0M176.3 236.7h0M176.4 230.9h0M184.3 223.2h0M184.4 224.2h0M184.4 216.7h0M184.1 221.7h0M171.2 230.0h0M171.3 227.9h0M171.2 231.8h0M171.2 226.0h0M184.8 223.5h0M184.8 223.1h0M185.0 222.4h0M184.8 220.7h0M180.5 220.3h0M180.3 226.0h0M180.5 224.8h0M180.4 223.4h0M172.3 236.9h0M172.5 239.1h0M172.5 238.2h0M172.3 235.3h0M175.7 229.8h0M175.7 228.4h0M175.6 228.1h0M175.7 230.2h0M175.7 231.0h0M175.8 232.9h0M175.7 232.8h0M175.8 234.0h0M178.4 226.4h0M178.2 227.9h0M178.2 224.7h0M178.2 228.6h0M175.4 224.1h0M175.4 226.3h0M175.5 225.4h0M175.4 229.6h0M173.6 232.2h0M173.7 228.1h0M173.7 230.6h0M173.6 228.8h0M176.8 225.7h0M177.0 221.9h0M176.7 226.6h0M176.8 225.3h0M172.7 241.7h0M172.5 240.2h0M172.5 237.4h0M172.4 237.1h0M171.0 238.1h0M171.0 235.2h0M171.0 236.2h0M171.0 233.6h0M178.4 238.1h0M178.2 239.6h0M183.8 224.8h0M183.8 219.3h0M183.7 224.1h0M183.7 222.9h0M169.5 244.8h0M169.4 248.6h0M169.6 245.4h0M169.5 248.8h0M178.6 227.4h0M178.5 226.7h0M178.6 229.7h0M178.5 231.7h0M174.7 235.1h0M174.8 234.5h0M174.7 236.6h0M174.8 232.0h0M172.7 236.4h0M172.8 228.0h0M172.7 234.8h0M172.8 230.0h0M175.6 232.9h0M175.5 232.1h0M175.6 235.8h0M175.6 233.4h0M174.0 237.5h0M174.1 237.6h0M174.1 240.9h0M174.0 240.8h0M180.7 220.7h0M180.8 225.0h0M180.8 224.7h0M180.9 225.7h0M177.2 227.7h0M177.2 224.3h0M177.3 225.7h0M177.2 219.9h0M174.1 223.7h0M174.3 230.1h0M174.3 227.9h0M174.2 227.4h0M182.0 227.4h0M181.9 227.3h0M182.1 222.3h0M182.0 224.8h0M177.7 224.1h0M177.6 224.2h0M177.7 225.9h0M177.6 228.7h0M178.2 223.0h0M178.1 226.8h0M178.2 225.5h0M178.3 220.6h0M172.2 234.6h0M172.1 238.7h0M172.2 241.6h0M172.1 235.7h0M177.8 238.9h0M177.8 238.4h0M177.9 231.4h0M178.1 234.2h0M184.2 219.6h0M184.1 219.0h0M184.2 218.3h0M184.3 221.7h0M173.2 233.1h0M173.3 238.1h0M173.4 237.4h0M173.3 238.6h0M178.4 227.6h0M178.3 230.0h0M178.4 227.3h0M178.2 229.3h0M168.5 237.6h0M168.5 240.4h0M168.4 240.4h0M168.7 245.3h0M182.3 230.4h0M182.3 227.1h0M182.4 224.2h0M182.2 230.0h0M172.1 246.6h0M172.1 243.6h0M172.1 242.8h0M172.2 244.8h0M168.0 239.4h0M168.1 243.7h0M168.0 240.4h0M168.1 238.8h0M178.3 222.8h0M178.2 224.7h0M178.3 225.0h0M178.2 222.3h0M185.0 228.6h0M185.2 230.3h0M185.1 231.2h0M185.1 230.0h0M169.7 222.4h0M169.7 224.2h0M169.5 225.1h0M169.6 222.3h0M172.1 233.4h0M172.2 231.3h0M172.1 233.4h0M172.3 236.1h0M174.3 224.6h0M174.1 226.2h0M174.2 225.2h0M174.1 226.0h0M171.9 240.4h0M172.0 237.1h0M172.0 243.4h0M171.8 237.3h0M205.3 210.0h0M205.3 205.8h0M205.3 207.1h0M205.4 209.2h0M201.0 205.6h0M201.2 207.5h0M201.0 208.0h0M201.1 204.6h0M201.4 203.3h0M201.5 201.6h0M201.4 202.8h0M201.4 202.9h0M205.9 201.5h0M205.9 204.4h0M206.1 201.7h0M206.0 202.7h0M201.1 195.7h0M201.2 197.4h0M201.3 198.5h0M201.4 199.9h0M205.6 198.2h0M205.6 200.0h0M205.3 200.0h0M205.5 199.6h0M200.6 202.3h0M200.6 206.5h0M200.6 205.5h0M200.5 206.9h0M199.8 203.9h0M199.8 205.2h0M199.7 205.8h0M199.6 209.9h0M197.7 202.7h0M197.4 199.8h0M197.6 202.1h0M197.7 204.4h0M210.4 196.2h0M210.5 199.3h0M210.5 197.2h0M210.6 198.5h0M202.9 194.3h0M203.0 196.6h0M202.9 191.5h0M202.8 193.4h0M204.9 197.8h0M204.8 196.5h0M204.8 196.9h0M205.0 199.3h0M203.8 202.0h0M203.8 199.8h0M203.8 199.7h0M203.7 198.0h0M204.3 201.5h0M204.6 198.4h0M204.4 198.8h0M204.5 200.0h0M204.1 196.1h0M204.0 195.0h0M204.0 194.6h0M204.1 198.8h0M200.3 199.3h0M200.2 201.8h0M200.4 202.6h0M200.3 202.7h0M198.5 204.9h0M198.5 202.1h0M198.4 203.0h0M198.3 203.5h0M200.4 201.2h0M200.3 199.6h0M200.3 202.8h0M200.4 201.3h0M199.2 202.7h0M199.3 206.8h0M199.3 208.1h0M199.3 209.0h0M206.6 193.0h0M206.6 194.0h0M206.7 196.0h0M206.4 193.7h0M206.9 198.1h0M206.8 201.0h0M206.7 200.5h0M206.8 198.3h0M200.5 214.7h0M200.6 211.0h0M200.7 216.0h0M200.3 215.2h0M199.0 197.3h0M199.1 197.9h0M202.7 200.4h0M202.6 203.8h0M202.6 201.0h0M202.8 207.1h0M208.9 201.9h0M208.8 205.1h0M208.8 202.8h0M208.9 202.1h0M193.8 216.0h0M194.0 212.8h0M194.2 213.4h0M194.2 214.0h0M205.8 203.9h0M206.0 205.7h0M205.8 204.3h0M205.7 201.7h0M207.6 195.8h0M207.6 197.0h0M207.4 199.3h0M207.8 197.6h0M163.6 229.3h0M163.1 226.4h0M163.4 232.1h0M163.0 241.2h0M162.5 246.6h0M163.3 249.0h0M163.3 224.4h0M163.0 238.9h0M163.0 230.8h0M163.3 259.8h0M163.0 249.1h0M163.3 236.3h0M163.1 229.1h0M162.3 251.5h0M163.1 240.3h0M163.0 249.9h0M162.9 263.3h0M163.3 251.4h0M163.0 238.6h0M163.4 246.1h0M163.6 244.0h0M163.2 234.8h0M162.6 248.6h0M162.9 263.7h0M163.5 263.2h0M163.1 258.2h0M162.9 223.3h0M163.1 243.0h0M163.4 249.0h0M163.3 244.3h0M163.4 241.2h0M162.9 262.9h0M163.1 256.6h0M163.1 258.7h0M163.2 240.2h0M162.4 223.9h0M163.1 232.8h0M162.7 240.2h0M163.7 255.7h0M163.8 251.6h0M163.8 260.4h0M163.5 226.0h0M163.0 249.3h0M163.5 256.3h0M163.1 224.2h0M163.4 260.3h0M162.8 233.8h0M163.0 258.3h0M163.3 259.7h0M163.8 248.8h0M163.2 250.9h0M164.0 227.6h0M164.2 235.5h0M162.7 236.3h0M163.2 234.7h0M162.8 245.4h0M163.1 252.9h0M163.0 230.4h0M163.2 261.3h0M163.5 227.9h0M163.5 247.1h0M163.3 238.8h0M163.2 224.1h0M163.2 236.4h0M163.2 228.8h0M163.4 229.2h0M163.2 250.0h0M163.4 257.5h0M162.7 263.6h0M163.5 246.8h0M163.8 262.8h0M163.2 257.3h0M162.7 250.1h0M163.7 223.9h0M163.1 246.1h0M162.1 261.2h0M163.1 227.8h0M163.4 236.2h0M163.3 249.4h0M163.6 245.9h0M163.4 246.7h0M163.2 220.7h0M162.4 236.0h0M162.8 238.8h0M163.2 250.7h0M163.4 263.9h0M162.8 232.9h0M162.9 261.2h0M163.4 255.5h0M162.5 261.9h0M162.5 241.9h0M163.1 262.4h0M163.3 226.4h0M163.0 234.2h0M162.3 251.9h0M163.2 236.7h0M162.7 226.6h0M163.4 229.4h0M163.1 245.6h0M163.3 248.8h0M163.4 238.3h0M163.0 225.6h0M163.5 245.9h0M163.6 245.1h0M163.3 219.6h0M163.7 240.1h0M162.9 241.3h0M163.5 255.0h0M163.3 250.0h0M162.8 260.6h0M163.1 222.3h0M163.0 249.7h0M163.0 253.1h0M163.2 238.5h0M163.6 220.4h0M163.1 232.4h0M163.2 236.2h0M162.6 246.8h0M163.2 242.9h0M163.6 239.3h0M169.0 237.3h0M169.2 248.7h0M169.1 238.5h0M169.2 246.4h0M168.7 242.3h0M169.1 241.9h0M169.1 250.5h0M168.9 236.7h0M169.1 245.2h0M168.7 250.2h0M169.6 246.3h0M169.3 232.7h0M169.7 234.7h0M168.9 242.0h0M168.8 248.1h0M169.2 237.7h0M168.7 250.7h0M169.2 235.3h0M169.0 252.1h0M169.1 250.8h0M169.2 245.2h0M169.2 242.5h0M169.7 251.3h0M169.3 246.2h0M168.8 234.3h0M169.4 236.1h0M171.0 246.1h0M171.3 233.8h0M171.0 240.3h0M171.1 232.9h0M171.6 242.9h0M171.2 243.8h0M171.1 236.5h0M171.2 239.7h0M171.2 242.7h0M171.6 240.2h0M171.0 237.7h0M171.0 242.9h0M171.4 233.5h0M170.9 236.9h0M171.2 236.9h0M171.5 235.8h0M171.3 243.3h0M171.2 237.7h0M171.1 243.3h0M171.1 243.6h0M165.7 243.6h0M165.9 252.7h0M166.3 251.5h0M166.2 243.7h0M165.7 236.0h0M165.6 254.4h0M166.1 244.1h0M165.2 253.0h0M165.7 243.7h0M165.8 242.5h0M165.5 244.3h0M165.5 252.9h0M166.0 241.3h0M165.3 244.3h0M165.5 243.5h0M165.6 243.6h0M165.9 236.2h0M165.4 246.5h0M166.2 237.4h0M165.8 251.1h0M165.8 246.8h0M165.7 251.8h0M181.5 237.6h0M181.7 238.5h0M181.3 240.7h0M181.5 244.2h0M181.7 247.9h0M181.6 247.1h0M181.6 250.0h0M218.3 186.7h0M218.5 190.6h0M215.5 190.1h0M206.1 189.7h0M207.0 193.2h0M205.1 194.1h0M207.7 192.4h0M206.3 196.8h0M209.1 195.1h0M213.1 196.9h0M212.2 194.9h0" stroke="#0000f4" stroke-width="1.4" stroke-linecap="round" fill="none"/>
<line x1="154.6" y1="251.5" x2="219.0" y2="189.1" stroke="#f01430" stroke-width="1.55" stroke-opacity="0.88"/>
<rect class="ax" x="152.4" y="163.5" width="69" height="107"/>
<path class="ax" d="M158.6 270.5v4M152.4 260.5h-4M170.3 270.5v4M152.4 242.5h-4M182.1 270.5v4M152.4 224.5h-4M193.8 270.5v4M152.4 206.5h-4M205.6 270.5v4M152.4 188.5h-4M217.3 270.5v4M152.4 170.5h-4"/>
<text class="tl" transform="translate(157.9 283.0) scale(0.93 1)" text-anchor="middle">-10</text>
<text class="tl" transform="translate(145.9 260.8) rotate(-90) scale(0.93 1)" text-anchor="middle">-10</text>
<text class="tl" transform="translate(169.7 283.0) scale(0.93 1)" text-anchor="middle">-5</text>
<text class="tl" transform="translate(145.9 242.8) rotate(-90) scale(0.93 1)" text-anchor="middle">-5</text>
<text class="tl" transform="translate(181.4 283.0) scale(0.93 1)" text-anchor="middle">0</text>
<text class="tl" transform="translate(145.9 224.8) rotate(-90) scale(0.93 1)" text-anchor="middle">0</text>
<text class="tl" transform="translate(193.2 283.0) scale(0.93 1)" text-anchor="middle">5</text>
<text class="tl" transform="translate(145.9 206.8) rotate(-90) scale(0.93 1)" text-anchor="middle">5</text>
<text class="tl" transform="translate(204.9 283.0) scale(0.93 1)" text-anchor="middle">10</text>
<text class="tl" transform="translate(145.9 188.8) rotate(-90) scale(0.93 1)" text-anchor="middle">10</text>
<text class="tl" transform="translate(216.7 283.0) scale(0.93 1)" text-anchor="middle">15</text>
<text class="tl" transform="translate(145.9 170.8) rotate(-90) scale(0.93 1)" text-anchor="middle">15</text>
<text class="tt" x="186.9" y="160.6" text-anchor="middle" textLength="17.5" lengthAdjust="spacingAndGlyphs">loess</text></g>
<text x="18.3" y="68.8" font-size="18.8px" font-weight="bold" fill="#000">A.</text>
<text x="367.8" y="60.3" font-size="18.8px" font-weight="bold" fill="#000">B.</text>
<g>
<line x1="444.2" y1="228.6" x2="648.6" y2="56.0" stroke="#555" stroke-width="0.9" stroke-dasharray="3.4 2.4"/>
<polyline points="469.8,193.2 477.2,188.7 484.6,184.1 492.0,179.6 499.4,175.1 506.9,170.6 514.3,166.0 521.7,161.5 529.1,157.0 536.5,152.5 543.9,148.1 551.3,143.7 558.7,139.3 566.1,135.0 573.5,130.6 580.9,126.4 588.3,122.1 595.7,117.9 603.2,113.7 610.6,109.5 618.0,105.3 625.4,101.2 632.8,97.1 640.2,93.1 647.6,89.0" fill="none" stroke="#ff0000" stroke-width="1.3" stroke-linecap="round" stroke-linejoin="round"/>
<polyline points="469.8,193.2 477.2,188.7 484.6,184.1 492.0,179.6 499.4,175.1 506.9,170.6 514.3,166.0 521.7,161.5 529.1,157.0 536.5,152.5 543.9,148.1 551.3,143.7 558.7,139.3 566.1,135.0 573.5,130.6 580.9,126.4 588.3,122.1 595.7,117.9 603.2,113.7 610.6,109.5 618.0,105.3 625.4,101.2 632.8,97.1 640.2,93.1 647.6,89.0" fill="none" stroke="#00cd00" stroke-width="1.3" stroke-linecap="round" stroke-linejoin="round"/>
<polyline points="469.8,192.8 477.2,188.2 484.6,183.7 492.0,179.2 499.4,174.6 506.9,170.1 514.3,165.6 521.7,161.1 529.1,156.8 536.5,152.4 543.9,148.1 551.3,143.7 558.7,139.3 566.1,135.0 573.5,130.6 580.9,126.4 588.3,122.1 595.7,117.9 603.2,113.7 610.6,109.5 618.0,105.3 625.4,101.2 632.8,97.1 640.2,93.1 647.6,89.0" fill="none" stroke="#0000ff" stroke-width="1.5" stroke-linecap="round" stroke-linejoin="round"/>
<polyline points="469.3,189.2 476.7,185.2 484.2,181.1 491.6,177.0 499.0,173.0 506.4,168.9 513.9,164.8 521.3,160.8 528.7,156.7 536.2,152.6 543.6,148.6 551.0,144.6 558.4,140.6 565.9,136.6 573.3,132.7 580.7,128.8 588.2,124.9 595.6,121.0 603.0,117.2 610.5,113.4 617.9,109.6 625.3,105.8 632.7,102.1 640.2,98.4 647.6,94.7" fill="none" stroke="#10e0f0" stroke-width="1.3" stroke-linecap="round" stroke-linejoin="round"/>
<defs><linearGradient id="mg" gradientUnits="userSpaceOnUse" x1="469.8" y1="0" x2="647.6" y2="0"><stop offset="0" stop-color="#cc00a4"/><stop offset="0.3" stop-color="#c000b0"/><stop offset="0.55" stop-color="#a008d0"/><stop offset="1" stop-color="#9a08de"/></linearGradient></defs>
<polyline points="469.8,193.2 477.2,188.7 484.6,184.1 492.0,179.6 499.4,175.1 506.9,170.6 514.3,166.0 521.7,161.5 529.1,157.0 536.5,152.5 543.9,148.1 551.3,143.7 558.7,139.3 566.1,135.0 573.5,130.6 580.9,126.4 588.3,122.1 595.7,117.9 603.2,113.7 610.6,109.5 618.0,105.3 625.4,101.2 632.8,97.1 640.2,93.1 647.6,89.0" fill="none" stroke="url(#mg)" stroke-width="1.6" stroke-linecap="round" stroke-linejoin="round"/>
<rect class="ax" x="436.5" y="48.5" width="220.0" height="187.0"/>
<path class="ax" d="M457.2 235.5v5M436.5 217.6h-5M494.3 235.5v5M436.5 186.1h-5M531.4 235.5v5M436.5 154.6h-5M568.5 235.5v5M436.5 123.1h-5M605.6 235.5v5M436.5 91.6h-5M642.7 235.5v5M436.5 60.1h-5"/>
<text class="ba" x="457.2" y="256.1" text-anchor="middle">-10</text>
<text class="ba" transform="translate(425.7 217.6) rotate(-90)" text-anchor="middle">-10</text>
<text class="ba" x="494.3" y="256.1" text-anchor="middle">-5</text>
<text class="ba" transform="translate(425.7 186.1) rotate(-90)" text-anchor="middle">-5</text>
<text class="ba" x="531.4" y="256.1" text-anchor="middle">0</text>
<text class="ba" transform="translate(425.7 154.6) rotate(-90)" text-anchor="middle">0</text>
<text class="ba" x="568.5" y="256.1" text-anchor="middle">5</text>
<text class="ba" transform="translate(425.7 123.1) rotate(-90)" text-anchor="middle">5</text>
<text class="ba" x="605.6" y="256.1" text-anchor="middle">10</text>
<text class="ba" transform="translate(425.7 91.6) rotate(-90)" text-anchor="middle">10</text>
<text class="ba" x="642.7" y="256.1" text-anchor="middle">15</text>
<text class="ba" transform="translate(425.7 60.1) rotate(-90)" text-anchor="middle">15</text>
<text class="ba" x="546.0" y="277.4" text-anchor="middle">FC TaqMan</text>
<text class="ba" transform="translate(405 142.0) rotate(-90)" text-anchor="middle">FC microarray</text>
<text x="545.9" y="31.6" font-size="11.2px" font-weight="bold" fill="#000" text-anchor="middle">UHR vs. Brain</text>
<rect x="436.5" y="48.5" width="58" height="65" fill="#fff" stroke="#4a4a4a" stroke-width="1"/>
<circle cx="443.8" cy="60.3" r="1.05" fill="#e00030"/>
<text class="bl" x="456" y="63.5">Quantile</text>
<circle cx="443.8" cy="70.9" r="1.05" fill="#22bb22"/>
<text class="bl" x="456" y="74.1">Median</text>
<circle cx="443.8" cy="81.5" r="1.05" fill="#0000ee"/>
<text class="bl" x="456" y="84.7">Scale</text>
<circle cx="443.8" cy="92.1" r="1.05" fill="#00e0e8"/>
<text class="bl" x="456" y="95.3">VSN</text>
<circle cx="443.8" cy="102.7" r="1.05" fill="#dd00cc"/>
<text class="bl" x="456" y="105.9">loess</text>
</g>
</svg></body></html>
